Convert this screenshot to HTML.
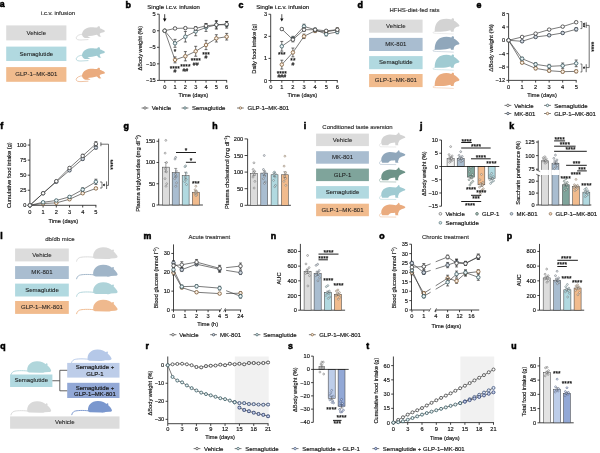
<!DOCTYPE html>
<html><head><meta charset="utf-8"><title>Figure</title>
<style>html,body{margin:0;padding:0;background:#fff;}body{width:600px;height:453px;overflow:hidden;font-family:"Liberation Sans",sans-serif;}svg{display:block;will-change:transform;opacity:0.999;}</style></head>
<body>
<svg width="600" height="453" viewBox="0 0 600 453" font-family="'Liberation Sans', sans-serif" shape-rendering="geometricPrecision">
<defs><filter id="soft" x="0" y="0" width="100%" height="100%" filterUnits="userSpaceOnUse"><feGaussianBlur stdDeviation="0.3"/></filter></defs>
<rect width="600" height="453" fill="#ffffff"/>
<g filter="url(#soft)">
<rect width="600" height="453" fill="#ffffff"/>
<g>
<text transform="translate(-0.2 7.1)" font-size="8.8" text-anchor="start" font-weight="bold" fill="#000" stroke="#000" stroke-width="0.55">a</text>
<text transform="translate(58 14.6) scale(1 1)" font-size="6" text-anchor="middle" fill="#333" stroke="#333" stroke-width="0.17">i.c.v. infusion</text>
<rect x="6.2" y="25.4" width="60.2" height="15" fill="#dcdcdc"/>
<text transform="translate(36.3 34.6) scale(1 1)" font-size="6.05" text-anchor="middle" fill="#1c1c1c" stroke="#1c1c1c" stroke-width="0.07">Vehicle</text>
<rect x="6.2" y="46.6" width="60.2" height="14.4" fill="#b1d9e0"/>
<text transform="translate(36.3 55.5) scale(1 1)" font-size="6.05" text-anchor="middle" fill="#1c1c1c" stroke="#1c1c1c" stroke-width="0.07">Semaglutide</text>
<rect x="6.2" y="67.1" width="60.2" height="14.7" fill="#f1bb8d"/>
<text transform="translate(36.3 76.15) scale(1 1)" font-size="6.05" text-anchor="middle" fill="#1c1c1c" stroke="#1c1c1c" stroke-width="0.07">GLP-1&#8211;MK-801</text>
<g transform="translate(75 25.2) scale(1)">
<path d="M7 9.2 C7.3 5.5 10.5 2.2 15.5 2 C18.5 1.9 20.5 2.3 22.2 2.3 C22.6 1.2 23.8 0.6 24.6 1.3 C25.2 1.9 25 2.6 24.8 3 C26.8 3.6 28.8 4.6 29.8 5.6 C30.1 6.2 29.6 6.8 28.6 7 C27 7.4 25.8 7.6 24.8 8.2 C24.6 9.6 25.2 10.6 26.4 11.4 L24.2 11.6 C23 10.8 22.4 9.8 21.6 9.6 C19 10.4 15.5 10.8 12.5 11.2 C13.5 11.8 14.8 12.2 15.6 12.9 L10.4 12.9 C8.6 12.4 7.2 11 7 9.2 Z" fill="#d3d3d3"/>
<path d="M7.4 9 C4.6 9 1.4 10.6 1.2 12.6 C1.1 14.3 3.2 14.9 6 14.8 L13 14.4" fill="none" stroke="#d3d3d3" stroke-width="0.7" stroke-linecap="round"/>
</g>
<g transform="translate(75 46.2) scale(1)">
<path d="M7 9.2 C7.3 5.5 10.5 2.2 15.5 2 C18.5 1.9 20.5 2.3 22.2 2.3 C22.6 1.2 23.8 0.6 24.6 1.3 C25.2 1.9 25 2.6 24.8 3 C26.8 3.6 28.8 4.6 29.8 5.6 C30.1 6.2 29.6 6.8 28.6 7 C27 7.4 25.8 7.6 24.8 8.2 C24.6 9.6 25.2 10.6 26.4 11.4 L24.2 11.6 C23 10.8 22.4 9.8 21.6 9.6 C19 10.4 15.5 10.8 12.5 11.2 C13.5 11.8 14.8 12.2 15.6 12.9 L10.4 12.9 C8.6 12.4 7.2 11 7 9.2 Z" fill="#a0cbd2"/>
<path d="M7.4 9 C4.6 9 1.4 10.6 1.2 12.6 C1.1 14.3 3.2 14.9 6 14.8 L13 14.4" fill="none" stroke="#a0cbd2" stroke-width="0.7" stroke-linecap="round"/>
</g>
<g transform="translate(75 66.8) scale(1)">
<path d="M7 9.2 C7.3 5.5 10.5 2.2 15.5 2 C18.5 1.9 20.5 2.3 22.2 2.3 C22.6 1.2 23.8 0.6 24.6 1.3 C25.2 1.9 25 2.6 24.8 3 C26.8 3.6 28.8 4.6 29.8 5.6 C30.1 6.2 29.6 6.8 28.6 7 C27 7.4 25.8 7.6 24.8 8.2 C24.6 9.6 25.2 10.6 26.4 11.4 L24.2 11.6 C23 10.8 22.4 9.8 21.6 9.6 C19 10.4 15.5 10.8 12.5 11.2 C13.5 11.8 14.8 12.2 15.6 12.9 L10.4 12.9 C8.6 12.4 7.2 11 7 9.2 Z" fill="#eaab7e"/>
<path d="M7.4 9 C4.6 9 1.4 10.6 1.2 12.6 C1.1 14.3 3.2 14.9 6 14.8 L13 14.4" fill="none" stroke="#eaab7e" stroke-width="0.7" stroke-linecap="round"/>
</g>
</g>
<g>
<text transform="translate(125.5 7.5)" font-size="8.8" text-anchor="start" font-weight="bold" fill="#000" stroke="#000" stroke-width="0.55">b</text>
<text transform="translate(147.3 9.3) scale(1 1)" font-size="6" text-anchor="start" fill="#161616" stroke="#161616" stroke-width="0.17">Single i.c.v. infusion</text>
<line x1="159.2" y1="14.2" x2="159.2" y2="80.4" stroke="#222222" stroke-width="0.85"/>
<line x1="157" y1="14.2" x2="159.2" y2="14.2" stroke="#222222" stroke-width="0.85"/>
<text transform="translate(155.7 16.2) scale(1 1)" font-size="5.65" text-anchor="end" fill="#161616" stroke="#161616" stroke-width="0.17">5</text>
<line x1="157" y1="30.75" x2="159.2" y2="30.75" stroke="#222222" stroke-width="0.85"/>
<text transform="translate(155.7 32.75) scale(1 1)" font-size="5.65" text-anchor="end" fill="#161616" stroke="#161616" stroke-width="0.17">0</text>
<line x1="157" y1="47.3" x2="159.2" y2="47.3" stroke="#222222" stroke-width="0.85"/>
<text transform="translate(155.7 49.3) scale(1 1)" font-size="5.65" text-anchor="end" fill="#161616" stroke="#161616" stroke-width="0.17">&#8722;5</text>
<line x1="157" y1="63.85" x2="159.2" y2="63.85" stroke="#222222" stroke-width="0.85"/>
<text transform="translate(155.7 65.85) scale(1 1)" font-size="5.65" text-anchor="end" fill="#161616" stroke="#161616" stroke-width="0.17">&#8722;10</text>
<line x1="157" y1="80.4" x2="159.2" y2="80.4" stroke="#222222" stroke-width="0.85"/>
<text transform="translate(155.7 82.4) scale(1 1)" font-size="5.65" text-anchor="end" fill="#161616" stroke="#161616" stroke-width="0.17">&#8722;15</text>
<line x1="159.2" y1="80.4" x2="227.08" y2="80.4" stroke="#222222" stroke-width="0.85"/>
<line x1="164.7" y1="80.4" x2="164.7" y2="82.6" stroke="#222222" stroke-width="0.85"/>
<text transform="translate(164.7 88.7) scale(1 1)" font-size="5.65" text-anchor="middle" fill="#161616" stroke="#161616" stroke-width="0.17">0</text>
<line x1="175.03" y1="80.4" x2="175.03" y2="82.6" stroke="#222222" stroke-width="0.85"/>
<text transform="translate(175.03 88.7) scale(1 1)" font-size="5.65" text-anchor="middle" fill="#161616" stroke="#161616" stroke-width="0.17">1</text>
<line x1="185.36" y1="80.4" x2="185.36" y2="82.6" stroke="#222222" stroke-width="0.85"/>
<text transform="translate(185.36 88.7) scale(1 1)" font-size="5.65" text-anchor="middle" fill="#161616" stroke="#161616" stroke-width="0.17">2</text>
<line x1="195.69" y1="80.4" x2="195.69" y2="82.6" stroke="#222222" stroke-width="0.85"/>
<text transform="translate(195.69 88.7) scale(1 1)" font-size="5.65" text-anchor="middle" fill="#161616" stroke="#161616" stroke-width="0.17">3</text>
<line x1="206.02" y1="80.4" x2="206.02" y2="82.6" stroke="#222222" stroke-width="0.85"/>
<text transform="translate(206.02 88.7) scale(1 1)" font-size="5.65" text-anchor="middle" fill="#161616" stroke="#161616" stroke-width="0.17">4</text>
<line x1="216.35" y1="80.4" x2="216.35" y2="82.6" stroke="#222222" stroke-width="0.85"/>
<text transform="translate(216.35 88.7) scale(1 1)" font-size="5.65" text-anchor="middle" fill="#161616" stroke="#161616" stroke-width="0.17">5</text>
<line x1="226.68" y1="80.4" x2="226.68" y2="82.6" stroke="#222222" stroke-width="0.85"/>
<text transform="translate(226.68 88.7) scale(1 1)" font-size="5.65" text-anchor="middle" fill="#161616" stroke="#161616" stroke-width="0.17">6</text>
<text transform="translate(193.3 97.2) scale(1 1)" font-size="5.65" text-anchor="middle" fill="#161616" stroke="#161616" stroke-width="0.17">Time (days)</text>
<text transform="translate(141.8 48.2) rotate(-90) scale(1 1)" font-size="5.65" text-anchor="middle" fill="#161616" stroke="#161616" stroke-width="0.17">&#916;Body weight (%)</text>
<line x1="164.7" y1="14.2" x2="164.7" y2="19.5" stroke="#111" stroke-width="0.8"/>
<path d="M162.9 18.4 L166.5 18.4 L164.7 21.8 Z" fill="#111"/>
<path d="M164.7 30.75 L175.03 59.88 L185.36 56.24 L195.69 51.27 L206.02 44.98 L216.35 38.36 L226.68 36.71" fill="none" stroke="#333" stroke-width="0.65"/>
<line x1="175.03" y1="56.9" x2="175.03" y2="62.86" stroke="#222222" stroke-width="0.65"/>
<line x1="173.53" y1="56.9" x2="176.53" y2="56.9" stroke="#222222" stroke-width="0.65"/>
<line x1="173.53" y1="62.86" x2="176.53" y2="62.86" stroke="#222222" stroke-width="0.65"/>
<line x1="185.36" y1="51.6" x2="185.36" y2="60.87" stroke="#222222" stroke-width="0.65"/>
<line x1="183.86" y1="51.6" x2="186.86" y2="51.6" stroke="#222222" stroke-width="0.65"/>
<line x1="183.86" y1="60.87" x2="186.86" y2="60.87" stroke="#222222" stroke-width="0.65"/>
<line x1="195.69" y1="46.31" x2="195.69" y2="56.24" stroke="#222222" stroke-width="0.65"/>
<line x1="194.19" y1="46.31" x2="197.19" y2="46.31" stroke="#222222" stroke-width="0.65"/>
<line x1="194.19" y1="56.24" x2="197.19" y2="56.24" stroke="#222222" stroke-width="0.65"/>
<line x1="206.02" y1="40.35" x2="206.02" y2="49.62" stroke="#222222" stroke-width="0.65"/>
<line x1="204.52" y1="40.35" x2="207.52" y2="40.35" stroke="#222222" stroke-width="0.65"/>
<line x1="204.52" y1="49.62" x2="207.52" y2="49.62" stroke="#222222" stroke-width="0.65"/>
<line x1="216.35" y1="34.72" x2="216.35" y2="42" stroke="#222222" stroke-width="0.65"/>
<line x1="214.85" y1="34.72" x2="217.85" y2="34.72" stroke="#222222" stroke-width="0.65"/>
<line x1="214.85" y1="42" x2="217.85" y2="42" stroke="#222222" stroke-width="0.65"/>
<line x1="226.68" y1="33.4" x2="226.68" y2="40.02" stroke="#222222" stroke-width="0.65"/>
<line x1="225.18" y1="33.4" x2="228.18" y2="33.4" stroke="#222222" stroke-width="0.65"/>
<line x1="225.18" y1="40.02" x2="228.18" y2="40.02" stroke="#222222" stroke-width="0.65"/>
<circle cx="164.7" cy="30.75" r="1.75" fill="#fbf1e6" stroke="#896742" stroke-width="0.88"/>
<circle cx="175.03" cy="59.88" r="1.75" fill="#fbf1e6" stroke="#896742" stroke-width="0.88"/>
<circle cx="185.36" cy="56.24" r="1.75" fill="#fbf1e6" stroke="#896742" stroke-width="0.88"/>
<circle cx="195.69" cy="51.27" r="1.75" fill="#fbf1e6" stroke="#896742" stroke-width="0.88"/>
<circle cx="206.02" cy="44.98" r="1.75" fill="#fbf1e6" stroke="#896742" stroke-width="0.88"/>
<circle cx="216.35" cy="38.36" r="1.75" fill="#fbf1e6" stroke="#896742" stroke-width="0.88"/>
<circle cx="226.68" cy="36.71" r="1.75" fill="#fbf1e6" stroke="#896742" stroke-width="0.88"/>
<path d="M164.7 30.75 L175.03 43.33 L185.36 36.71 L195.69 31.41 L206.02 27.44 L216.35 24.79 L226.68 24.79" fill="none" stroke="#333" stroke-width="0.65"/>
<line x1="175.03" y1="39.36" x2="175.03" y2="47.3" stroke="#222222" stroke-width="0.65"/>
<line x1="173.53" y1="39.36" x2="176.53" y2="39.36" stroke="#222222" stroke-width="0.65"/>
<line x1="173.53" y1="47.3" x2="176.53" y2="47.3" stroke="#222222" stroke-width="0.65"/>
<line x1="185.36" y1="31.41" x2="185.36" y2="42" stroke="#222222" stroke-width="0.65"/>
<line x1="183.86" y1="31.41" x2="186.86" y2="31.41" stroke="#222222" stroke-width="0.65"/>
<line x1="183.86" y1="42" x2="186.86" y2="42" stroke="#222222" stroke-width="0.65"/>
<line x1="195.69" y1="27.11" x2="195.69" y2="35.71" stroke="#222222" stroke-width="0.65"/>
<line x1="194.19" y1="27.11" x2="197.19" y2="27.11" stroke="#222222" stroke-width="0.65"/>
<line x1="194.19" y1="35.71" x2="197.19" y2="35.71" stroke="#222222" stroke-width="0.65"/>
<line x1="206.02" y1="23.47" x2="206.02" y2="31.41" stroke="#222222" stroke-width="0.65"/>
<line x1="204.52" y1="23.47" x2="207.52" y2="23.47" stroke="#222222" stroke-width="0.65"/>
<line x1="204.52" y1="31.41" x2="207.52" y2="31.41" stroke="#222222" stroke-width="0.65"/>
<line x1="216.35" y1="20.49" x2="216.35" y2="29.1" stroke="#222222" stroke-width="0.65"/>
<line x1="214.85" y1="20.49" x2="217.85" y2="20.49" stroke="#222222" stroke-width="0.65"/>
<line x1="214.85" y1="29.1" x2="217.85" y2="29.1" stroke="#222222" stroke-width="0.65"/>
<line x1="226.68" y1="21.48" x2="226.68" y2="28.1" stroke="#222222" stroke-width="0.65"/>
<line x1="225.18" y1="21.48" x2="228.18" y2="21.48" stroke="#222222" stroke-width="0.65"/>
<line x1="225.18" y1="28.1" x2="228.18" y2="28.1" stroke="#222222" stroke-width="0.65"/>
<circle cx="164.7" cy="30.75" r="1.75" fill="#edf5f6" stroke="#46646b" stroke-width="0.88"/>
<circle cx="175.03" cy="43.33" r="1.75" fill="#edf5f6" stroke="#46646b" stroke-width="0.88"/>
<circle cx="185.36" cy="36.71" r="1.75" fill="#edf5f6" stroke="#46646b" stroke-width="0.88"/>
<circle cx="195.69" cy="31.41" r="1.75" fill="#edf5f6" stroke="#46646b" stroke-width="0.88"/>
<circle cx="206.02" cy="27.44" r="1.75" fill="#edf5f6" stroke="#46646b" stroke-width="0.88"/>
<circle cx="216.35" cy="24.79" r="1.75" fill="#edf5f6" stroke="#46646b" stroke-width="0.88"/>
<circle cx="226.68" cy="24.79" r="1.75" fill="#edf5f6" stroke="#46646b" stroke-width="0.88"/>
<path d="M164.7 30.75 L175.03 28.43 L185.36 28.1 L195.69 28.43 L206.02 25.79 L216.35 24.79 L226.68 24.13" fill="none" stroke="#333" stroke-width="0.65"/>
<line x1="175.03" y1="27.44" x2="175.03" y2="29.43" stroke="#222222" stroke-width="0.65"/>
<line x1="173.53" y1="27.44" x2="176.53" y2="27.44" stroke="#222222" stroke-width="0.65"/>
<line x1="173.53" y1="29.43" x2="176.53" y2="29.43" stroke="#222222" stroke-width="0.65"/>
<line x1="185.36" y1="27.11" x2="185.36" y2="29.09" stroke="#222222" stroke-width="0.65"/>
<line x1="183.86" y1="27.11" x2="186.86" y2="27.11" stroke="#222222" stroke-width="0.65"/>
<line x1="183.86" y1="29.09" x2="186.86" y2="29.09" stroke="#222222" stroke-width="0.65"/>
<line x1="195.69" y1="26.78" x2="195.69" y2="30.09" stroke="#222222" stroke-width="0.65"/>
<line x1="194.19" y1="26.78" x2="197.19" y2="26.78" stroke="#222222" stroke-width="0.65"/>
<line x1="194.19" y1="30.09" x2="197.19" y2="30.09" stroke="#222222" stroke-width="0.65"/>
<line x1="206.02" y1="23.8" x2="206.02" y2="27.77" stroke="#222222" stroke-width="0.65"/>
<line x1="204.52" y1="23.8" x2="207.52" y2="23.8" stroke="#222222" stroke-width="0.65"/>
<line x1="204.52" y1="27.77" x2="207.52" y2="27.77" stroke="#222222" stroke-width="0.65"/>
<line x1="216.35" y1="21.48" x2="216.35" y2="28.1" stroke="#222222" stroke-width="0.65"/>
<line x1="214.85" y1="21.48" x2="217.85" y2="21.48" stroke="#222222" stroke-width="0.65"/>
<line x1="214.85" y1="28.1" x2="217.85" y2="28.1" stroke="#222222" stroke-width="0.65"/>
<line x1="226.68" y1="21.48" x2="226.68" y2="26.78" stroke="#222222" stroke-width="0.65"/>
<line x1="225.18" y1="21.48" x2="228.18" y2="21.48" stroke="#222222" stroke-width="0.65"/>
<line x1="225.18" y1="26.78" x2="228.18" y2="26.78" stroke="#222222" stroke-width="0.65"/>
<circle cx="164.7" cy="30.75" r="1.75" fill="#fff" stroke="#505050" stroke-width="0.88"/>
<circle cx="175.03" cy="28.43" r="1.75" fill="#fff" stroke="#505050" stroke-width="0.88"/>
<circle cx="185.36" cy="28.1" r="1.75" fill="#fff" stroke="#505050" stroke-width="0.88"/>
<circle cx="195.69" cy="28.43" r="1.75" fill="#fff" stroke="#505050" stroke-width="0.88"/>
<circle cx="206.02" cy="25.79" r="1.75" fill="#fff" stroke="#505050" stroke-width="0.88"/>
<circle cx="216.35" cy="24.79" r="1.75" fill="#fff" stroke="#505050" stroke-width="0.88"/>
<circle cx="226.68" cy="24.13" r="1.75" fill="#fff" stroke="#505050" stroke-width="0.88"/>
<text transform="translate(175.03 54.13)" font-size="6.5" text-anchor="middle" fill="#111" stroke="#111" stroke-width="0.22">*</text>
<text transform="translate(174.73 70.83)" font-size="6.5" text-anchor="middle" fill="#111" stroke="#111" stroke-width="0.22">****</text>
<text transform="translate(175.03 73.27)" font-size="5.2" text-anchor="middle" fill="#1c1c1c" stroke="#1c1c1c" stroke-width="0.12">#</text>
<text transform="translate(185.36 68.83)" font-size="6.5" text-anchor="middle" fill="#111" stroke="#111" stroke-width="0.22">****</text>
<text transform="translate(185.36 71.87)" font-size="5.2" text-anchor="middle" fill="#1c1c1c" stroke="#1c1c1c" stroke-width="0.12">##</text>
<text transform="translate(195.69 63.33)" font-size="6.5" text-anchor="middle" fill="#111" stroke="#111" stroke-width="0.22">****</text>
<text transform="translate(195.69 65.77)" font-size="5.2" text-anchor="middle" fill="#1c1c1c" stroke="#1c1c1c" stroke-width="0.12">##</text>
<text transform="translate(206.02 56.53)" font-size="6.5" text-anchor="middle" fill="#111" stroke="#111" stroke-width="0.22">***</text>
<text transform="translate(206.02 58.97)" font-size="5.2" text-anchor="middle" fill="#1c1c1c" stroke="#1c1c1c" stroke-width="0.12">#</text>
<line x1="141.6" y1="108" x2="148.4" y2="108" stroke="#333" stroke-width="0.65"/>
<circle cx="145" cy="108" r="1.2" fill="#fff" stroke="#505050" stroke-width="0.8"/>
<text transform="translate(151.7 110.1) scale(1 1)" font-size="6" text-anchor="start" fill="#161616" stroke="#161616" stroke-width="0.17">Vehicle</text>
<line x1="181.6" y1="108" x2="188.4" y2="108" stroke="#333" stroke-width="0.65"/>
<circle cx="185" cy="108" r="1.2" fill="#edf5f6" stroke="#46646b" stroke-width="0.8"/>
<text transform="translate(192 110.1) scale(1 1)" font-size="6" text-anchor="start" fill="#161616" stroke="#161616" stroke-width="0.17">Semaglutide</text>
<line x1="237" y1="108" x2="243.8" y2="108" stroke="#333" stroke-width="0.65"/>
<circle cx="240.4" cy="108" r="1.2" fill="#fbf1e6" stroke="#896742" stroke-width="0.8"/>
<text transform="translate(247.5 110.1) scale(1 1)" font-size="6" text-anchor="start" fill="#161616" stroke="#161616" stroke-width="0.17">GLP-1&#8211;MK-801</text>
</g>
<g>
<text transform="translate(238.5 7.5)" font-size="8.8" text-anchor="start" font-weight="bold" fill="#000" stroke="#000" stroke-width="0.55">c</text>
<text transform="translate(256.2 9.3) scale(1 1)" font-size="6.05" text-anchor="start" fill="#161616" stroke="#161616" stroke-width="0.17">Single i.c.v. infusion</text>
<line x1="270.7" y1="14.26" x2="270.7" y2="80.5" stroke="#222222" stroke-width="0.85"/>
<line x1="268.5" y1="80.5" x2="270.7" y2="80.5" stroke="#222222" stroke-width="0.85"/>
<text transform="translate(267.2 82.5) scale(1 1)" font-size="5.65" text-anchor="end" fill="#161616" stroke="#161616" stroke-width="0.17">0</text>
<line x1="268.5" y1="58.42" x2="270.7" y2="58.42" stroke="#222222" stroke-width="0.85"/>
<text transform="translate(267.2 60.42) scale(1 1)" font-size="5.65" text-anchor="end" fill="#161616" stroke="#161616" stroke-width="0.17">1</text>
<line x1="268.5" y1="36.34" x2="270.7" y2="36.34" stroke="#222222" stroke-width="0.85"/>
<text transform="translate(267.2 38.34) scale(1 1)" font-size="5.65" text-anchor="end" fill="#161616" stroke="#161616" stroke-width="0.17">2</text>
<line x1="268.5" y1="14.26" x2="270.7" y2="14.26" stroke="#222222" stroke-width="0.85"/>
<text transform="translate(267.2 16.26) scale(1 1)" font-size="5.65" text-anchor="end" fill="#161616" stroke="#161616" stroke-width="0.17">3</text>
<line x1="270.7" y1="80.5" x2="337.7" y2="80.5" stroke="#222222" stroke-width="0.85"/>
<line x1="270.7" y1="80.5" x2="270.7" y2="82.7" stroke="#222222" stroke-width="0.85"/>
<text transform="translate(270.7 88.8) scale(1 1)" font-size="5.65" text-anchor="middle" fill="#161616" stroke="#161616" stroke-width="0.17">0</text>
<line x1="281.8" y1="80.5" x2="281.8" y2="82.7" stroke="#222222" stroke-width="0.85"/>
<text transform="translate(281.8 88.8) scale(1 1)" font-size="5.65" text-anchor="middle" fill="#161616" stroke="#161616" stroke-width="0.17">1</text>
<line x1="292.9" y1="80.5" x2="292.9" y2="82.7" stroke="#222222" stroke-width="0.85"/>
<text transform="translate(292.9 88.8) scale(1 1)" font-size="5.65" text-anchor="middle" fill="#161616" stroke="#161616" stroke-width="0.17">2</text>
<line x1="304" y1="80.5" x2="304" y2="82.7" stroke="#222222" stroke-width="0.85"/>
<text transform="translate(304 88.8) scale(1 1)" font-size="5.65" text-anchor="middle" fill="#161616" stroke="#161616" stroke-width="0.17">3</text>
<line x1="315.1" y1="80.5" x2="315.1" y2="82.7" stroke="#222222" stroke-width="0.85"/>
<text transform="translate(315.1 88.8) scale(1 1)" font-size="5.65" text-anchor="middle" fill="#161616" stroke="#161616" stroke-width="0.17">4</text>
<line x1="326.2" y1="80.5" x2="326.2" y2="82.7" stroke="#222222" stroke-width="0.85"/>
<text transform="translate(326.2 88.8) scale(1 1)" font-size="5.65" text-anchor="middle" fill="#161616" stroke="#161616" stroke-width="0.17">5</text>
<line x1="337.3" y1="80.5" x2="337.3" y2="82.7" stroke="#222222" stroke-width="0.85"/>
<text transform="translate(337.3 88.8) scale(1 1)" font-size="5.65" text-anchor="middle" fill="#161616" stroke="#161616" stroke-width="0.17">6</text>
<text transform="translate(302.4 97.2) scale(1 1)" font-size="5.65" text-anchor="middle" fill="#161616" stroke="#161616" stroke-width="0.17">Time (days)</text>
<text transform="translate(256.2 48.6) rotate(-90) scale(1 1)" font-size="5.65" text-anchor="middle" fill="#161616" stroke="#161616" stroke-width="0.17">Daily food intake (g)</text>
<line x1="281.8" y1="14.2" x2="281.8" y2="19.5" stroke="#111" stroke-width="0.7"/>
<path d="M280.1 18.6 L283.5 18.6 L281.8 21.6 Z" fill="#111"/>
<path d="M281.8 64.6 L292.9 52.46 L304 36.34 L315.1 30.82 L326.2 31.92 L337.3 29.72" fill="none" stroke="#333" stroke-width="0.65"/>
<line x1="281.8" y1="60.19" x2="281.8" y2="69.02" stroke="#222222" stroke-width="0.65"/>
<line x1="280.3" y1="60.19" x2="283.3" y2="60.19" stroke="#222222" stroke-width="0.65"/>
<line x1="280.3" y1="69.02" x2="283.3" y2="69.02" stroke="#222222" stroke-width="0.65"/>
<line x1="292.9" y1="48.04" x2="292.9" y2="56.87" stroke="#222222" stroke-width="0.65"/>
<line x1="291.4" y1="48.04" x2="294.4" y2="48.04" stroke="#222222" stroke-width="0.65"/>
<line x1="291.4" y1="56.87" x2="294.4" y2="56.87" stroke="#222222" stroke-width="0.65"/>
<line x1="304" y1="34.13" x2="304" y2="38.55" stroke="#222222" stroke-width="0.65"/>
<line x1="302.5" y1="34.13" x2="305.5" y2="34.13" stroke="#222222" stroke-width="0.65"/>
<line x1="302.5" y1="38.55" x2="305.5" y2="38.55" stroke="#222222" stroke-width="0.65"/>
<line x1="315.1" y1="29.05" x2="315.1" y2="32.59" stroke="#222222" stroke-width="0.65"/>
<line x1="313.6" y1="29.05" x2="316.6" y2="29.05" stroke="#222222" stroke-width="0.65"/>
<line x1="313.6" y1="32.59" x2="316.6" y2="32.59" stroke="#222222" stroke-width="0.65"/>
<line x1="326.2" y1="30.38" x2="326.2" y2="33.47" stroke="#222222" stroke-width="0.65"/>
<line x1="324.7" y1="30.38" x2="327.7" y2="30.38" stroke="#222222" stroke-width="0.65"/>
<line x1="324.7" y1="33.47" x2="327.7" y2="33.47" stroke="#222222" stroke-width="0.65"/>
<line x1="337.3" y1="27.95" x2="337.3" y2="31.48" stroke="#222222" stroke-width="0.65"/>
<line x1="335.8" y1="27.95" x2="338.8" y2="27.95" stroke="#222222" stroke-width="0.65"/>
<line x1="335.8" y1="31.48" x2="338.8" y2="31.48" stroke="#222222" stroke-width="0.65"/>
<circle cx="281.8" cy="64.6" r="1.75" fill="#fbf1e6" stroke="#896742" stroke-width="0.88"/>
<circle cx="292.9" cy="52.46" r="1.75" fill="#fbf1e6" stroke="#896742" stroke-width="0.88"/>
<circle cx="304" cy="36.34" r="1.75" fill="#fbf1e6" stroke="#896742" stroke-width="0.88"/>
<circle cx="315.1" cy="30.82" r="1.75" fill="#fbf1e6" stroke="#896742" stroke-width="0.88"/>
<circle cx="326.2" cy="31.92" r="1.75" fill="#fbf1e6" stroke="#896742" stroke-width="0.88"/>
<circle cx="337.3" cy="29.72" r="1.75" fill="#fbf1e6" stroke="#896742" stroke-width="0.88"/>
<path d="M281.8 46.28 L292.9 38.55 L304 26.4 L315.1 29.72 L326.2 34.13 L337.3 31.92" fill="none" stroke="#333" stroke-width="0.65"/>
<line x1="281.8" y1="41.42" x2="281.8" y2="51.13" stroke="#222222" stroke-width="0.65"/>
<line x1="280.3" y1="41.42" x2="283.3" y2="41.42" stroke="#222222" stroke-width="0.65"/>
<line x1="280.3" y1="51.13" x2="283.3" y2="51.13" stroke="#222222" stroke-width="0.65"/>
<line x1="292.9" y1="36.34" x2="292.9" y2="40.76" stroke="#222222" stroke-width="0.65"/>
<line x1="291.4" y1="36.34" x2="294.4" y2="36.34" stroke="#222222" stroke-width="0.65"/>
<line x1="291.4" y1="40.76" x2="294.4" y2="40.76" stroke="#222222" stroke-width="0.65"/>
<line x1="304" y1="24.2" x2="304" y2="28.61" stroke="#222222" stroke-width="0.65"/>
<line x1="302.5" y1="24.2" x2="305.5" y2="24.2" stroke="#222222" stroke-width="0.65"/>
<line x1="302.5" y1="28.61" x2="305.5" y2="28.61" stroke="#222222" stroke-width="0.65"/>
<line x1="315.1" y1="28.17" x2="315.1" y2="31.26" stroke="#222222" stroke-width="0.65"/>
<line x1="313.6" y1="28.17" x2="316.6" y2="28.17" stroke="#222222" stroke-width="0.65"/>
<line x1="313.6" y1="31.26" x2="316.6" y2="31.26" stroke="#222222" stroke-width="0.65"/>
<line x1="326.2" y1="32.37" x2="326.2" y2="35.9" stroke="#222222" stroke-width="0.65"/>
<line x1="324.7" y1="32.37" x2="327.7" y2="32.37" stroke="#222222" stroke-width="0.65"/>
<line x1="324.7" y1="35.9" x2="327.7" y2="35.9" stroke="#222222" stroke-width="0.65"/>
<line x1="337.3" y1="30.16" x2="337.3" y2="33.69" stroke="#222222" stroke-width="0.65"/>
<line x1="335.8" y1="30.16" x2="338.8" y2="30.16" stroke="#222222" stroke-width="0.65"/>
<line x1="335.8" y1="33.69" x2="338.8" y2="33.69" stroke="#222222" stroke-width="0.65"/>
<circle cx="281.8" cy="46.28" r="1.75" fill="#edf5f6" stroke="#46646b" stroke-width="0.88"/>
<circle cx="292.9" cy="38.55" r="1.75" fill="#edf5f6" stroke="#46646b" stroke-width="0.88"/>
<circle cx="304" cy="26.4" r="1.75" fill="#edf5f6" stroke="#46646b" stroke-width="0.88"/>
<circle cx="315.1" cy="29.72" r="1.75" fill="#edf5f6" stroke="#46646b" stroke-width="0.88"/>
<circle cx="326.2" cy="34.13" r="1.75" fill="#edf5f6" stroke="#46646b" stroke-width="0.88"/>
<circle cx="337.3" cy="31.92" r="1.75" fill="#edf5f6" stroke="#46646b" stroke-width="0.88"/>
<path d="M281.8 29.05 L292.9 39.65 L304 29.72 L315.1 29.72 L326.2 30.82 L337.3 29.72" fill="none" stroke="#333" stroke-width="0.65"/>
<line x1="281.8" y1="27.95" x2="281.8" y2="30.16" stroke="#222222" stroke-width="0.65"/>
<line x1="280.3" y1="27.95" x2="283.3" y2="27.95" stroke="#222222" stroke-width="0.65"/>
<line x1="280.3" y1="30.16" x2="283.3" y2="30.16" stroke="#222222" stroke-width="0.65"/>
<line x1="292.9" y1="37.44" x2="292.9" y2="41.86" stroke="#222222" stroke-width="0.65"/>
<line x1="291.4" y1="37.44" x2="294.4" y2="37.44" stroke="#222222" stroke-width="0.65"/>
<line x1="291.4" y1="41.86" x2="294.4" y2="41.86" stroke="#222222" stroke-width="0.65"/>
<line x1="304" y1="27.95" x2="304" y2="31.48" stroke="#222222" stroke-width="0.65"/>
<line x1="302.5" y1="27.95" x2="305.5" y2="27.95" stroke="#222222" stroke-width="0.65"/>
<line x1="302.5" y1="31.48" x2="305.5" y2="31.48" stroke="#222222" stroke-width="0.65"/>
<line x1="315.1" y1="28.39" x2="315.1" y2="31.04" stroke="#222222" stroke-width="0.65"/>
<line x1="313.6" y1="28.39" x2="316.6" y2="28.39" stroke="#222222" stroke-width="0.65"/>
<line x1="313.6" y1="31.04" x2="316.6" y2="31.04" stroke="#222222" stroke-width="0.65"/>
<line x1="326.2" y1="29.5" x2="326.2" y2="32.14" stroke="#222222" stroke-width="0.65"/>
<line x1="324.7" y1="29.5" x2="327.7" y2="29.5" stroke="#222222" stroke-width="0.65"/>
<line x1="324.7" y1="32.14" x2="327.7" y2="32.14" stroke="#222222" stroke-width="0.65"/>
<line x1="337.3" y1="28.17" x2="337.3" y2="31.26" stroke="#222222" stroke-width="0.65"/>
<line x1="335.8" y1="28.17" x2="338.8" y2="28.17" stroke="#222222" stroke-width="0.65"/>
<line x1="335.8" y1="31.26" x2="338.8" y2="31.26" stroke="#222222" stroke-width="0.65"/>
<circle cx="281.8" cy="29.05" r="1.75" fill="#fff" stroke="#505050" stroke-width="0.88"/>
<circle cx="292.9" cy="39.65" r="1.75" fill="#fff" stroke="#505050" stroke-width="0.88"/>
<circle cx="304" cy="29.72" r="1.75" fill="#fff" stroke="#505050" stroke-width="0.88"/>
<circle cx="315.1" cy="29.72" r="1.75" fill="#fff" stroke="#505050" stroke-width="0.88"/>
<circle cx="326.2" cy="30.82" r="1.75" fill="#fff" stroke="#505050" stroke-width="0.88"/>
<circle cx="337.3" cy="29.72" r="1.75" fill="#fff" stroke="#505050" stroke-width="0.88"/>
<text transform="translate(281.8 57.13)" font-size="6.5" text-anchor="middle" fill="#111" stroke="#111" stroke-width="0.22">***</text>
<text transform="translate(281.8 75.83)" font-size="6.5" text-anchor="middle" fill="#111" stroke="#111" stroke-width="0.22">****</text>
<text transform="translate(281.8 78.27)" font-size="5.2" text-anchor="middle" fill="#1c1c1c" stroke="#1c1c1c" stroke-width="0.12">###</text>
<text transform="translate(292.9 63.33)" font-size="6.5" text-anchor="middle" fill="#111" stroke="#111" stroke-width="0.22">**</text>
<text transform="translate(292.9 65.77)" font-size="5.2" text-anchor="middle" fill="#1c1c1c" stroke="#1c1c1c" stroke-width="0.12">#</text>
</g>
<g>
<text transform="translate(357.5 7.5)" font-size="8.8" text-anchor="start" font-weight="bold" fill="#000" stroke="#000" stroke-width="0.55">d</text>
<text transform="translate(414.5 12) scale(1 1)" font-size="6" text-anchor="middle" fill="#333" stroke="#333" stroke-width="0.17">HFHS-diet-fed rats</text>
<rect x="369.1" y="19.6" width="53.5" height="13.1" fill="#dcdcdc"/>
<text transform="translate(395.85 27.85) scale(1 1)" font-size="6.05" text-anchor="middle" fill="#1c1c1c" stroke="#1c1c1c" stroke-width="0.07">Vehicle</text>
<rect x="369.1" y="37.9" width="53.5" height="13.1" fill="#a9bdd0"/>
<text transform="translate(395.85 46.15) scale(1 1)" font-size="6.05" text-anchor="middle" fill="#1c1c1c" stroke="#1c1c1c" stroke-width="0.07">MK-801</text>
<rect x="369.1" y="56.1" width="53.5" height="13.1" fill="#b1d9e0"/>
<text transform="translate(395.85 64.35) scale(1 1)" font-size="6.05" text-anchor="middle" fill="#1c1c1c" stroke="#1c1c1c" stroke-width="0.07">Semaglutide</text>
<rect x="369.1" y="74" width="53.5" height="13.1" fill="#f1bb8d"/>
<text transform="translate(395.85 82.25) scale(1 1)" font-size="6.05" text-anchor="middle" fill="#1c1c1c" stroke="#1c1c1c" stroke-width="0.07">GLP-1&#8211;MK-801</text>
<g transform="translate(432.6 17.8) scale(0.99)">
<path d="M2.6 13.8 C1 14 0.2 14.6 0.5 15.2 C1 16 8 15.6 21 16.4" fill="none" stroke="#d3d3d3" stroke-width="0.9" stroke-linecap="round" opacity="0.45"/>
<path d="M2.2 14 C1.9 9 3.8 3.6 8.5 1.8 C12 0.5 16 0.6 19 1.7 C19.3 0.6 20.4 0.1 21.2 0.7 C21.8 1.2 21.7 2.0 21.4 2.7 C23.8 4 26 6 27 7.4 C27.3 8 26.9 8.6 26 8.8 C24.6 9 23.4 9.5 22.6 10.2 C21.6 11.2 21.2 12.6 21.3 14 L18.6 14 C18.5 13.3 18.3 12.8 17.8 12.6 C15.5 13.4 12 14 8 14 Z" fill="#d3d3d3"/>
</g>
<g transform="translate(432.6 35.9) scale(0.99)">
<path d="M2.6 13.8 C1 14 0.2 14.6 0.5 15.2 C1 16 8 15.6 21 16.4" fill="none" stroke="#90a7bb" stroke-width="0.9" stroke-linecap="round" opacity="0.45"/>
<path d="M2.2 14 C1.9 9 3.8 3.6 8.5 1.8 C12 0.5 16 0.6 19 1.7 C19.3 0.6 20.4 0.1 21.2 0.7 C21.8 1.2 21.7 2.0 21.4 2.7 C23.8 4 26 6 27 7.4 C27.3 8 26.9 8.6 26 8.8 C24.6 9 23.4 9.5 22.6 10.2 C21.6 11.2 21.2 12.6 21.3 14 L18.6 14 C18.5 13.3 18.3 12.8 17.8 12.6 C15.5 13.4 12 14 8 14 Z" fill="#90a7bb"/>
</g>
<g transform="translate(432.6 54) scale(0.99)">
<path d="M2.6 13.8 C1 14 0.2 14.6 0.5 15.2 C1 16 8 15.6 21 16.4" fill="none" stroke="#a0cbd2" stroke-width="0.9" stroke-linecap="round" opacity="0.45"/>
<path d="M2.2 14 C1.9 9 3.8 3.6 8.5 1.8 C12 0.5 16 0.6 19 1.7 C19.3 0.6 20.4 0.1 21.2 0.7 C21.8 1.2 21.7 2.0 21.4 2.7 C23.8 4 26 6 27 7.4 C27.3 8 26.9 8.6 26 8.8 C24.6 9 23.4 9.5 22.6 10.2 C21.6 11.2 21.2 12.6 21.3 14 L18.6 14 C18.5 13.3 18.3 12.8 17.8 12.6 C15.5 13.4 12 14 8 14 Z" fill="#a0cbd2"/>
</g>
<g transform="translate(432.6 72.2) scale(0.99)">
<path d="M2.6 13.8 C1 14 0.2 14.6 0.5 15.2 C1 16 8 15.6 21 16.4" fill="none" stroke="#eaab7e" stroke-width="0.9" stroke-linecap="round" opacity="0.45"/>
<path d="M2.2 14 C1.9 9 3.8 3.6 8.5 1.8 C12 0.5 16 0.6 19 1.7 C19.3 0.6 20.4 0.1 21.2 0.7 C21.8 1.2 21.7 2.0 21.4 2.7 C23.8 4 26 6 27 7.4 C27.3 8 26.9 8.6 26 8.8 C24.6 9 23.4 9.5 22.6 10.2 C21.6 11.2 21.2 12.6 21.3 14 L18.6 14 C18.5 13.3 18.3 12.8 17.8 12.6 C15.5 13.4 12 14 8 14 Z" fill="#eaab7e"/>
</g>
</g>
<g>
<text transform="translate(476.5 7.5)" font-size="8.8" text-anchor="start" font-weight="bold" fill="#000" stroke="#000" stroke-width="0.55">e</text>
<line x1="508.6" y1="13.58" x2="508.6" y2="80.38" stroke="#222222" stroke-width="0.85"/>
<line x1="506.4" y1="13.58" x2="508.6" y2="13.58" stroke="#222222" stroke-width="0.85"/>
<text transform="translate(505.1 15.58) scale(1 1)" font-size="5.65" text-anchor="end" fill="#161616" stroke="#161616" stroke-width="0.17">8</text>
<line x1="506.4" y1="26.94" x2="508.6" y2="26.94" stroke="#222222" stroke-width="0.85"/>
<text transform="translate(505.1 28.94) scale(1 1)" font-size="5.65" text-anchor="end" fill="#161616" stroke="#161616" stroke-width="0.17">4</text>
<line x1="506.4" y1="40.3" x2="508.6" y2="40.3" stroke="#222222" stroke-width="0.85"/>
<text transform="translate(505.1 42.3) scale(1 1)" font-size="5.65" text-anchor="end" fill="#161616" stroke="#161616" stroke-width="0.17">0</text>
<line x1="506.4" y1="53.66" x2="508.6" y2="53.66" stroke="#222222" stroke-width="0.85"/>
<text transform="translate(505.1 55.66) scale(1 1)" font-size="5.65" text-anchor="end" fill="#161616" stroke="#161616" stroke-width="0.17">&#8722;4</text>
<line x1="506.4" y1="67.02" x2="508.6" y2="67.02" stroke="#222222" stroke-width="0.85"/>
<text transform="translate(505.1 69.02) scale(1 1)" font-size="5.65" text-anchor="end" fill="#161616" stroke="#161616" stroke-width="0.17">&#8722;8</text>
<line x1="506.4" y1="80.38" x2="508.6" y2="80.38" stroke="#222222" stroke-width="0.85"/>
<text transform="translate(505.1 82.38) scale(1 1)" font-size="5.65" text-anchor="end" fill="#161616" stroke="#161616" stroke-width="0.17">&#8722;12</text>
<line x1="508.6" y1="80.38" x2="576.6" y2="80.38" stroke="#222222" stroke-width="0.85"/>
<line x1="508.6" y1="80.38" x2="508.6" y2="82.58" stroke="#222222" stroke-width="0.85"/>
<text transform="translate(508.6 88.68) scale(1 1)" font-size="5.65" text-anchor="middle" fill="#161616" stroke="#161616" stroke-width="0.17">0</text>
<line x1="522.12" y1="80.38" x2="522.12" y2="82.58" stroke="#222222" stroke-width="0.85"/>
<text transform="translate(522.12 88.68) scale(1 1)" font-size="5.65" text-anchor="middle" fill="#161616" stroke="#161616" stroke-width="0.17">1</text>
<line x1="535.64" y1="80.38" x2="535.64" y2="82.58" stroke="#222222" stroke-width="0.85"/>
<text transform="translate(535.64 88.68) scale(1 1)" font-size="5.65" text-anchor="middle" fill="#161616" stroke="#161616" stroke-width="0.17">2</text>
<line x1="549.16" y1="80.38" x2="549.16" y2="82.58" stroke="#222222" stroke-width="0.85"/>
<text transform="translate(549.16 88.68) scale(1 1)" font-size="5.65" text-anchor="middle" fill="#161616" stroke="#161616" stroke-width="0.17">3</text>
<line x1="562.68" y1="80.38" x2="562.68" y2="82.58" stroke="#222222" stroke-width="0.85"/>
<text transform="translate(562.68 88.68) scale(1 1)" font-size="5.65" text-anchor="middle" fill="#161616" stroke="#161616" stroke-width="0.17">4</text>
<line x1="576.2" y1="80.38" x2="576.2" y2="82.58" stroke="#222222" stroke-width="0.85"/>
<text transform="translate(576.2 88.68) scale(1 1)" font-size="5.65" text-anchor="middle" fill="#161616" stroke="#161616" stroke-width="0.17">5</text>
<text transform="translate(542 97.3) scale(1 1)" font-size="5.65" text-anchor="middle" fill="#161616" stroke="#161616" stroke-width="0.17">Time (days)</text>
<text transform="translate(493.2 48) rotate(-90) scale(1 1)" font-size="6" text-anchor="middle" fill="#161616" stroke="#161616" stroke-width="0.17">&#916;Body weight (%)</text>
<path d="M508.6 40.3 L522.12 62.68 L535.64 68.36 L549.16 70.69 L562.68 71.7 L576.2 71.36" fill="none" stroke="#333" stroke-width="0.65"/>
<line x1="522.12" y1="61.68" x2="522.12" y2="63.68" stroke="#222222" stroke-width="0.65"/>
<line x1="520.62" y1="61.68" x2="523.62" y2="61.68" stroke="#222222" stroke-width="0.65"/>
<line x1="520.62" y1="63.68" x2="523.62" y2="63.68" stroke="#222222" stroke-width="0.65"/>
<line x1="535.64" y1="67.02" x2="535.64" y2="69.69" stroke="#222222" stroke-width="0.65"/>
<line x1="534.14" y1="67.02" x2="537.14" y2="67.02" stroke="#222222" stroke-width="0.65"/>
<line x1="534.14" y1="69.69" x2="537.14" y2="69.69" stroke="#222222" stroke-width="0.65"/>
<line x1="549.16" y1="69.36" x2="549.16" y2="72.03" stroke="#222222" stroke-width="0.65"/>
<line x1="547.66" y1="69.36" x2="550.66" y2="69.36" stroke="#222222" stroke-width="0.65"/>
<line x1="547.66" y1="72.03" x2="550.66" y2="72.03" stroke="#222222" stroke-width="0.65"/>
<line x1="562.68" y1="70.36" x2="562.68" y2="73.03" stroke="#222222" stroke-width="0.65"/>
<line x1="561.18" y1="70.36" x2="564.18" y2="70.36" stroke="#222222" stroke-width="0.65"/>
<line x1="561.18" y1="73.03" x2="564.18" y2="73.03" stroke="#222222" stroke-width="0.65"/>
<line x1="576.2" y1="70.03" x2="576.2" y2="72.7" stroke="#222222" stroke-width="0.65"/>
<line x1="574.7" y1="70.03" x2="577.7" y2="70.03" stroke="#222222" stroke-width="0.65"/>
<line x1="574.7" y1="72.7" x2="577.7" y2="72.7" stroke="#222222" stroke-width="0.65"/>
<circle cx="508.6" cy="40.3" r="1.75" fill="#fbf1e6" stroke="#896742" stroke-width="0.88"/>
<circle cx="522.12" cy="62.68" r="1.75" fill="#fbf1e6" stroke="#896742" stroke-width="0.88"/>
<circle cx="535.64" cy="68.36" r="1.75" fill="#fbf1e6" stroke="#896742" stroke-width="0.88"/>
<circle cx="549.16" cy="70.69" r="1.75" fill="#fbf1e6" stroke="#896742" stroke-width="0.88"/>
<circle cx="562.68" cy="71.7" r="1.75" fill="#fbf1e6" stroke="#896742" stroke-width="0.88"/>
<circle cx="576.2" cy="71.36" r="1.75" fill="#fbf1e6" stroke="#896742" stroke-width="0.88"/>
<path d="M508.6 40.3 L522.12 58.67 L535.64 64.35 L549.16 66.35 L562.68 65.68 L576.2 63.35" fill="none" stroke="#333" stroke-width="0.65"/>
<line x1="522.12" y1="57.33" x2="522.12" y2="60.01" stroke="#222222" stroke-width="0.65"/>
<line x1="520.62" y1="57.33" x2="523.62" y2="57.33" stroke="#222222" stroke-width="0.65"/>
<line x1="520.62" y1="60.01" x2="523.62" y2="60.01" stroke="#222222" stroke-width="0.65"/>
<line x1="535.64" y1="62.68" x2="535.64" y2="66.02" stroke="#222222" stroke-width="0.65"/>
<line x1="534.14" y1="62.68" x2="537.14" y2="62.68" stroke="#222222" stroke-width="0.65"/>
<line x1="534.14" y1="66.02" x2="537.14" y2="66.02" stroke="#222222" stroke-width="0.65"/>
<line x1="549.16" y1="64.35" x2="549.16" y2="68.36" stroke="#222222" stroke-width="0.65"/>
<line x1="547.66" y1="64.35" x2="550.66" y2="64.35" stroke="#222222" stroke-width="0.65"/>
<line x1="547.66" y1="68.36" x2="550.66" y2="68.36" stroke="#222222" stroke-width="0.65"/>
<line x1="562.68" y1="63.01" x2="562.68" y2="68.36" stroke="#222222" stroke-width="0.65"/>
<line x1="561.18" y1="63.01" x2="564.18" y2="63.01" stroke="#222222" stroke-width="0.65"/>
<line x1="561.18" y1="68.36" x2="564.18" y2="68.36" stroke="#222222" stroke-width="0.65"/>
<line x1="576.2" y1="60.01" x2="576.2" y2="66.69" stroke="#222222" stroke-width="0.65"/>
<line x1="574.7" y1="60.01" x2="577.7" y2="60.01" stroke="#222222" stroke-width="0.65"/>
<line x1="574.7" y1="66.69" x2="577.7" y2="66.69" stroke="#222222" stroke-width="0.65"/>
<circle cx="508.6" cy="40.3" r="1.75" fill="#edf5f6" stroke="#46646b" stroke-width="0.88"/>
<circle cx="522.12" cy="58.67" r="1.75" fill="#edf5f6" stroke="#46646b" stroke-width="0.88"/>
<circle cx="535.64" cy="64.35" r="1.75" fill="#edf5f6" stroke="#46646b" stroke-width="0.88"/>
<circle cx="549.16" cy="66.35" r="1.75" fill="#edf5f6" stroke="#46646b" stroke-width="0.88"/>
<circle cx="562.68" cy="65.68" r="1.75" fill="#edf5f6" stroke="#46646b" stroke-width="0.88"/>
<circle cx="576.2" cy="63.35" r="1.75" fill="#edf5f6" stroke="#46646b" stroke-width="0.88"/>
<path d="M508.6 40.3 L522.12 41.3 L535.64 36.96 L549.16 35.29 L562.68 32.95 L576.2 29.28" fill="none" stroke="#333" stroke-width="0.65"/>
<line x1="522.12" y1="40.3" x2="522.12" y2="42.3" stroke="#222222" stroke-width="0.65"/>
<line x1="520.62" y1="40.3" x2="523.62" y2="40.3" stroke="#222222" stroke-width="0.65"/>
<line x1="520.62" y1="42.3" x2="523.62" y2="42.3" stroke="#222222" stroke-width="0.65"/>
<line x1="535.64" y1="35.96" x2="535.64" y2="37.96" stroke="#222222" stroke-width="0.65"/>
<line x1="534.14" y1="35.96" x2="537.14" y2="35.96" stroke="#222222" stroke-width="0.65"/>
<line x1="534.14" y1="37.96" x2="537.14" y2="37.96" stroke="#222222" stroke-width="0.65"/>
<line x1="549.16" y1="34.29" x2="549.16" y2="36.29" stroke="#222222" stroke-width="0.65"/>
<line x1="547.66" y1="34.29" x2="550.66" y2="34.29" stroke="#222222" stroke-width="0.65"/>
<line x1="547.66" y1="36.29" x2="550.66" y2="36.29" stroke="#222222" stroke-width="0.65"/>
<line x1="562.68" y1="31.62" x2="562.68" y2="34.29" stroke="#222222" stroke-width="0.65"/>
<line x1="561.18" y1="31.62" x2="564.18" y2="31.62" stroke="#222222" stroke-width="0.65"/>
<line x1="561.18" y1="34.29" x2="564.18" y2="34.29" stroke="#222222" stroke-width="0.65"/>
<line x1="576.2" y1="27.61" x2="576.2" y2="30.95" stroke="#222222" stroke-width="0.65"/>
<line x1="574.7" y1="27.61" x2="577.7" y2="27.61" stroke="#222222" stroke-width="0.65"/>
<line x1="574.7" y1="30.95" x2="577.7" y2="30.95" stroke="#222222" stroke-width="0.65"/>
<circle cx="508.6" cy="40.3" r="1.75" fill="#d3dae2" stroke="#434d59" stroke-width="0.88"/>
<circle cx="522.12" cy="41.3" r="1.75" fill="#d3dae2" stroke="#434d59" stroke-width="0.88"/>
<circle cx="535.64" cy="36.96" r="1.75" fill="#d3dae2" stroke="#434d59" stroke-width="0.88"/>
<circle cx="549.16" cy="35.29" r="1.75" fill="#d3dae2" stroke="#434d59" stroke-width="0.88"/>
<circle cx="562.68" cy="32.95" r="1.75" fill="#d3dae2" stroke="#434d59" stroke-width="0.88"/>
<circle cx="576.2" cy="29.28" r="1.75" fill="#d3dae2" stroke="#434d59" stroke-width="0.88"/>
<path d="M508.6 40.3 L522.12 36.96 L535.64 33.62 L549.16 29.61 L562.68 26.61 L576.2 22.26" fill="none" stroke="#333" stroke-width="0.65"/>
<line x1="522.12" y1="36.29" x2="522.12" y2="37.63" stroke="#222222" stroke-width="0.65"/>
<line x1="520.62" y1="36.29" x2="523.62" y2="36.29" stroke="#222222" stroke-width="0.65"/>
<line x1="520.62" y1="37.63" x2="523.62" y2="37.63" stroke="#222222" stroke-width="0.65"/>
<line x1="535.64" y1="32.95" x2="535.64" y2="34.29" stroke="#222222" stroke-width="0.65"/>
<line x1="534.14" y1="32.95" x2="537.14" y2="32.95" stroke="#222222" stroke-width="0.65"/>
<line x1="534.14" y1="34.29" x2="537.14" y2="34.29" stroke="#222222" stroke-width="0.65"/>
<line x1="549.16" y1="28.61" x2="549.16" y2="30.61" stroke="#222222" stroke-width="0.65"/>
<line x1="547.66" y1="28.61" x2="550.66" y2="28.61" stroke="#222222" stroke-width="0.65"/>
<line x1="547.66" y1="30.61" x2="550.66" y2="30.61" stroke="#222222" stroke-width="0.65"/>
<line x1="562.68" y1="25.6" x2="562.68" y2="27.61" stroke="#222222" stroke-width="0.65"/>
<line x1="561.18" y1="25.6" x2="564.18" y2="25.6" stroke="#222222" stroke-width="0.65"/>
<line x1="561.18" y1="27.61" x2="564.18" y2="27.61" stroke="#222222" stroke-width="0.65"/>
<line x1="576.2" y1="21.26" x2="576.2" y2="23.27" stroke="#222222" stroke-width="0.65"/>
<line x1="574.7" y1="21.26" x2="577.7" y2="21.26" stroke="#222222" stroke-width="0.65"/>
<line x1="574.7" y1="23.27" x2="577.7" y2="23.27" stroke="#222222" stroke-width="0.65"/>
<circle cx="508.6" cy="40.3" r="1.75" fill="#fff" stroke="#505050" stroke-width="0.88"/>
<circle cx="522.12" cy="36.96" r="1.75" fill="#fff" stroke="#505050" stroke-width="0.88"/>
<circle cx="535.64" cy="33.62" r="1.75" fill="#fff" stroke="#505050" stroke-width="0.88"/>
<circle cx="549.16" cy="29.61" r="1.75" fill="#fff" stroke="#505050" stroke-width="0.88"/>
<circle cx="562.68" cy="26.61" r="1.75" fill="#fff" stroke="#505050" stroke-width="0.88"/>
<circle cx="576.2" cy="22.26" r="1.75" fill="#fff" stroke="#505050" stroke-width="0.88"/>
<path d="M580.4 21.6 L581.9 21.6 L581.9 28.6 L580.4 28.6" fill="none" stroke="#222" stroke-width="0.6"/>
<text transform="translate(580.92 25) rotate(90)" font-size="6" text-anchor="middle" fill="#111" stroke="#111" stroke-width="0.22">**</text>
<line x1="586.2" y1="22.3" x2="586.2" y2="27.9" stroke="#222" stroke-width="0.7"/>
<path d="M586.2 25.4 L589.2 25.4 L589.2 67.6 L586.2 67.6" fill="none" stroke="#222" stroke-width="0.65"/>
<text transform="translate(588.67 46.8) rotate(90)" font-size="6.5" text-anchor="middle" fill="#111" stroke="#111" stroke-width="0.22">****</text>
<path d="M580.4 64 L581.9 64 L581.9 72 L580.4 72" fill="none" stroke="#222" stroke-width="0.6"/>
<text transform="translate(580.92 67.6) rotate(90)" font-size="6" text-anchor="middle" fill="#111" stroke="#111" stroke-width="0.22">*</text>
<line x1="586.2" y1="64.2" x2="586.2" y2="72.2" stroke="#222" stroke-width="0.7"/>
<line x1="504.5" y1="105.4" x2="511.3" y2="105.4" stroke="#333" stroke-width="0.65"/>
<circle cx="507.9" cy="105.4" r="1.2" fill="#fff" stroke="#505050" stroke-width="0.8"/>
<text transform="translate(514.3 107.5) scale(1 1)" font-size="6" text-anchor="start" fill="#161616" stroke="#161616" stroke-width="0.17">Vehicle</text>
<line x1="544.1" y1="105.4" x2="550.9" y2="105.4" stroke="#333" stroke-width="0.65"/>
<circle cx="547.5" cy="105.4" r="1.2" fill="#edf5f6" stroke="#46646b" stroke-width="0.8"/>
<text transform="translate(554.2 107.5) scale(1 1)" font-size="6" text-anchor="start" fill="#161616" stroke="#161616" stroke-width="0.17">Semaglutide</text>
<line x1="504.5" y1="113.5" x2="511.3" y2="113.5" stroke="#333" stroke-width="0.65"/>
<circle cx="507.9" cy="113.5" r="1.2" fill="#d3dae2" stroke="#434d59" stroke-width="0.8"/>
<text transform="translate(514.3 115.6) scale(1 1)" font-size="6" text-anchor="start" fill="#161616" stroke="#161616" stroke-width="0.17">MK-801</text>
<line x1="544.1" y1="113.5" x2="550.9" y2="113.5" stroke="#333" stroke-width="0.65"/>
<circle cx="547.5" cy="113.5" r="1.2" fill="#fbf1e6" stroke="#896742" stroke-width="0.8"/>
<text transform="translate(554.2 115.6) scale(1 1)" font-size="6" text-anchor="start" fill="#161616" stroke="#161616" stroke-width="0.17">GLP-1&#8211;MK-801</text>
</g>
<g>
<text transform="translate(0.2 128.5)" font-size="8.8" text-anchor="start" font-weight="bold" fill="#000" stroke="#000" stroke-width="0.55">f</text>
<line x1="29.9" y1="138.9" x2="29.9" y2="205.3" stroke="#222222" stroke-width="0.85"/>
<line x1="27.7" y1="205.3" x2="29.9" y2="205.3" stroke="#222222" stroke-width="0.85"/>
<text transform="translate(26.4 207.3) scale(1 1)" font-size="5.65" text-anchor="end" fill="#161616" stroke="#161616" stroke-width="0.17">0</text>
<line x1="27.7" y1="190.24" x2="29.9" y2="190.24" stroke="#222222" stroke-width="0.85"/>
<text transform="translate(26.4 192.24) scale(1 1)" font-size="5.65" text-anchor="end" fill="#161616" stroke="#161616" stroke-width="0.17">25</text>
<line x1="27.7" y1="175.18" x2="29.9" y2="175.18" stroke="#222222" stroke-width="0.85"/>
<text transform="translate(26.4 177.18) scale(1 1)" font-size="5.65" text-anchor="end" fill="#161616" stroke="#161616" stroke-width="0.17">50</text>
<line x1="27.7" y1="160.12" x2="29.9" y2="160.12" stroke="#222222" stroke-width="0.85"/>
<text transform="translate(26.4 162.12) scale(1 1)" font-size="5.65" text-anchor="end" fill="#161616" stroke="#161616" stroke-width="0.17">75</text>
<line x1="27.7" y1="145.06" x2="29.9" y2="145.06" stroke="#222222" stroke-width="0.85"/>
<text transform="translate(26.4 147.06) scale(1 1)" font-size="5.65" text-anchor="end" fill="#161616" stroke="#161616" stroke-width="0.17">100</text>
<line x1="29.9" y1="205.3" x2="96.3" y2="205.3" stroke="#222222" stroke-width="0.85"/>
<line x1="29.9" y1="205.3" x2="29.9" y2="207.5" stroke="#222222" stroke-width="0.85"/>
<text transform="translate(29.9 213.6) scale(1 1)" font-size="5.65" text-anchor="middle" fill="#161616" stroke="#161616" stroke-width="0.17">0</text>
<line x1="43.1" y1="205.3" x2="43.1" y2="207.5" stroke="#222222" stroke-width="0.85"/>
<text transform="translate(43.1 213.6) scale(1 1)" font-size="5.65" text-anchor="middle" fill="#161616" stroke="#161616" stroke-width="0.17">1</text>
<line x1="56.3" y1="205.3" x2="56.3" y2="207.5" stroke="#222222" stroke-width="0.85"/>
<text transform="translate(56.3 213.6) scale(1 1)" font-size="5.65" text-anchor="middle" fill="#161616" stroke="#161616" stroke-width="0.17">2</text>
<line x1="69.5" y1="205.3" x2="69.5" y2="207.5" stroke="#222222" stroke-width="0.85"/>
<text transform="translate(69.5 213.6) scale(1 1)" font-size="5.65" text-anchor="middle" fill="#161616" stroke="#161616" stroke-width="0.17">3</text>
<line x1="82.7" y1="205.3" x2="82.7" y2="207.5" stroke="#222222" stroke-width="0.85"/>
<text transform="translate(82.7 213.6) scale(1 1)" font-size="5.65" text-anchor="middle" fill="#161616" stroke="#161616" stroke-width="0.17">4</text>
<line x1="95.9" y1="205.3" x2="95.9" y2="207.5" stroke="#222222" stroke-width="0.85"/>
<text transform="translate(95.9 213.6) scale(1 1)" font-size="5.65" text-anchor="middle" fill="#161616" stroke="#161616" stroke-width="0.17">5</text>
<text transform="translate(63.4 222.6) scale(1 1)" font-size="5.65" text-anchor="middle" fill="#161616" stroke="#161616" stroke-width="0.17">Time (days)</text>
<text transform="translate(11.3 175.2) rotate(-90) scale(1 1)" font-size="5.65" text-anchor="middle" fill="#161616" stroke="#161616" stroke-width="0.17">Cumulative food intake (g)</text>
<path d="M29.9 205.3 L43.1 203.49 L56.3 202.89 L69.5 199.28 L82.7 193.25 L95.9 188.43" fill="none" stroke="#333" stroke-width="0.65"/>
<line x1="43.1" y1="203.19" x2="43.1" y2="203.79" stroke="#222222" stroke-width="0.65"/>
<line x1="41.6" y1="203.19" x2="44.6" y2="203.19" stroke="#222222" stroke-width="0.65"/>
<line x1="41.6" y1="203.79" x2="44.6" y2="203.79" stroke="#222222" stroke-width="0.65"/>
<line x1="56.3" y1="202.49" x2="56.3" y2="203.29" stroke="#222222" stroke-width="0.65"/>
<line x1="54.8" y1="202.49" x2="57.8" y2="202.49" stroke="#222222" stroke-width="0.65"/>
<line x1="54.8" y1="203.29" x2="57.8" y2="203.29" stroke="#222222" stroke-width="0.65"/>
<line x1="69.5" y1="198.68" x2="69.5" y2="199.88" stroke="#222222" stroke-width="0.65"/>
<line x1="68" y1="198.68" x2="71" y2="198.68" stroke="#222222" stroke-width="0.65"/>
<line x1="68" y1="199.88" x2="71" y2="199.88" stroke="#222222" stroke-width="0.65"/>
<line x1="82.7" y1="192.45" x2="82.7" y2="194.05" stroke="#222222" stroke-width="0.65"/>
<line x1="81.2" y1="192.45" x2="84.2" y2="192.45" stroke="#222222" stroke-width="0.65"/>
<line x1="81.2" y1="194.05" x2="84.2" y2="194.05" stroke="#222222" stroke-width="0.65"/>
<line x1="95.9" y1="187.43" x2="95.9" y2="189.43" stroke="#222222" stroke-width="0.65"/>
<line x1="94.4" y1="187.43" x2="97.4" y2="187.43" stroke="#222222" stroke-width="0.65"/>
<line x1="94.4" y1="189.43" x2="97.4" y2="189.43" stroke="#222222" stroke-width="0.65"/>
<circle cx="29.9" cy="205.3" r="1.75" fill="#fbf1e6" stroke="#896742" stroke-width="0.88"/>
<circle cx="43.1" cy="203.49" r="1.75" fill="#fbf1e6" stroke="#896742" stroke-width="0.88"/>
<circle cx="56.3" cy="202.89" r="1.75" fill="#fbf1e6" stroke="#896742" stroke-width="0.88"/>
<circle cx="69.5" cy="199.28" r="1.75" fill="#fbf1e6" stroke="#896742" stroke-width="0.88"/>
<circle cx="82.7" cy="193.25" r="1.75" fill="#fbf1e6" stroke="#896742" stroke-width="0.88"/>
<circle cx="95.9" cy="188.43" r="1.75" fill="#fbf1e6" stroke="#896742" stroke-width="0.88"/>
<path d="M29.9 205.3 L43.1 202.29 L56.3 200.48 L69.5 196.87 L82.7 189.64 L95.9 181.81" fill="none" stroke="#333" stroke-width="0.65"/>
<line x1="43.1" y1="201.79" x2="43.1" y2="202.79" stroke="#222222" stroke-width="0.65"/>
<line x1="41.6" y1="201.79" x2="44.6" y2="201.79" stroke="#222222" stroke-width="0.65"/>
<line x1="41.6" y1="202.79" x2="44.6" y2="202.79" stroke="#222222" stroke-width="0.65"/>
<line x1="56.3" y1="199.68" x2="56.3" y2="201.28" stroke="#222222" stroke-width="0.65"/>
<line x1="54.8" y1="199.68" x2="57.8" y2="199.68" stroke="#222222" stroke-width="0.65"/>
<line x1="54.8" y1="201.28" x2="57.8" y2="201.28" stroke="#222222" stroke-width="0.65"/>
<line x1="69.5" y1="195.67" x2="69.5" y2="198.07" stroke="#222222" stroke-width="0.65"/>
<line x1="68" y1="195.67" x2="71" y2="195.67" stroke="#222222" stroke-width="0.65"/>
<line x1="68" y1="198.07" x2="71" y2="198.07" stroke="#222222" stroke-width="0.65"/>
<line x1="82.7" y1="187.84" x2="82.7" y2="191.44" stroke="#222222" stroke-width="0.65"/>
<line x1="81.2" y1="187.84" x2="84.2" y2="187.84" stroke="#222222" stroke-width="0.65"/>
<line x1="81.2" y1="191.44" x2="84.2" y2="191.44" stroke="#222222" stroke-width="0.65"/>
<line x1="95.9" y1="179.21" x2="95.9" y2="184.41" stroke="#222222" stroke-width="0.65"/>
<line x1="94.4" y1="179.21" x2="97.4" y2="179.21" stroke="#222222" stroke-width="0.65"/>
<line x1="94.4" y1="184.41" x2="97.4" y2="184.41" stroke="#222222" stroke-width="0.65"/>
<circle cx="29.9" cy="205.3" r="1.75" fill="#edf5f6" stroke="#46646b" stroke-width="0.88"/>
<circle cx="43.1" cy="202.29" r="1.75" fill="#edf5f6" stroke="#46646b" stroke-width="0.88"/>
<circle cx="56.3" cy="200.48" r="1.75" fill="#edf5f6" stroke="#46646b" stroke-width="0.88"/>
<circle cx="69.5" cy="196.87" r="1.75" fill="#edf5f6" stroke="#46646b" stroke-width="0.88"/>
<circle cx="82.7" cy="189.64" r="1.75" fill="#edf5f6" stroke="#46646b" stroke-width="0.88"/>
<circle cx="95.9" cy="181.81" r="1.75" fill="#edf5f6" stroke="#46646b" stroke-width="0.88"/>
<path d="M29.9 205.3 L43.1 193.25 L56.3 181.81 L69.5 170.36 L82.7 158.92 L95.9 147.47" fill="none" stroke="#333" stroke-width="0.65"/>
<line x1="43.1" y1="192.75" x2="43.1" y2="193.75" stroke="#222222" stroke-width="0.65"/>
<line x1="41.6" y1="192.75" x2="44.6" y2="192.75" stroke="#222222" stroke-width="0.65"/>
<line x1="41.6" y1="193.75" x2="44.6" y2="193.75" stroke="#222222" stroke-width="0.65"/>
<line x1="56.3" y1="181.01" x2="56.3" y2="182.61" stroke="#222222" stroke-width="0.65"/>
<line x1="54.8" y1="181.01" x2="57.8" y2="181.01" stroke="#222222" stroke-width="0.65"/>
<line x1="54.8" y1="182.61" x2="57.8" y2="182.61" stroke="#222222" stroke-width="0.65"/>
<line x1="69.5" y1="169.36" x2="69.5" y2="171.36" stroke="#222222" stroke-width="0.65"/>
<line x1="68" y1="169.36" x2="71" y2="169.36" stroke="#222222" stroke-width="0.65"/>
<line x1="68" y1="171.36" x2="71" y2="171.36" stroke="#222222" stroke-width="0.65"/>
<line x1="82.7" y1="157.52" x2="82.7" y2="160.32" stroke="#222222" stroke-width="0.65"/>
<line x1="81.2" y1="157.52" x2="84.2" y2="157.52" stroke="#222222" stroke-width="0.65"/>
<line x1="81.2" y1="160.32" x2="84.2" y2="160.32" stroke="#222222" stroke-width="0.65"/>
<line x1="95.9" y1="145.87" x2="95.9" y2="149.07" stroke="#222222" stroke-width="0.65"/>
<line x1="94.4" y1="145.87" x2="97.4" y2="145.87" stroke="#222222" stroke-width="0.65"/>
<line x1="94.4" y1="149.07" x2="97.4" y2="149.07" stroke="#222222" stroke-width="0.65"/>
<circle cx="29.9" cy="205.3" r="1.75" fill="#d3dae2" stroke="#434d59" stroke-width="0.88"/>
<circle cx="43.1" cy="193.25" r="1.75" fill="#d3dae2" stroke="#434d59" stroke-width="0.88"/>
<circle cx="56.3" cy="181.81" r="1.75" fill="#d3dae2" stroke="#434d59" stroke-width="0.88"/>
<circle cx="69.5" cy="170.36" r="1.75" fill="#d3dae2" stroke="#434d59" stroke-width="0.88"/>
<circle cx="82.7" cy="158.92" r="1.75" fill="#d3dae2" stroke="#434d59" stroke-width="0.88"/>
<circle cx="95.9" cy="147.47" r="1.75" fill="#d3dae2" stroke="#434d59" stroke-width="0.88"/>
<path d="M29.9 205.3 L43.1 193.25 L56.3 181.2 L69.5 167.95 L82.7 155.9 L95.9 143.86" fill="none" stroke="#333" stroke-width="0.65"/>
<line x1="43.1" y1="192.75" x2="43.1" y2="193.75" stroke="#222222" stroke-width="0.65"/>
<line x1="41.6" y1="192.75" x2="44.6" y2="192.75" stroke="#222222" stroke-width="0.65"/>
<line x1="41.6" y1="193.75" x2="44.6" y2="193.75" stroke="#222222" stroke-width="0.65"/>
<line x1="56.3" y1="180.4" x2="56.3" y2="182" stroke="#222222" stroke-width="0.65"/>
<line x1="54.8" y1="180.4" x2="57.8" y2="180.4" stroke="#222222" stroke-width="0.65"/>
<line x1="54.8" y1="182" x2="57.8" y2="182" stroke="#222222" stroke-width="0.65"/>
<line x1="69.5" y1="166.75" x2="69.5" y2="169.15" stroke="#222222" stroke-width="0.65"/>
<line x1="68" y1="166.75" x2="71" y2="166.75" stroke="#222222" stroke-width="0.65"/>
<line x1="68" y1="169.15" x2="71" y2="169.15" stroke="#222222" stroke-width="0.65"/>
<line x1="82.7" y1="154.3" x2="82.7" y2="157.5" stroke="#222222" stroke-width="0.65"/>
<line x1="81.2" y1="154.3" x2="84.2" y2="154.3" stroke="#222222" stroke-width="0.65"/>
<line x1="81.2" y1="157.5" x2="84.2" y2="157.5" stroke="#222222" stroke-width="0.65"/>
<line x1="95.9" y1="141.66" x2="95.9" y2="146.06" stroke="#222222" stroke-width="0.65"/>
<line x1="94.4" y1="141.66" x2="97.4" y2="141.66" stroke="#222222" stroke-width="0.65"/>
<line x1="94.4" y1="146.06" x2="97.4" y2="146.06" stroke="#222222" stroke-width="0.65"/>
<circle cx="29.9" cy="205.3" r="1.75" fill="#fff" stroke="#505050" stroke-width="0.88"/>
<circle cx="43.1" cy="193.25" r="1.75" fill="#fff" stroke="#505050" stroke-width="0.88"/>
<circle cx="56.3" cy="181.2" r="1.75" fill="#fff" stroke="#505050" stroke-width="0.88"/>
<circle cx="69.5" cy="167.95" r="1.75" fill="#fff" stroke="#505050" stroke-width="0.88"/>
<circle cx="82.7" cy="155.9" r="1.75" fill="#fff" stroke="#505050" stroke-width="0.88"/>
<circle cx="95.9" cy="143.86" r="1.75" fill="#fff" stroke="#505050" stroke-width="0.88"/>
<line x1="100.9" y1="142.3" x2="100.9" y2="146.2" stroke="#222" stroke-width="0.7"/>
<path d="M100.9 144.2 L108.5 144.2 L108.5 185.4 L106.6 185.4" fill="none" stroke="#222" stroke-width="0.65"/>
<text transform="translate(108.17 164.6) rotate(90)" font-size="6.5" text-anchor="middle" fill="#111" stroke="#111" stroke-width="0.22">****</text>
<path d="M100 182 L102 182 L102 188 L100 188" fill="none" stroke="#222" stroke-width="0.6"/>
<text transform="translate(101.12 185) rotate(90)" font-size="6" text-anchor="middle" fill="#111" stroke="#111" stroke-width="0.22">*</text>
<line x1="106.6" y1="181.4" x2="106.6" y2="189" stroke="#222" stroke-width="0.7"/>
</g>
<g>
<text transform="translate(123.5 128.5)" font-size="8.8" text-anchor="start" font-weight="bold" fill="#000" stroke="#000" stroke-width="0.55">g</text>
<line x1="158.7" y1="138.67" x2="158.7" y2="205" stroke="#222222" stroke-width="0.85"/>
<line x1="156.5" y1="205" x2="158.7" y2="205" stroke="#222222" stroke-width="0.85"/>
<text transform="translate(155.2 207) scale(1 1)" font-size="5.65" text-anchor="end" fill="#161616" stroke="#161616" stroke-width="0.17">0</text>
<line x1="156.5" y1="183.74" x2="158.7" y2="183.74" stroke="#222222" stroke-width="0.85"/>
<text transform="translate(155.2 185.74) scale(1 1)" font-size="5.65" text-anchor="end" fill="#161616" stroke="#161616" stroke-width="0.17">50</text>
<line x1="156.5" y1="162.48" x2="158.7" y2="162.48" stroke="#222222" stroke-width="0.85"/>
<text transform="translate(155.2 164.48) scale(1 1)" font-size="5.65" text-anchor="end" fill="#161616" stroke="#161616" stroke-width="0.17">100</text>
<line x1="156.5" y1="141.22" x2="158.7" y2="141.22" stroke="#222222" stroke-width="0.85"/>
<text transform="translate(155.2 143.22) scale(1 1)" font-size="5.65" text-anchor="end" fill="#161616" stroke="#161616" stroke-width="0.17">150</text>
<line x1="158.7" y1="205" x2="202.9" y2="205" stroke="#222222" stroke-width="0.85"/>
<text transform="translate(140.2 173.4) rotate(-90) scale(1 1)" font-size="5.9" text-anchor="middle" fill="#161616" stroke="#161616" stroke-width="0.17">Plasma triglycerides (mg dl<tspan dy="-2" font-size="3.6">&#8722;1</tspan><tspan dy="2">)</tspan></text>
<rect x="162.3" y="167.16" width="7.1" height="37.84" fill="#dcdcdc" stroke="#474747" stroke-width="0.55"/>
<line x1="165.85" y1="162.48" x2="165.85" y2="171.83" stroke="#333" stroke-width="0.45"/>
<line x1="164.35" y1="162.48" x2="167.35" y2="162.48" stroke="#333" stroke-width="0.45"/>
<line x1="164.35" y1="171.83" x2="167.35" y2="171.83" stroke="#333" stroke-width="0.45"/>
<circle cx="165.85" cy="140.37" r="0.92" fill="#fff" fill-opacity="0.7" stroke="#6a6a6a" stroke-width="0.55"/>
<circle cx="165.13" cy="153.13" r="0.92" fill="#fff" fill-opacity="0.7" stroke="#6a6a6a" stroke-width="0.55"/>
<circle cx="166.53" cy="162.48" r="0.92" fill="#fff" fill-opacity="0.7" stroke="#6a6a6a" stroke-width="0.55"/>
<circle cx="165.49" cy="168.86" r="0.92" fill="#fff" fill-opacity="0.7" stroke="#6a6a6a" stroke-width="0.55"/>
<circle cx="166.3" cy="171.83" r="0.92" fill="#fff" fill-opacity="0.7" stroke="#6a6a6a" stroke-width="0.55"/>
<circle cx="165" cy="178.64" r="0.92" fill="#fff" fill-opacity="0.7" stroke="#6a6a6a" stroke-width="0.55"/>
<circle cx="166.71" cy="183.74" r="0.92" fill="#fff" fill-opacity="0.7" stroke="#6a6a6a" stroke-width="0.55"/>
<circle cx="165.99" cy="186.29" r="0.92" fill="#fff" fill-opacity="0.7" stroke="#6a6a6a" stroke-width="0.55"/>
<rect x="172.2" y="172.68" width="7" height="32.32" fill="#a9bdd0" stroke="#474747" stroke-width="0.55"/>
<line x1="175.7" y1="168.43" x2="175.7" y2="176.94" stroke="#333" stroke-width="0.45"/>
<line x1="174.2" y1="168.43" x2="177.2" y2="168.43" stroke="#333" stroke-width="0.45"/>
<line x1="174.2" y1="176.94" x2="177.2" y2="176.94" stroke="#333" stroke-width="0.45"/>
<circle cx="175.7" cy="157.38" r="0.92" fill="#fff" fill-opacity="0.7" stroke="#5b6570" stroke-width="0.55"/>
<circle cx="174.98" cy="159.08" r="0.92" fill="#fff" fill-opacity="0.7" stroke="#5b6570" stroke-width="0.55"/>
<circle cx="176.38" cy="170.98" r="0.92" fill="#fff" fill-opacity="0.7" stroke="#5b6570" stroke-width="0.55"/>
<circle cx="175.34" cy="174.39" r="0.92" fill="#fff" fill-opacity="0.7" stroke="#5b6570" stroke-width="0.55"/>
<circle cx="176.15" cy="176.09" r="0.92" fill="#fff" fill-opacity="0.7" stroke="#5b6570" stroke-width="0.55"/>
<circle cx="174.84" cy="178.64" r="0.92" fill="#fff" fill-opacity="0.7" stroke="#5b6570" stroke-width="0.55"/>
<circle cx="176.55" cy="182.89" r="0.92" fill="#fff" fill-opacity="0.7" stroke="#5b6570" stroke-width="0.55"/>
<circle cx="175.83" cy="186.29" r="0.92" fill="#fff" fill-opacity="0.7" stroke="#5b6570" stroke-width="0.55"/>
<rect x="182.2" y="175.66" width="6.9" height="29.34" fill="#b1d9e0" stroke="#474747" stroke-width="0.55"/>
<line x1="185.65" y1="172.26" x2="185.65" y2="179.06" stroke="#333" stroke-width="0.45"/>
<line x1="184.15" y1="172.26" x2="187.15" y2="172.26" stroke="#333" stroke-width="0.45"/>
<line x1="184.15" y1="179.06" x2="187.15" y2="179.06" stroke="#333" stroke-width="0.45"/>
<circle cx="185.65" cy="165.88" r="0.92" fill="#fff" fill-opacity="0.7" stroke="#5b757b" stroke-width="0.55"/>
<circle cx="184.93" cy="166.73" r="0.92" fill="#fff" fill-opacity="0.7" stroke="#5b757b" stroke-width="0.55"/>
<circle cx="186.32" cy="173.11" r="0.92" fill="#fff" fill-opacity="0.7" stroke="#5b757b" stroke-width="0.55"/>
<circle cx="185.29" cy="176.94" r="0.92" fill="#fff" fill-opacity="0.7" stroke="#5b757b" stroke-width="0.55"/>
<circle cx="186.1" cy="179.49" r="0.92" fill="#fff" fill-opacity="0.7" stroke="#5b757b" stroke-width="0.55"/>
<circle cx="184.79" cy="181.61" r="0.92" fill="#fff" fill-opacity="0.7" stroke="#5b757b" stroke-width="0.55"/>
<circle cx="186.5" cy="184.59" r="0.92" fill="#fff" fill-opacity="0.7" stroke="#5b757b" stroke-width="0.55"/>
<rect x="192.3" y="192.24" width="7.1" height="12.76" fill="#f1bb8d" stroke="#474747" stroke-width="0.55"/>
<line x1="195.85" y1="190.97" x2="195.85" y2="193.52" stroke="#333" stroke-width="0.45"/>
<line x1="194.35" y1="190.97" x2="197.35" y2="190.97" stroke="#333" stroke-width="0.45"/>
<line x1="194.35" y1="193.52" x2="197.35" y2="193.52" stroke="#333" stroke-width="0.45"/>
<circle cx="195.85" cy="186.29" r="0.92" fill="#fff" fill-opacity="0.7" stroke="#866f58" stroke-width="0.55"/>
<circle cx="195.13" cy="189.69" r="0.92" fill="#fff" fill-opacity="0.7" stroke="#866f58" stroke-width="0.55"/>
<circle cx="196.53" cy="191.39" r="0.92" fill="#fff" fill-opacity="0.7" stroke="#866f58" stroke-width="0.55"/>
<circle cx="195.49" cy="192.24" r="0.92" fill="#fff" fill-opacity="0.7" stroke="#866f58" stroke-width="0.55"/>
<circle cx="196.3" cy="193.09" r="0.92" fill="#fff" fill-opacity="0.7" stroke="#866f58" stroke-width="0.55"/>
<circle cx="195" cy="193.94" r="0.92" fill="#fff" fill-opacity="0.7" stroke="#866f58" stroke-width="0.55"/>
<circle cx="196.71" cy="194.8" r="0.92" fill="#fff" fill-opacity="0.7" stroke="#866f58" stroke-width="0.55"/>
<circle cx="195.99" cy="195.65" r="0.92" fill="#fff" fill-opacity="0.7" stroke="#866f58" stroke-width="0.55"/>
<line x1="176" y1="152.5" x2="196" y2="152.5" stroke="#111" stroke-width="0.95"/>
<text transform="translate(185.9 153.03)" font-size="6.5" text-anchor="middle" fill="#111" stroke="#111" stroke-width="0.22">*</text>
<line x1="185.9" y1="162.3" x2="196" y2="162.3" stroke="#111" stroke-width="0.95"/>
<text transform="translate(190.95 162.93)" font-size="6.5" text-anchor="middle" fill="#111" stroke="#111" stroke-width="0.22">*</text>
<text transform="translate(195.8 186.23)" font-size="6.5" text-anchor="middle" fill="#111" stroke="#111" stroke-width="0.22">***</text>
</g>
<g>
<text transform="translate(212.3 128.5)" font-size="8.8" text-anchor="start" font-weight="bold" fill="#000" stroke="#000" stroke-width="0.55">h</text>
<line x1="247.6" y1="138.9" x2="247.6" y2="205.3" stroke="#222222" stroke-width="0.85"/>
<line x1="244.6" y1="205.3" x2="247.6" y2="205.3" stroke="#222222" stroke-width="0.85"/>
<text transform="translate(243.2 207.3) scale(1 1)" font-size="5.65" text-anchor="end" fill="#161616" stroke="#161616" stroke-width="0.17">0</text>
<line x1="244.6" y1="188.7" x2="247.6" y2="188.7" stroke="#222222" stroke-width="0.85"/>
<text transform="translate(243.2 190.7) scale(1 1)" font-size="5.65" text-anchor="end" fill="#161616" stroke="#161616" stroke-width="0.17">50</text>
<line x1="244.6" y1="172.1" x2="247.6" y2="172.1" stroke="#222222" stroke-width="0.85"/>
<text transform="translate(243.2 174.1) scale(1 1)" font-size="5.65" text-anchor="end" fill="#161616" stroke="#161616" stroke-width="0.17">100</text>
<line x1="244.6" y1="155.5" x2="247.6" y2="155.5" stroke="#222222" stroke-width="0.85"/>
<text transform="translate(243.2 157.5) scale(1 1)" font-size="5.65" text-anchor="end" fill="#161616" stroke="#161616" stroke-width="0.17">150</text>
<line x1="244.6" y1="138.9" x2="247.6" y2="138.9" stroke="#222222" stroke-width="0.85"/>
<text transform="translate(243.2 140.9) scale(1 1)" font-size="5.65" text-anchor="end" fill="#161616" stroke="#161616" stroke-width="0.17">200</text>
<line x1="247.6" y1="205.3" x2="290.9" y2="205.3" stroke="#222222" stroke-width="0.85"/>
<text transform="translate(228.5 172.3) rotate(-90) scale(1 1)" font-size="5.85" text-anchor="middle" fill="#161616" stroke="#161616" stroke-width="0.17">Plasma cholesterol (mg dl<tspan dy="-2" font-size="3.6">&#8722;1</tspan><tspan dy="2">)</tspan></text>
<rect x="250.5" y="173.43" width="6.9" height="31.87" fill="#dcdcdc" stroke="#474747" stroke-width="0.55"/>
<line x1="253.95" y1="171.44" x2="253.95" y2="175.42" stroke="#333" stroke-width="0.45"/>
<line x1="252.45" y1="171.44" x2="255.45" y2="171.44" stroke="#333" stroke-width="0.45"/>
<line x1="252.45" y1="175.42" x2="255.45" y2="175.42" stroke="#333" stroke-width="0.45"/>
<circle cx="253.95" cy="162.8" r="0.92" fill="#fff" fill-opacity="0.7" stroke="#6a6a6a" stroke-width="0.55"/>
<circle cx="253.15" cy="169.44" r="0.92" fill="#fff" fill-opacity="0.7" stroke="#6a6a6a" stroke-width="0.55"/>
<circle cx="254.7" cy="171.44" r="0.92" fill="#fff" fill-opacity="0.7" stroke="#6a6a6a" stroke-width="0.55"/>
<circle cx="253.55" cy="172.76" r="0.92" fill="#fff" fill-opacity="0.7" stroke="#6a6a6a" stroke-width="0.55"/>
<circle cx="254.45" cy="174.76" r="0.92" fill="#fff" fill-opacity="0.7" stroke="#6a6a6a" stroke-width="0.55"/>
<circle cx="253" cy="177.08" r="0.92" fill="#fff" fill-opacity="0.7" stroke="#6a6a6a" stroke-width="0.55"/>
<circle cx="254.9" cy="181.4" r="0.92" fill="#fff" fill-opacity="0.7" stroke="#6a6a6a" stroke-width="0.55"/>
<circle cx="254.1" cy="188.04" r="0.92" fill="#fff" fill-opacity="0.7" stroke="#6a6a6a" stroke-width="0.55"/>
<rect x="260.8" y="173.1" width="6.9" height="32.2" fill="#a9bdd0" stroke="#474747" stroke-width="0.55"/>
<line x1="264.25" y1="170.77" x2="264.25" y2="175.42" stroke="#333" stroke-width="0.45"/>
<line x1="262.75" y1="170.77" x2="265.75" y2="170.77" stroke="#333" stroke-width="0.45"/>
<line x1="262.75" y1="175.42" x2="265.75" y2="175.42" stroke="#333" stroke-width="0.45"/>
<circle cx="264.25" cy="155.5" r="0.92" fill="#fff" fill-opacity="0.7" stroke="#5b6570" stroke-width="0.55"/>
<circle cx="263.45" cy="169.44" r="0.92" fill="#fff" fill-opacity="0.7" stroke="#5b6570" stroke-width="0.55"/>
<circle cx="265" cy="172.1" r="0.92" fill="#fff" fill-opacity="0.7" stroke="#5b6570" stroke-width="0.55"/>
<circle cx="263.85" cy="173.76" r="0.92" fill="#fff" fill-opacity="0.7" stroke="#5b6570" stroke-width="0.55"/>
<circle cx="264.75" cy="176.08" r="0.92" fill="#fff" fill-opacity="0.7" stroke="#5b6570" stroke-width="0.55"/>
<circle cx="263.3" cy="178.74" r="0.92" fill="#fff" fill-opacity="0.7" stroke="#5b6570" stroke-width="0.55"/>
<circle cx="265.2" cy="182.06" r="0.92" fill="#fff" fill-opacity="0.7" stroke="#5b6570" stroke-width="0.55"/>
<circle cx="264.4" cy="183.39" r="0.92" fill="#fff" fill-opacity="0.7" stroke="#5b6570" stroke-width="0.55"/>
<rect x="271.1" y="174.76" width="6.9" height="30.54" fill="#b1d9e0" stroke="#474747" stroke-width="0.55"/>
<line x1="274.55" y1="173.1" x2="274.55" y2="176.42" stroke="#333" stroke-width="0.45"/>
<line x1="273.05" y1="173.1" x2="276.05" y2="173.1" stroke="#333" stroke-width="0.45"/>
<line x1="273.05" y1="176.42" x2="276.05" y2="176.42" stroke="#333" stroke-width="0.45"/>
<circle cx="274.55" cy="172.1" r="0.92" fill="#fff" fill-opacity="0.7" stroke="#5b757b" stroke-width="0.55"/>
<circle cx="273.75" cy="172.76" r="0.92" fill="#fff" fill-opacity="0.7" stroke="#5b757b" stroke-width="0.55"/>
<circle cx="275.3" cy="173.76" r="0.92" fill="#fff" fill-opacity="0.7" stroke="#5b757b" stroke-width="0.55"/>
<circle cx="274.15" cy="174.76" r="0.92" fill="#fff" fill-opacity="0.7" stroke="#5b757b" stroke-width="0.55"/>
<circle cx="275.05" cy="177.08" r="0.92" fill="#fff" fill-opacity="0.7" stroke="#5b757b" stroke-width="0.55"/>
<circle cx="273.6" cy="180.4" r="0.92" fill="#fff" fill-opacity="0.7" stroke="#5b757b" stroke-width="0.55"/>
<circle cx="275.5" cy="185.38" r="0.92" fill="#fff" fill-opacity="0.7" stroke="#5b757b" stroke-width="0.55"/>
<circle cx="274.7" cy="186.71" r="0.92" fill="#fff" fill-opacity="0.7" stroke="#5b757b" stroke-width="0.55"/>
<rect x="281.4" y="174.76" width="7" height="30.54" fill="#f1bb8d" stroke="#474747" stroke-width="0.55"/>
<line x1="284.9" y1="171.77" x2="284.9" y2="177.74" stroke="#333" stroke-width="0.45"/>
<line x1="283.4" y1="171.77" x2="286.4" y2="171.77" stroke="#333" stroke-width="0.45"/>
<line x1="283.4" y1="177.74" x2="286.4" y2="177.74" stroke="#333" stroke-width="0.45"/>
<circle cx="284.9" cy="156.16" r="0.92" fill="#fff" fill-opacity="0.7" stroke="#866f58" stroke-width="0.55"/>
<circle cx="284.1" cy="166.12" r="0.92" fill="#fff" fill-opacity="0.7" stroke="#866f58" stroke-width="0.55"/>
<circle cx="285.65" cy="172.76" r="0.92" fill="#fff" fill-opacity="0.7" stroke="#866f58" stroke-width="0.55"/>
<circle cx="284.5" cy="176.08" r="0.92" fill="#fff" fill-opacity="0.7" stroke="#866f58" stroke-width="0.55"/>
<circle cx="285.4" cy="178.74" r="0.92" fill="#fff" fill-opacity="0.7" stroke="#866f58" stroke-width="0.55"/>
<circle cx="283.95" cy="181.4" r="0.92" fill="#fff" fill-opacity="0.7" stroke="#866f58" stroke-width="0.55"/>
<circle cx="285.85" cy="185.38" r="0.92" fill="#fff" fill-opacity="0.7" stroke="#866f58" stroke-width="0.55"/>
</g>
<g>
<text transform="translate(303.8 128.5)" font-size="8.8" text-anchor="start" font-weight="bold" fill="#000" stroke="#000" stroke-width="0.55">i</text>
<text transform="translate(357.5 128.8) scale(1 1)" font-size="5.95" text-anchor="middle" fill="#333" stroke="#333" stroke-width="0.17">Conditioned taste aversion</text>
<rect x="316.1" y="133.6" width="52.8" height="12.5" fill="#dcdcdc"/>
<text transform="translate(342.5 141.55) scale(1 1)" font-size="6.05" text-anchor="middle" fill="#1c1c1c" stroke="#1c1c1c" stroke-width="0.07">Vehicle</text>
<g transform="translate(379 132.5) scale(1)">
<path d="M2.5 10.4 C1.2 11 0.3 12 0.5 13.1 C0.7 14 1.2 14.3 1.8 14.3 L16.8 14.5" fill="none" stroke="#d3d3d3" stroke-width="0.85" stroke-linecap="round" opacity="0.55"/>
<path d="M3.2 12.7 C2.4 11.5 2.1 10 2.3 8.7 C2.6 6.8 3.4 5.4 4.5 4.3 C6 2.8 8.5 1.9 10.7 1.9 C13 1.9 15 2.3 16.8 2.6 C17.6 2.4 18.6 1.2 19.4 0.3 C19.8 -0.1 20.3 0.1 20.4 0.6 C20.5 1.2 20.6 1.7 20.8 2.1 C21.8 2.3 22.8 2.6 23.5 3 C24.6 3.4 25.8 3.9 26.3 4.5 C26.4 5 26 5.4 25.4 5.6 C24.5 5.9 23.6 6.2 23 6.5 C22.2 7 21.2 7.5 20.4 7.9 C19.8 9 19.2 10.2 19 11.4 C19.1 11.9 19.3 12.3 19.5 12.7 L16.4 12.7 C16.3 11.8 16.2 11 16.1 10.1 C14.8 10.3 13.6 10.4 12.4 10.5 C11.4 10.9 10.5 11.3 9.8 11.8 C9.6 12.1 9.4 12.4 9.3 12.7 Z" fill="#d3d3d3"/>
</g>
<rect x="316.1" y="151.2" width="52.8" height="12.5" fill="#a9bdd0"/>
<text transform="translate(342.5 159.15) scale(1 1)" font-size="6.05" text-anchor="middle" fill="#1c1c1c" stroke="#1c1c1c" stroke-width="0.07">MK-801</text>
<g transform="translate(379 150.1) scale(1)">
<path d="M2.5 10.4 C1.2 11 0.3 12 0.5 13.1 C0.7 14 1.2 14.3 1.8 14.3 L16.8 14.5" fill="none" stroke="#90a7bb" stroke-width="0.85" stroke-linecap="round" opacity="0.55"/>
<path d="M3.2 12.7 C2.4 11.5 2.1 10 2.3 8.7 C2.6 6.8 3.4 5.4 4.5 4.3 C6 2.8 8.5 1.9 10.7 1.9 C13 1.9 15 2.3 16.8 2.6 C17.6 2.4 18.6 1.2 19.4 0.3 C19.8 -0.1 20.3 0.1 20.4 0.6 C20.5 1.2 20.6 1.7 20.8 2.1 C21.8 2.3 22.8 2.6 23.5 3 C24.6 3.4 25.8 3.9 26.3 4.5 C26.4 5 26 5.4 25.4 5.6 C24.5 5.9 23.6 6.2 23 6.5 C22.2 7 21.2 7.5 20.4 7.9 C19.8 9 19.2 10.2 19 11.4 C19.1 11.9 19.3 12.3 19.5 12.7 L16.4 12.7 C16.3 11.8 16.2 11 16.1 10.1 C14.8 10.3 13.6 10.4 12.4 10.5 C11.4 10.9 10.5 11.3 9.8 11.8 C9.6 12.1 9.4 12.4 9.3 12.7 Z" fill="#90a7bb"/>
</g>
<rect x="316.1" y="168.6" width="52.8" height="12.5" fill="#7fa49b"/>
<text transform="translate(342.5 176.55) scale(1 1)" font-size="6.05" text-anchor="middle" fill="#1c1c1c" stroke="#1c1c1c" stroke-width="0.07">GLP-1</text>
<g transform="translate(379 167.5) scale(1)">
<path d="M2.5 10.4 C1.2 11 0.3 12 0.5 13.1 C0.7 14 1.2 14.3 1.8 14.3 L16.8 14.5" fill="none" stroke="#6d9388" stroke-width="0.85" stroke-linecap="round" opacity="0.55"/>
<path d="M3.2 12.7 C2.4 11.5 2.1 10 2.3 8.7 C2.6 6.8 3.4 5.4 4.5 4.3 C6 2.8 8.5 1.9 10.7 1.9 C13 1.9 15 2.3 16.8 2.6 C17.6 2.4 18.6 1.2 19.4 0.3 C19.8 -0.1 20.3 0.1 20.4 0.6 C20.5 1.2 20.6 1.7 20.8 2.1 C21.8 2.3 22.8 2.6 23.5 3 C24.6 3.4 25.8 3.9 26.3 4.5 C26.4 5 26 5.4 25.4 5.6 C24.5 5.9 23.6 6.2 23 6.5 C22.2 7 21.2 7.5 20.4 7.9 C19.8 9 19.2 10.2 19 11.4 C19.1 11.9 19.3 12.3 19.5 12.7 L16.4 12.7 C16.3 11.8 16.2 11 16.1 10.1 C14.8 10.3 13.6 10.4 12.4 10.5 C11.4 10.9 10.5 11.3 9.8 11.8 C9.6 12.1 9.4 12.4 9.3 12.7 Z" fill="#6d9388"/>
</g>
<rect x="316.1" y="186.1" width="52.8" height="12.5" fill="#b1d9e0"/>
<text transform="translate(342.5 194.05) scale(1 1)" font-size="6.05" text-anchor="middle" fill="#1c1c1c" stroke="#1c1c1c" stroke-width="0.07">Semaglutide</text>
<g transform="translate(379 185) scale(1)">
<path d="M2.5 10.4 C1.2 11 0.3 12 0.5 13.1 C0.7 14 1.2 14.3 1.8 14.3 L16.8 14.5" fill="none" stroke="#a0cbd2" stroke-width="0.85" stroke-linecap="round" opacity="0.55"/>
<path d="M3.2 12.7 C2.4 11.5 2.1 10 2.3 8.7 C2.6 6.8 3.4 5.4 4.5 4.3 C6 2.8 8.5 1.9 10.7 1.9 C13 1.9 15 2.3 16.8 2.6 C17.6 2.4 18.6 1.2 19.4 0.3 C19.8 -0.1 20.3 0.1 20.4 0.6 C20.5 1.2 20.6 1.7 20.8 2.1 C21.8 2.3 22.8 2.6 23.5 3 C24.6 3.4 25.8 3.9 26.3 4.5 C26.4 5 26 5.4 25.4 5.6 C24.5 5.9 23.6 6.2 23 6.5 C22.2 7 21.2 7.5 20.4 7.9 C19.8 9 19.2 10.2 19 11.4 C19.1 11.9 19.3 12.3 19.5 12.7 L16.4 12.7 C16.3 11.8 16.2 11 16.1 10.1 C14.8 10.3 13.6 10.4 12.4 10.5 C11.4 10.9 10.5 11.3 9.8 11.8 C9.6 12.1 9.4 12.4 9.3 12.7 Z" fill="#a0cbd2"/>
</g>
<rect x="316.1" y="203.7" width="52.8" height="12.5" fill="#f1bb8d"/>
<text transform="translate(342.5 211.65) scale(1 1)" font-size="6.05" text-anchor="middle" fill="#1c1c1c" stroke="#1c1c1c" stroke-width="0.07">GLP-1&#8211;MK-801</text>
<g transform="translate(379 202.6) scale(1)">
<path d="M2.5 10.4 C1.2 11 0.3 12 0.5 13.1 C0.7 14 1.2 14.3 1.8 14.3 L16.8 14.5" fill="none" stroke="#eaab7e" stroke-width="0.85" stroke-linecap="round" opacity="0.55"/>
<path d="M3.2 12.7 C2.4 11.5 2.1 10 2.3 8.7 C2.6 6.8 3.4 5.4 4.5 4.3 C6 2.8 8.5 1.9 10.7 1.9 C13 1.9 15 2.3 16.8 2.6 C17.6 2.4 18.6 1.2 19.4 0.3 C19.8 -0.1 20.3 0.1 20.4 0.6 C20.5 1.2 20.6 1.7 20.8 2.1 C21.8 2.3 22.8 2.6 23.5 3 C24.6 3.4 25.8 3.9 26.3 4.5 C26.4 5 26 5.4 25.4 5.6 C24.5 5.9 23.6 6.2 23 6.5 C22.2 7 21.2 7.5 20.4 7.9 C19.8 9 19.2 10.2 19 11.4 C19.1 11.9 19.3 12.3 19.5 12.7 L16.4 12.7 C16.3 11.8 16.2 11 16.1 10.1 C14.8 10.3 13.6 10.4 12.4 10.5 C11.4 10.9 10.5 11.3 9.8 11.8 C9.6 12.1 9.4 12.4 9.3 12.7 Z" fill="#eaab7e"/>
</g>
</g>
<g>
<text transform="translate(420 128.5)" font-size="8.8" text-anchor="start" font-weight="bold" fill="#000" stroke="#000" stroke-width="0.55">j</text>
<line x1="441.5" y1="140.02" x2="441.5" y2="206.22" stroke="#222222" stroke-width="0.85"/>
<line x1="439.3" y1="140.02" x2="441.5" y2="140.02" stroke="#222222" stroke-width="0.85"/>
<text transform="translate(438 142.02) scale(1 1)" font-size="5.65" text-anchor="end" fill="#161616" stroke="#161616" stroke-width="0.17">10</text>
<line x1="439.3" y1="153.26" x2="441.5" y2="153.26" stroke="#222222" stroke-width="0.85"/>
<text transform="translate(438 155.26) scale(1 1)" font-size="5.65" text-anchor="end" fill="#161616" stroke="#161616" stroke-width="0.17">5</text>
<line x1="439.3" y1="166.5" x2="441.5" y2="166.5" stroke="#222222" stroke-width="0.85"/>
<text transform="translate(438 168.5) scale(1 1)" font-size="5.65" text-anchor="end" fill="#161616" stroke="#161616" stroke-width="0.17">0</text>
<line x1="439.3" y1="179.74" x2="441.5" y2="179.74" stroke="#222222" stroke-width="0.85"/>
<text transform="translate(438 181.74) scale(1 1)" font-size="5.65" text-anchor="end" fill="#161616" stroke="#161616" stroke-width="0.17">&#8722;5</text>
<line x1="439.3" y1="192.98" x2="441.5" y2="192.98" stroke="#222222" stroke-width="0.85"/>
<text transform="translate(438 194.98) scale(1 1)" font-size="5.65" text-anchor="end" fill="#161616" stroke="#161616" stroke-width="0.17">&#8722;10</text>
<line x1="439.3" y1="206.22" x2="441.5" y2="206.22" stroke="#222222" stroke-width="0.85"/>
<text transform="translate(438 208.22) scale(1 1)" font-size="5.65" text-anchor="end" fill="#161616" stroke="#161616" stroke-width="0.17">&#8722;15</text>
<text transform="translate(426 173.7) rotate(-90) scale(1 1)" font-size="5.65" text-anchor="middle" fill="#161616" stroke="#161616" stroke-width="0.17">&#916;Body weight (%)</text>
<rect x="447.1" y="158.56" width="7.1" height="7.94" fill="#f2f2f2" stroke="#474747" stroke-width="0.55"/>
<line x1="450.65" y1="157.23" x2="450.65" y2="159.88" stroke="#333" stroke-width="0.45"/>
<line x1="449.15" y1="157.23" x2="452.15" y2="157.23" stroke="#333" stroke-width="0.45"/>
<line x1="449.15" y1="159.88" x2="452.15" y2="159.88" stroke="#333" stroke-width="0.45"/>
<circle cx="450.65" cy="146.64" r="0.92" fill="#fff" fill-opacity="0.7" stroke="#6a6a6a" stroke-width="0.55"/>
<circle cx="449.05" cy="154.58" r="0.92" fill="#fff" fill-opacity="0.7" stroke="#6a6a6a" stroke-width="0.55"/>
<circle cx="452.15" cy="155.91" r="0.92" fill="#fff" fill-opacity="0.7" stroke="#6a6a6a" stroke-width="0.55"/>
<circle cx="449.85" cy="156.97" r="0.92" fill="#fff" fill-opacity="0.7" stroke="#6a6a6a" stroke-width="0.55"/>
<circle cx="451.65" cy="158.03" r="0.92" fill="#fff" fill-opacity="0.7" stroke="#6a6a6a" stroke-width="0.55"/>
<circle cx="448.75" cy="159.09" r="0.92" fill="#fff" fill-opacity="0.7" stroke="#6a6a6a" stroke-width="0.55"/>
<circle cx="452.55" cy="160.14" r="0.92" fill="#fff" fill-opacity="0.7" stroke="#6a6a6a" stroke-width="0.55"/>
<circle cx="450.95" cy="161.2" r="0.92" fill="#fff" fill-opacity="0.7" stroke="#6a6a6a" stroke-width="0.55"/>
<circle cx="449.55" cy="162.26" r="0.92" fill="#fff" fill-opacity="0.7" stroke="#6a6a6a" stroke-width="0.55"/>
<circle cx="451.55" cy="158.56" r="0.92" fill="#fff" fill-opacity="0.7" stroke="#6a6a6a" stroke-width="0.55"/>
<rect x="457.2" y="158.29" width="7" height="8.21" fill="#a9bdd0" stroke="#474747" stroke-width="0.55"/>
<line x1="460.7" y1="157.23" x2="460.7" y2="159.35" stroke="#333" stroke-width="0.45"/>
<line x1="459.2" y1="157.23" x2="462.2" y2="157.23" stroke="#333" stroke-width="0.45"/>
<line x1="459.2" y1="159.35" x2="462.2" y2="159.35" stroke="#333" stroke-width="0.45"/>
<circle cx="460.7" cy="151.67" r="0.92" fill="#fff" fill-opacity="0.7" stroke="#5b6570" stroke-width="0.55"/>
<circle cx="459.1" cy="155.38" r="0.92" fill="#fff" fill-opacity="0.7" stroke="#5b6570" stroke-width="0.55"/>
<circle cx="462.2" cy="156.44" r="0.92" fill="#fff" fill-opacity="0.7" stroke="#5b6570" stroke-width="0.55"/>
<circle cx="459.9" cy="157.5" r="0.92" fill="#fff" fill-opacity="0.7" stroke="#5b6570" stroke-width="0.55"/>
<circle cx="461.7" cy="158.56" r="0.92" fill="#fff" fill-opacity="0.7" stroke="#5b6570" stroke-width="0.55"/>
<circle cx="458.8" cy="159.62" r="0.92" fill="#fff" fill-opacity="0.7" stroke="#5b6570" stroke-width="0.55"/>
<circle cx="462.6" cy="160.67" r="0.92" fill="#fff" fill-opacity="0.7" stroke="#5b6570" stroke-width="0.55"/>
<circle cx="461" cy="161.73" r="0.92" fill="#fff" fill-opacity="0.7" stroke="#5b6570" stroke-width="0.55"/>
<circle cx="459.6" cy="158.03" r="0.92" fill="#fff" fill-opacity="0.7" stroke="#5b6570" stroke-width="0.55"/>
<rect x="467.4" y="166.5" width="7.1" height="10.59" fill="#7fa49b" stroke="#474747" stroke-width="0.55"/>
<line x1="470.95" y1="175.77" x2="470.95" y2="178.42" stroke="#333" stroke-width="0.45"/>
<line x1="469.45" y1="175.77" x2="472.45" y2="175.77" stroke="#333" stroke-width="0.45"/>
<line x1="469.45" y1="178.42" x2="472.45" y2="178.42" stroke="#333" stroke-width="0.45"/>
<circle cx="470.95" cy="167.56" r="0.92" fill="#fff" fill-opacity="0.7" stroke="#50655e" stroke-width="0.55"/>
<circle cx="469.35" cy="171.8" r="0.92" fill="#fff" fill-opacity="0.7" stroke="#50655e" stroke-width="0.55"/>
<circle cx="472.45" cy="174.44" r="0.92" fill="#fff" fill-opacity="0.7" stroke="#50655e" stroke-width="0.55"/>
<circle cx="470.15" cy="176.56" r="0.92" fill="#fff" fill-opacity="0.7" stroke="#50655e" stroke-width="0.55"/>
<circle cx="471.95" cy="178.15" r="0.92" fill="#fff" fill-opacity="0.7" stroke="#50655e" stroke-width="0.55"/>
<circle cx="469.05" cy="179.74" r="0.92" fill="#fff" fill-opacity="0.7" stroke="#50655e" stroke-width="0.55"/>
<circle cx="472.85" cy="181.33" r="0.92" fill="#fff" fill-opacity="0.7" stroke="#50655e" stroke-width="0.55"/>
<circle cx="471.25" cy="182.92" r="0.92" fill="#fff" fill-opacity="0.7" stroke="#50655e" stroke-width="0.55"/>
<circle cx="469.85" cy="185.04" r="0.92" fill="#fff" fill-opacity="0.7" stroke="#50655e" stroke-width="0.55"/>
<circle cx="471.85" cy="177.09" r="0.92" fill="#fff" fill-opacity="0.7" stroke="#50655e" stroke-width="0.55"/>
<rect x="478" y="166.5" width="6.8" height="18.27" fill="#f1bb8d" stroke="#474747" stroke-width="0.55"/>
<line x1="481.4" y1="183.18" x2="481.4" y2="186.36" stroke="#333" stroke-width="0.45"/>
<line x1="479.9" y1="183.18" x2="482.9" y2="183.18" stroke="#333" stroke-width="0.45"/>
<line x1="479.9" y1="186.36" x2="482.9" y2="186.36" stroke="#333" stroke-width="0.45"/>
<circle cx="481.4" cy="174.44" r="0.92" fill="#fff" fill-opacity="0.7" stroke="#866f58" stroke-width="0.55"/>
<circle cx="479.8" cy="179.74" r="0.92" fill="#fff" fill-opacity="0.7" stroke="#866f58" stroke-width="0.55"/>
<circle cx="482.9" cy="182.39" r="0.92" fill="#fff" fill-opacity="0.7" stroke="#866f58" stroke-width="0.55"/>
<circle cx="480.6" cy="183.98" r="0.92" fill="#fff" fill-opacity="0.7" stroke="#866f58" stroke-width="0.55"/>
<circle cx="482.4" cy="185.57" r="0.92" fill="#fff" fill-opacity="0.7" stroke="#866f58" stroke-width="0.55"/>
<circle cx="479.5" cy="187.15" r="0.92" fill="#fff" fill-opacity="0.7" stroke="#866f58" stroke-width="0.55"/>
<circle cx="483.3" cy="188.74" r="0.92" fill="#fff" fill-opacity="0.7" stroke="#866f58" stroke-width="0.55"/>
<circle cx="481.7" cy="190.33" r="0.92" fill="#fff" fill-opacity="0.7" stroke="#866f58" stroke-width="0.55"/>
<circle cx="480.3" cy="193.51" r="0.92" fill="#fff" fill-opacity="0.7" stroke="#866f58" stroke-width="0.55"/>
<circle cx="482.3" cy="185.04" r="0.92" fill="#fff" fill-opacity="0.7" stroke="#866f58" stroke-width="0.55"/>
<rect x="488.2" y="166.5" width="6.9" height="11.92" fill="#b1d9e0" stroke="#474747" stroke-width="0.55"/>
<line x1="491.65" y1="177.36" x2="491.65" y2="179.48" stroke="#333" stroke-width="0.45"/>
<line x1="490.15" y1="177.36" x2="493.15" y2="177.36" stroke="#333" stroke-width="0.45"/>
<line x1="490.15" y1="179.48" x2="493.15" y2="179.48" stroke="#333" stroke-width="0.45"/>
<circle cx="491.65" cy="173.38" r="0.92" fill="#fff" fill-opacity="0.7" stroke="#5b757b" stroke-width="0.55"/>
<circle cx="490.05" cy="175.5" r="0.92" fill="#fff" fill-opacity="0.7" stroke="#5b757b" stroke-width="0.55"/>
<circle cx="493.15" cy="176.56" r="0.92" fill="#fff" fill-opacity="0.7" stroke="#5b757b" stroke-width="0.55"/>
<circle cx="490.85" cy="177.62" r="0.92" fill="#fff" fill-opacity="0.7" stroke="#5b757b" stroke-width="0.55"/>
<circle cx="492.65" cy="178.68" r="0.92" fill="#fff" fill-opacity="0.7" stroke="#5b757b" stroke-width="0.55"/>
<circle cx="489.75" cy="179.74" r="0.92" fill="#fff" fill-opacity="0.7" stroke="#5b757b" stroke-width="0.55"/>
<circle cx="493.55" cy="180.8" r="0.92" fill="#fff" fill-opacity="0.7" stroke="#5b757b" stroke-width="0.55"/>
<circle cx="491.95" cy="181.86" r="0.92" fill="#fff" fill-opacity="0.7" stroke="#5b757b" stroke-width="0.55"/>
<circle cx="490.55" cy="183.45" r="0.92" fill="#fff" fill-opacity="0.7" stroke="#5b757b" stroke-width="0.55"/>
<line x1="441.5" y1="166.5" x2="499.3" y2="166.5" stroke="#111" stroke-width="0.8"/>
<line x1="461.2" y1="142.5" x2="471.8" y2="142.5" stroke="#111" stroke-width="0.95"/>
<text transform="translate(466.5 143.63)" font-size="6.5" text-anchor="middle" fill="#111" stroke="#111" stroke-width="0.22">****</text>
<line x1="461.2" y1="148" x2="490.7" y2="148" stroke="#111" stroke-width="0.95"/>
<text transform="translate(475.95 149.13)" font-size="6.5" text-anchor="middle" fill="#111" stroke="#111" stroke-width="0.22">****</text>
<line x1="471" y1="158.8" x2="490.7" y2="158.8" stroke="#111" stroke-width="0.95"/>
<text transform="translate(480.85 159.93)" font-size="6.5" text-anchor="middle" fill="#111" stroke="#111" stroke-width="0.22">****</text>
<text transform="translate(491.4 166.33)" font-size="6.5" text-anchor="middle" fill="#111" stroke="#111" stroke-width="0.22">****</text>
<text transform="translate(471 192.13)" font-size="6.5" text-anchor="middle" fill="#111" stroke="#111" stroke-width="0.22">****</text>
<text transform="translate(481.2 195.43)" font-size="6.5" text-anchor="middle" fill="#111" stroke="#111" stroke-width="0.22">****</text>
<line x1="471" y1="195.3" x2="481.2" y2="195.3" stroke="#111" stroke-width="0.95"/>
<text transform="translate(476.1 201.43)" font-size="6.5" text-anchor="middle" fill="#111" stroke="#111" stroke-width="0.22">***</text>
<line x1="461.2" y1="201.5" x2="481.2" y2="201.5" stroke="#111" stroke-width="0.95"/>
<text transform="translate(470 207.53)" font-size="6.5" text-anchor="middle" fill="#111" stroke="#111" stroke-width="0.22">****</text>
<circle cx="440.4" cy="213.8" r="1.35" fill="#f4f4f4" stroke="#6a6a6a" stroke-width="0.7"/>
<text transform="translate(445.4 215.9) scale(1 1)" font-size="6" text-anchor="start" fill="#161616" stroke="#161616" stroke-width="0.17">Vehicle</text>
<circle cx="477" cy="213.8" r="1.35" fill="#a9c2bb" stroke="#50655e" stroke-width="0.7"/>
<text transform="translate(482 215.9) scale(1 1)" font-size="6" text-anchor="start" fill="#161616" stroke="#161616" stroke-width="0.17">GLP-1</text>
<circle cx="511.5" cy="213.8" r="1.35" fill="#c4d2e0" stroke="#5b6570" stroke-width="0.7"/>
<text transform="translate(516.5 215.9) scale(1 1)" font-size="6" text-anchor="start" fill="#161616" stroke="#161616" stroke-width="0.17">MK-801</text>
<circle cx="550.5" cy="213.8" r="1.35" fill="#f6d5b6" stroke="#866f58" stroke-width="0.7"/>
<text transform="translate(555.5 215.9) scale(1 1)" font-size="6" text-anchor="start" fill="#161616" stroke="#161616" stroke-width="0.17">GLP-1&#8211;MK-801</text>
<circle cx="440.4" cy="222.8" r="1.35" fill="#cfe6e9" stroke="#5b757b" stroke-width="0.7"/>
<text transform="translate(445.4 224.9) scale(1 1)" font-size="6" text-anchor="start" fill="#161616" stroke="#161616" stroke-width="0.17">Semaglutide</text>
</g>
<g>
<text transform="translate(509.3 128.5)" font-size="8.8" text-anchor="start" font-weight="bold" fill="#000" stroke="#000" stroke-width="0.55">k</text>
<line x1="538.2" y1="140.42" x2="538.2" y2="170.6" stroke="#222222" stroke-width="0.85"/>
<line x1="538.2" y1="175" x2="538.2" y2="205" stroke="#222222" stroke-width="0.85"/>
<line x1="536.2" y1="169.8" x2="540.2" y2="171.6" stroke="#222222" stroke-width="0.6"/>
<line x1="536.2" y1="174.2" x2="540.2" y2="176" stroke="#222222" stroke-width="0.6"/>
<line x1="536" y1="169.2" x2="538.2" y2="169.2" stroke="#222222" stroke-width="0.85"/>
<text transform="translate(534.7 171.2) scale(1 1)" font-size="5.65" text-anchor="end" fill="#161616" stroke="#161616" stroke-width="0.17">75</text>
<line x1="536" y1="155.62" x2="538.2" y2="155.62" stroke="#222222" stroke-width="0.85"/>
<text transform="translate(534.7 157.62) scale(1 1)" font-size="5.65" text-anchor="end" fill="#161616" stroke="#161616" stroke-width="0.17">100</text>
<line x1="536" y1="142.05" x2="538.2" y2="142.05" stroke="#222222" stroke-width="0.85"/>
<text transform="translate(534.7 144.05) scale(1 1)" font-size="5.65" text-anchor="end" fill="#161616" stroke="#161616" stroke-width="0.17">125</text>
<line x1="536" y1="205" x2="538.2" y2="205" stroke="#222222" stroke-width="0.85"/>
<text transform="translate(534.7 207) scale(1 1)" font-size="5.65" text-anchor="end" fill="#161616" stroke="#161616" stroke-width="0.17">0</text>
<line x1="536" y1="193.1" x2="538.2" y2="193.1" stroke="#222222" stroke-width="0.85"/>
<text transform="translate(534.7 195.1) scale(1 1)" font-size="5.65" text-anchor="end" fill="#161616" stroke="#161616" stroke-width="0.17">10</text>
<line x1="536" y1="181.2" x2="538.2" y2="181.2" stroke="#222222" stroke-width="0.85"/>
<text transform="translate(534.7 183.2) scale(1 1)" font-size="5.65" text-anchor="end" fill="#161616" stroke="#161616" stroke-width="0.17">20</text>
<line x1="538.2" y1="205" x2="591.3" y2="205" stroke="#222222" stroke-width="0.85"/>
<text transform="translate(520.2 172.8) rotate(-90) scale(1 1)" font-size="5.65" text-anchor="middle" fill="#161616" stroke="#161616" stroke-width="0.17">Saccharin preference (%)</text>
<rect x="541.4" y="160.78" width="6.9" height="44.22" fill="#dcdcdc" stroke="#474747" stroke-width="0.55"/>
<rect x="540.8" y="169.9" width="8.1" height="5.1" fill="#fff"/>
<line x1="544.85" y1="159.97" x2="544.85" y2="161.6" stroke="#333" stroke-width="0.45"/>
<line x1="543.35" y1="159.97" x2="546.35" y2="159.97" stroke="#333" stroke-width="0.45"/>
<line x1="543.35" y1="161.6" x2="546.35" y2="161.6" stroke="#333" stroke-width="0.45"/>
<circle cx="544.85" cy="156.71" r="0.92" fill="#fff" fill-opacity="0.7" stroke="#6a6a6a" stroke-width="0.55"/>
<circle cx="543.25" cy="157.8" r="0.92" fill="#fff" fill-opacity="0.7" stroke="#6a6a6a" stroke-width="0.55"/>
<circle cx="546.35" cy="158.88" r="0.92" fill="#fff" fill-opacity="0.7" stroke="#6a6a6a" stroke-width="0.55"/>
<circle cx="544.05" cy="159.43" r="0.92" fill="#fff" fill-opacity="0.7" stroke="#6a6a6a" stroke-width="0.55"/>
<circle cx="545.85" cy="160.51" r="0.92" fill="#fff" fill-opacity="0.7" stroke="#6a6a6a" stroke-width="0.55"/>
<circle cx="542.95" cy="161.05" r="0.92" fill="#fff" fill-opacity="0.7" stroke="#6a6a6a" stroke-width="0.55"/>
<circle cx="546.75" cy="162.14" r="0.92" fill="#fff" fill-opacity="0.7" stroke="#6a6a6a" stroke-width="0.55"/>
<circle cx="545.15" cy="163.23" r="0.92" fill="#fff" fill-opacity="0.7" stroke="#6a6a6a" stroke-width="0.55"/>
<rect x="552" y="163.23" width="6.9" height="41.77" fill="#a9bdd0" stroke="#474747" stroke-width="0.55"/>
<rect x="551.4" y="169.9" width="8.1" height="5.1" fill="#fff"/>
<line x1="555.45" y1="162.14" x2="555.45" y2="164.31" stroke="#333" stroke-width="0.45"/>
<line x1="553.95" y1="162.14" x2="556.95" y2="162.14" stroke="#333" stroke-width="0.45"/>
<line x1="553.95" y1="164.31" x2="556.95" y2="164.31" stroke="#333" stroke-width="0.45"/>
<circle cx="555.45" cy="155.08" r="0.92" fill="#fff" fill-opacity="0.7" stroke="#5b6570" stroke-width="0.55"/>
<circle cx="553.85" cy="158.34" r="0.92" fill="#fff" fill-opacity="0.7" stroke="#5b6570" stroke-width="0.55"/>
<circle cx="556.95" cy="159.97" r="0.92" fill="#fff" fill-opacity="0.7" stroke="#5b6570" stroke-width="0.55"/>
<circle cx="554.65" cy="161.05" r="0.92" fill="#fff" fill-opacity="0.7" stroke="#5b6570" stroke-width="0.55"/>
<circle cx="556.45" cy="162.14" r="0.92" fill="#fff" fill-opacity="0.7" stroke="#5b6570" stroke-width="0.55"/>
<circle cx="553.55" cy="163.77" r="0.92" fill="#fff" fill-opacity="0.7" stroke="#5b6570" stroke-width="0.55"/>
<circle cx="557.35" cy="165.4" r="0.92" fill="#fff" fill-opacity="0.7" stroke="#5b6570" stroke-width="0.55"/>
<circle cx="555.75" cy="167.03" r="0.92" fill="#fff" fill-opacity="0.7" stroke="#5b6570" stroke-width="0.55"/>
<circle cx="554.35" cy="168.66" r="0.92" fill="#fff" fill-opacity="0.7" stroke="#5b6570" stroke-width="0.55"/>
<rect x="562.4" y="184.77" width="6.8" height="20.23" fill="#7fa49b" stroke="#474747" stroke-width="0.55"/>
<line x1="565.8" y1="183.58" x2="565.8" y2="185.96" stroke="#333" stroke-width="0.45"/>
<line x1="564.3" y1="183.58" x2="567.3" y2="183.58" stroke="#333" stroke-width="0.45"/>
<line x1="564.3" y1="185.96" x2="567.3" y2="185.96" stroke="#333" stroke-width="0.45"/>
<circle cx="565.8" cy="178.82" r="0.92" fill="#fff" fill-opacity="0.7" stroke="#50655e" stroke-width="0.55"/>
<circle cx="564.2" cy="181.2" r="0.92" fill="#fff" fill-opacity="0.7" stroke="#50655e" stroke-width="0.55"/>
<circle cx="567.3" cy="182.39" r="0.92" fill="#fff" fill-opacity="0.7" stroke="#50655e" stroke-width="0.55"/>
<circle cx="565" cy="183.58" r="0.92" fill="#fff" fill-opacity="0.7" stroke="#50655e" stroke-width="0.55"/>
<circle cx="566.8" cy="184.77" r="0.92" fill="#fff" fill-opacity="0.7" stroke="#50655e" stroke-width="0.55"/>
<circle cx="563.9" cy="185.96" r="0.92" fill="#fff" fill-opacity="0.7" stroke="#50655e" stroke-width="0.55"/>
<circle cx="567.7" cy="187.15" r="0.92" fill="#fff" fill-opacity="0.7" stroke="#50655e" stroke-width="0.55"/>
<circle cx="566.1" cy="189.53" r="0.92" fill="#fff" fill-opacity="0.7" stroke="#50655e" stroke-width="0.55"/>
<circle cx="564.7" cy="190.72" r="0.92" fill="#fff" fill-opacity="0.7" stroke="#50655e" stroke-width="0.55"/>
<rect x="572.6" y="186.56" width="6.8" height="18.44" fill="#f1bb8d" stroke="#474747" stroke-width="0.55"/>
<line x1="576" y1="185.6" x2="576" y2="187.51" stroke="#333" stroke-width="0.45"/>
<line x1="574.5" y1="185.6" x2="577.5" y2="185.6" stroke="#333" stroke-width="0.45"/>
<line x1="574.5" y1="187.51" x2="577.5" y2="187.51" stroke="#333" stroke-width="0.45"/>
<circle cx="576" cy="179.41" r="0.92" fill="#fff" fill-opacity="0.7" stroke="#866f58" stroke-width="0.55"/>
<circle cx="574.4" cy="184.77" r="0.92" fill="#fff" fill-opacity="0.7" stroke="#866f58" stroke-width="0.55"/>
<circle cx="577.5" cy="185.37" r="0.92" fill="#fff" fill-opacity="0.7" stroke="#866f58" stroke-width="0.55"/>
<circle cx="575.2" cy="185.96" r="0.92" fill="#fff" fill-opacity="0.7" stroke="#866f58" stroke-width="0.55"/>
<circle cx="577" cy="187.15" r="0.92" fill="#fff" fill-opacity="0.7" stroke="#866f58" stroke-width="0.55"/>
<circle cx="574.1" cy="187.75" r="0.92" fill="#fff" fill-opacity="0.7" stroke="#866f58" stroke-width="0.55"/>
<circle cx="577.9" cy="188.34" r="0.92" fill="#fff" fill-opacity="0.7" stroke="#866f58" stroke-width="0.55"/>
<circle cx="576.3" cy="189.53" r="0.92" fill="#fff" fill-opacity="0.7" stroke="#866f58" stroke-width="0.55"/>
<circle cx="574.9" cy="190.72" r="0.92" fill="#fff" fill-opacity="0.7" stroke="#866f58" stroke-width="0.55"/>
<rect x="582.9" y="192.15" width="6.9" height="12.85" fill="#b1d9e0" stroke="#474747" stroke-width="0.55"/>
<line x1="586.35" y1="190.96" x2="586.35" y2="193.34" stroke="#333" stroke-width="0.45"/>
<line x1="584.85" y1="190.96" x2="587.85" y2="190.96" stroke="#333" stroke-width="0.45"/>
<line x1="584.85" y1="193.34" x2="587.85" y2="193.34" stroke="#333" stroke-width="0.45"/>
<circle cx="586.35" cy="188.34" r="0.92" fill="#fff" fill-opacity="0.7" stroke="#5b757b" stroke-width="0.55"/>
<circle cx="584.75" cy="189.53" r="0.92" fill="#fff" fill-opacity="0.7" stroke="#5b757b" stroke-width="0.55"/>
<circle cx="587.85" cy="190.72" r="0.92" fill="#fff" fill-opacity="0.7" stroke="#5b757b" stroke-width="0.55"/>
<circle cx="585.55" cy="191.91" r="0.92" fill="#fff" fill-opacity="0.7" stroke="#5b757b" stroke-width="0.55"/>
<circle cx="587.35" cy="192.5" r="0.92" fill="#fff" fill-opacity="0.7" stroke="#5b757b" stroke-width="0.55"/>
<circle cx="584.45" cy="193.1" r="0.92" fill="#fff" fill-opacity="0.7" stroke="#5b757b" stroke-width="0.55"/>
<circle cx="588.25" cy="194.29" r="0.92" fill="#fff" fill-opacity="0.7" stroke="#5b757b" stroke-width="0.55"/>
<circle cx="586.65" cy="195.48" r="0.92" fill="#fff" fill-opacity="0.7" stroke="#5b757b" stroke-width="0.55"/>
<circle cx="585.25" cy="196.67" r="0.92" fill="#fff" fill-opacity="0.7" stroke="#5b757b" stroke-width="0.55"/>
<line x1="554.1" y1="140.9" x2="565.1" y2="140.9" stroke="#111" stroke-width="0.95"/>
<text transform="translate(559.6 141.93)" font-size="6.5" text-anchor="middle" fill="#111" stroke="#111" stroke-width="0.22">****</text>
<line x1="554.1" y1="146.2" x2="575.6" y2="146.2" stroke="#111" stroke-width="0.95"/>
<text transform="translate(564.85 147.23)" font-size="6.5" text-anchor="middle" fill="#111" stroke="#111" stroke-width="0.22">****</text>
<line x1="554.1" y1="151.3" x2="586.8" y2="151.3" stroke="#111" stroke-width="0.95"/>
<text transform="translate(570.45 152.33)" font-size="6.5" text-anchor="middle" fill="#111" stroke="#111" stroke-width="0.22">****</text>
<line x1="566.1" y1="165.3" x2="586.8" y2="165.3" stroke="#111" stroke-width="0.95"/>
<text transform="translate(576.45 166.33)" font-size="6.5" text-anchor="middle" fill="#111" stroke="#111" stroke-width="0.22">***</text>
<line x1="577.1" y1="170.9" x2="586.8" y2="170.9" stroke="#111" stroke-width="0.95"/>
<text transform="translate(581.95 172.03)" font-size="6.5" text-anchor="middle" fill="#111" stroke="#111" stroke-width="0.22">***</text>
<text transform="translate(565.6 180.63)" font-size="6.5" text-anchor="middle" fill="#111" stroke="#111" stroke-width="0.22">****</text>
<text transform="translate(575.8 177.43)" font-size="6.5" text-anchor="middle" fill="#111" stroke="#111" stroke-width="0.22">****</text>
<text transform="translate(586.4 188.03)" font-size="6.5" text-anchor="middle" fill="#111" stroke="#111" stroke-width="0.22">****</text>
</g>
<g>
<text transform="translate(0.3 239.1)" font-size="8.8" text-anchor="start" font-weight="bold" fill="#000" stroke="#000" stroke-width="0.55">l</text>
<text transform="translate(59.8 240.6) scale(1 1)" font-size="6" text-anchor="middle" fill="#333" stroke="#333" stroke-width="0.17">db/db mice</text>
<rect x="15.1" y="248.5" width="53.7" height="12.9" fill="#dcdcdc"/>
<text transform="translate(41.95 256.65) scale(1 1)" font-size="6.05" text-anchor="middle" fill="#1c1c1c" stroke="#1c1c1c" stroke-width="0.07">Vehicle</text>
<g transform="translate(76 246.6) scale(1)">
<path d="M17.2 10.6 C16.6 5 20.5 0.8 27 0.6 C31.5 0.5 34.6 2.2 36 3.6 C36.2 2.8 37.2 2.5 37.7 3.1 C38.1 3.7 37.9 4.4 37.6 4.8 C39.4 6.4 41.2 8.6 41.6 10 C41.6 11 40.6 11.6 39 11.6 L35 11.8 C34 12.4 32 12.6 30 12.4 L20 12.2 C18.4 12 17.4 11.6 17.2 10.6 Z" fill="#d9d9d9"/>
<path d="M17.6 10.6 C12 10 6 10.2 3.6 11 C1.6 11.8 0.8 13.4 0.6 14.6" fill="none" stroke="#d9d9d9" stroke-width="0.95" stroke-linecap="round"/>
</g>
<rect x="15.1" y="266.1" width="53.7" height="12.9" fill="#a9bdd0"/>
<text transform="translate(41.95 274.25) scale(1 1)" font-size="6.05" text-anchor="middle" fill="#1c1c1c" stroke="#1c1c1c" stroke-width="0.07">MK-801</text>
<g transform="translate(76 264.2) scale(1)">
<path d="M17.2 10.6 C16.6 5 20.5 0.8 27 0.6 C31.5 0.5 34.6 2.2 36 3.6 C36.2 2.8 37.2 2.5 37.7 3.1 C38.1 3.7 37.9 4.4 37.6 4.8 C39.4 6.4 41.2 8.6 41.6 10 C41.6 11 40.6 11.6 39 11.6 L35 11.8 C34 12.4 32 12.6 30 12.4 L20 12.2 C18.4 12 17.4 11.6 17.2 10.6 Z" fill="#a0b5c8"/>
<path d="M17.6 10.6 C12 10 6 10.2 3.6 11 C1.6 11.8 0.8 13.4 0.6 14.6" fill="none" stroke="#a0b5c8" stroke-width="0.95" stroke-linecap="round"/>
</g>
<rect x="15.1" y="283.6" width="53.7" height="12.9" fill="#b1d9e0"/>
<text transform="translate(41.95 291.75) scale(1 1)" font-size="6.05" text-anchor="middle" fill="#1c1c1c" stroke="#1c1c1c" stroke-width="0.07">Semaglutide</text>
<g transform="translate(76 281.7) scale(1)">
<path d="M17.2 10.6 C16.6 5 20.5 0.8 27 0.6 C31.5 0.5 34.6 2.2 36 3.6 C36.2 2.8 37.2 2.5 37.7 3.1 C38.1 3.7 37.9 4.4 37.6 4.8 C39.4 6.4 41.2 8.6 41.6 10 C41.6 11 40.6 11.6 39 11.6 L35 11.8 C34 12.4 32 12.6 30 12.4 L20 12.2 C18.4 12 17.4 11.6 17.2 10.6 Z" fill="#aed3d9"/>
<path d="M17.6 10.6 C12 10 6 10.2 3.6 11 C1.6 11.8 0.8 13.4 0.6 14.6" fill="none" stroke="#aed3d9" stroke-width="0.95" stroke-linecap="round"/>
</g>
<rect x="15.1" y="301" width="53.7" height="12.9" fill="#f1bb8d"/>
<text transform="translate(41.95 309.15) scale(1 1)" font-size="6.05" text-anchor="middle" fill="#1c1c1c" stroke="#1c1c1c" stroke-width="0.07">GLP-1&#8211;MK-801</text>
<g transform="translate(76 299.1) scale(1)">
<path d="M17.2 10.6 C16.6 5 20.5 0.8 27 0.6 C31.5 0.5 34.6 2.2 36 3.6 C36.2 2.8 37.2 2.5 37.7 3.1 C38.1 3.7 37.9 4.4 37.6 4.8 C39.4 6.4 41.2 8.6 41.6 10 C41.6 11 40.6 11.6 39 11.6 L35 11.8 C34 12.4 32 12.6 30 12.4 L20 12.2 C18.4 12 17.4 11.6 17.2 10.6 Z" fill="#efb98e"/>
<path d="M17.6 10.6 C12 10 6 10.2 3.6 11 C1.6 11.8 0.8 13.4 0.6 14.6" fill="none" stroke="#efb98e" stroke-width="0.95" stroke-linecap="round"/>
</g>
</g>
<g>
<text transform="translate(143.6 239.1)" font-size="8.8" text-anchor="start" font-weight="bold" fill="#000" stroke="#000" stroke-width="0.55">m</text>
<text transform="translate(209.4 239.4) scale(1 1)" font-size="5.9" text-anchor="middle" fill="#333" stroke="#333" stroke-width="0.17">Acute treatment</text>
<line x1="173.5" y1="244.4" x2="173.5" y2="310" stroke="#222222" stroke-width="0.85"/>
<line x1="171.3" y1="310" x2="173.5" y2="310" stroke="#222222" stroke-width="0.85"/>
<text transform="translate(170 312) scale(1 1)" font-size="5.65" text-anchor="end" fill="#161616" stroke="#161616" stroke-width="0.17">0</text>
<line x1="171.3" y1="291.15" x2="173.5" y2="291.15" stroke="#222222" stroke-width="0.85"/>
<text transform="translate(170 293.15) scale(1 1)" font-size="5.65" text-anchor="end" fill="#161616" stroke="#161616" stroke-width="0.17">10</text>
<line x1="171.3" y1="272.3" x2="173.5" y2="272.3" stroke="#222222" stroke-width="0.85"/>
<text transform="translate(170 274.3) scale(1 1)" font-size="5.65" text-anchor="end" fill="#161616" stroke="#161616" stroke-width="0.17">20</text>
<line x1="171.3" y1="253.45" x2="173.5" y2="253.45" stroke="#222222" stroke-width="0.85"/>
<text transform="translate(170 255.45) scale(1 1)" font-size="5.65" text-anchor="end" fill="#161616" stroke="#161616" stroke-width="0.17">30</text>
<line x1="173.5" y1="310" x2="220.6" y2="310" stroke="#222222" stroke-width="0.85"/>
<line x1="224.6" y1="310" x2="241.2" y2="310" stroke="#222222" stroke-width="0.85"/>
<line x1="173.5" y1="310" x2="173.5" y2="312.2" stroke="#222222" stroke-width="0.85"/>
<text transform="translate(173.5 318.3) scale(1 1)" font-size="5.65" text-anchor="middle" fill="#161616" stroke="#161616" stroke-width="0.17">0</text>
<line x1="185.03" y1="310" x2="185.03" y2="312.2" stroke="#222222" stroke-width="0.85"/>
<text transform="translate(185.03 318.3) scale(1 1)" font-size="5.65" text-anchor="middle" fill="#161616" stroke="#161616" stroke-width="0.17">1</text>
<line x1="196.56" y1="310" x2="196.56" y2="312.2" stroke="#222222" stroke-width="0.85"/>
<text transform="translate(196.56 318.3) scale(1 1)" font-size="5.65" text-anchor="middle" fill="#161616" stroke="#161616" stroke-width="0.17">2</text>
<line x1="208.09" y1="310" x2="208.09" y2="312.2" stroke="#222222" stroke-width="0.85"/>
<text transform="translate(208.09 318.3) scale(1 1)" font-size="5.65" text-anchor="middle" fill="#161616" stroke="#161616" stroke-width="0.17">3</text>
<line x1="219.62" y1="310" x2="219.62" y2="312.2" stroke="#222222" stroke-width="0.85"/>
<text transform="translate(219.62 318.3) scale(1 1)" font-size="5.65" text-anchor="middle" fill="#161616" stroke="#161616" stroke-width="0.17">4</text>
<line x1="225.5" y1="310" x2="225.5" y2="312.2" stroke="#222222" stroke-width="0.85"/>
<text transform="translate(226.5 318.3) scale(1 1)" font-size="5.65" text-anchor="middle" fill="#161616" stroke="#161616" stroke-width="0.17">5</text>
<line x1="240.5" y1="310" x2="240.5" y2="312.2" stroke="#222222" stroke-width="0.85"/>
<text transform="translate(240.5 318.3) scale(1 1)" font-size="5.65" text-anchor="middle" fill="#161616" stroke="#161616" stroke-width="0.17">24</text>
<line x1="219.6" y1="311.8" x2="221.6" y2="308.2" stroke="#222222" stroke-width="0.6"/>
<line x1="223.6" y1="311.8" x2="225.6" y2="308.2" stroke="#222222" stroke-width="0.6"/>
<text transform="translate(207.7 326) scale(1 1)" font-size="5.65" text-anchor="middle" fill="#161616" stroke="#161616" stroke-width="0.17">Time (h)</text>
<text transform="translate(158.2 277.8) rotate(-90) scale(1 1)" font-size="5.65" text-anchor="middle" fill="#161616" stroke="#161616" stroke-width="0.17">Blood glucose (mmol l<tspan dy="-2" font-size="3.6">&#8722;1</tspan><tspan dy="2">)</tspan></text>
<path d="M173.5 272.68 L181.8 287.57 L196.56 292.28 L219.62 293.6" fill="none" stroke="#333" stroke-width="0.65"/>
<line x1="173.5" y1="270.42" x2="173.5" y2="274.94" stroke="#222222" stroke-width="0.65"/>
<line x1="172" y1="270.42" x2="175" y2="270.42" stroke="#222222" stroke-width="0.65"/>
<line x1="172" y1="274.94" x2="175" y2="274.94" stroke="#222222" stroke-width="0.65"/>
<line x1="181.8" y1="286.44" x2="181.8" y2="288.7" stroke="#222222" stroke-width="0.65"/>
<line x1="180.3" y1="286.44" x2="183.3" y2="286.44" stroke="#222222" stroke-width="0.65"/>
<line x1="180.3" y1="288.7" x2="183.3" y2="288.7" stroke="#222222" stroke-width="0.65"/>
<line x1="196.56" y1="291.34" x2="196.56" y2="293.22" stroke="#222222" stroke-width="0.65"/>
<line x1="195.06" y1="291.34" x2="198.06" y2="291.34" stroke="#222222" stroke-width="0.65"/>
<line x1="195.06" y1="293.22" x2="198.06" y2="293.22" stroke="#222222" stroke-width="0.65"/>
<line x1="219.62" y1="292.66" x2="219.62" y2="294.54" stroke="#222222" stroke-width="0.65"/>
<line x1="218.12" y1="292.66" x2="221.12" y2="292.66" stroke="#222222" stroke-width="0.65"/>
<line x1="218.12" y1="294.54" x2="221.12" y2="294.54" stroke="#222222" stroke-width="0.65"/>
<circle cx="173.5" cy="272.68" r="1.75" fill="#fbf1e6" stroke="#896742" stroke-width="0.88"/>
<circle cx="181.8" cy="287.57" r="1.75" fill="#fbf1e6" stroke="#896742" stroke-width="0.88"/>
<circle cx="196.56" cy="292.28" r="1.75" fill="#fbf1e6" stroke="#896742" stroke-width="0.88"/>
<circle cx="219.62" cy="293.6" r="1.75" fill="#fbf1e6" stroke="#896742" stroke-width="0.88"/>
<line x1="226.12" y1="293.48" x2="240.5" y2="293.22" stroke="#333" stroke-width="0.65"/>
<line x1="240.5" y1="291.72" x2="240.5" y2="294.73" stroke="#222222" stroke-width="0.65"/>
<line x1="239" y1="291.72" x2="242" y2="291.72" stroke="#222222" stroke-width="0.65"/>
<line x1="239" y1="294.73" x2="242" y2="294.73" stroke="#222222" stroke-width="0.65"/>
<circle cx="240.5" cy="293.22" r="1.75" fill="#fbf1e6" stroke="#896742" stroke-width="0.88"/>
<path d="M173.5 269.66 L181.8 286.63 L196.56 286.25 L219.62 288.13" fill="none" stroke="#333" stroke-width="0.65"/>
<line x1="173.5" y1="267.4" x2="173.5" y2="271.92" stroke="#222222" stroke-width="0.65"/>
<line x1="172" y1="267.4" x2="175" y2="267.4" stroke="#222222" stroke-width="0.65"/>
<line x1="172" y1="271.92" x2="175" y2="271.92" stroke="#222222" stroke-width="0.65"/>
<line x1="181.8" y1="285.12" x2="181.8" y2="288.13" stroke="#222222" stroke-width="0.65"/>
<line x1="180.3" y1="285.12" x2="183.3" y2="285.12" stroke="#222222" stroke-width="0.65"/>
<line x1="180.3" y1="288.13" x2="183.3" y2="288.13" stroke="#222222" stroke-width="0.65"/>
<line x1="196.56" y1="284.74" x2="196.56" y2="287.76" stroke="#222222" stroke-width="0.65"/>
<line x1="195.06" y1="284.74" x2="198.06" y2="284.74" stroke="#222222" stroke-width="0.65"/>
<line x1="195.06" y1="287.76" x2="198.06" y2="287.76" stroke="#222222" stroke-width="0.65"/>
<line x1="219.62" y1="286.25" x2="219.62" y2="290.02" stroke="#222222" stroke-width="0.65"/>
<line x1="218.12" y1="286.25" x2="221.12" y2="286.25" stroke="#222222" stroke-width="0.65"/>
<line x1="218.12" y1="290.02" x2="221.12" y2="290.02" stroke="#222222" stroke-width="0.65"/>
<circle cx="173.5" cy="269.66" r="1.75" fill="#edf5f6" stroke="#46646b" stroke-width="0.88"/>
<circle cx="181.8" cy="286.63" r="1.75" fill="#edf5f6" stroke="#46646b" stroke-width="0.88"/>
<circle cx="196.56" cy="286.25" r="1.75" fill="#edf5f6" stroke="#46646b" stroke-width="0.88"/>
<circle cx="219.62" cy="288.13" r="1.75" fill="#edf5f6" stroke="#46646b" stroke-width="0.88"/>
<line x1="226.12" y1="290.66" x2="240.5" y2="296.24" stroke="#333" stroke-width="0.65"/>
<line x1="240.5" y1="294.35" x2="240.5" y2="298.12" stroke="#222222" stroke-width="0.65"/>
<line x1="239" y1="294.35" x2="242" y2="294.35" stroke="#222222" stroke-width="0.65"/>
<line x1="239" y1="298.12" x2="242" y2="298.12" stroke="#222222" stroke-width="0.65"/>
<circle cx="240.5" cy="296.24" r="1.75" fill="#edf5f6" stroke="#46646b" stroke-width="0.88"/>
<path d="M173.5 262.88 L181.8 269.66 L196.56 264.19 L219.62 269.28" fill="none" stroke="#333" stroke-width="0.65"/>
<line x1="173.5" y1="260.61" x2="173.5" y2="265.14" stroke="#222222" stroke-width="0.65"/>
<line x1="172" y1="260.61" x2="175" y2="260.61" stroke="#222222" stroke-width="0.65"/>
<line x1="172" y1="265.14" x2="175" y2="265.14" stroke="#222222" stroke-width="0.65"/>
<line x1="181.8" y1="267.78" x2="181.8" y2="271.55" stroke="#222222" stroke-width="0.65"/>
<line x1="180.3" y1="267.78" x2="183.3" y2="267.78" stroke="#222222" stroke-width="0.65"/>
<line x1="180.3" y1="271.55" x2="183.3" y2="271.55" stroke="#222222" stroke-width="0.65"/>
<line x1="196.56" y1="262.69" x2="196.56" y2="265.7" stroke="#222222" stroke-width="0.65"/>
<line x1="195.06" y1="262.69" x2="198.06" y2="262.69" stroke="#222222" stroke-width="0.65"/>
<line x1="195.06" y1="265.7" x2="198.06" y2="265.7" stroke="#222222" stroke-width="0.65"/>
<line x1="219.62" y1="266.27" x2="219.62" y2="272.3" stroke="#222222" stroke-width="0.65"/>
<line x1="218.12" y1="266.27" x2="221.12" y2="266.27" stroke="#222222" stroke-width="0.65"/>
<line x1="218.12" y1="272.3" x2="221.12" y2="272.3" stroke="#222222" stroke-width="0.65"/>
<circle cx="173.5" cy="262.88" r="1.75" fill="#d3dae2" stroke="#434d59" stroke-width="0.88"/>
<circle cx="181.8" cy="269.66" r="1.75" fill="#d3dae2" stroke="#434d59" stroke-width="0.88"/>
<circle cx="196.56" cy="264.19" r="1.75" fill="#d3dae2" stroke="#434d59" stroke-width="0.88"/>
<circle cx="219.62" cy="269.28" r="1.75" fill="#d3dae2" stroke="#434d59" stroke-width="0.88"/>
<line x1="226.12" y1="270.34" x2="240.5" y2="272.68" stroke="#333" stroke-width="0.65"/>
<line x1="240.5" y1="270.79" x2="240.5" y2="274.56" stroke="#222222" stroke-width="0.65"/>
<line x1="239" y1="270.79" x2="242" y2="270.79" stroke="#222222" stroke-width="0.65"/>
<line x1="239" y1="274.56" x2="242" y2="274.56" stroke="#222222" stroke-width="0.65"/>
<circle cx="240.5" cy="272.68" r="1.75" fill="#d3dae2" stroke="#434d59" stroke-width="0.88"/>
<path d="M173.5 265.7 L181.8 264.76 L196.56 262.12 L219.62 268.34" fill="none" stroke="#333" stroke-width="0.65"/>
<line x1="173.5" y1="263.82" x2="173.5" y2="267.59" stroke="#222222" stroke-width="0.65"/>
<line x1="172" y1="263.82" x2="175" y2="263.82" stroke="#222222" stroke-width="0.65"/>
<line x1="172" y1="267.59" x2="175" y2="267.59" stroke="#222222" stroke-width="0.65"/>
<line x1="181.8" y1="261.74" x2="181.8" y2="267.78" stroke="#222222" stroke-width="0.65"/>
<line x1="180.3" y1="261.74" x2="183.3" y2="261.74" stroke="#222222" stroke-width="0.65"/>
<line x1="180.3" y1="267.78" x2="183.3" y2="267.78" stroke="#222222" stroke-width="0.65"/>
<line x1="196.56" y1="259.48" x2="196.56" y2="264.76" stroke="#222222" stroke-width="0.65"/>
<line x1="195.06" y1="259.48" x2="198.06" y2="259.48" stroke="#222222" stroke-width="0.65"/>
<line x1="195.06" y1="264.76" x2="198.06" y2="264.76" stroke="#222222" stroke-width="0.65"/>
<line x1="219.62" y1="265.33" x2="219.62" y2="271.36" stroke="#222222" stroke-width="0.65"/>
<line x1="218.12" y1="265.33" x2="221.12" y2="265.33" stroke="#222222" stroke-width="0.65"/>
<line x1="218.12" y1="271.36" x2="221.12" y2="271.36" stroke="#222222" stroke-width="0.65"/>
<circle cx="173.5" cy="265.7" r="1.75" fill="#fff" stroke="#505050" stroke-width="0.88"/>
<circle cx="181.8" cy="264.76" r="1.75" fill="#fff" stroke="#505050" stroke-width="0.88"/>
<circle cx="196.56" cy="262.12" r="1.75" fill="#fff" stroke="#505050" stroke-width="0.88"/>
<circle cx="219.62" cy="268.34" r="1.75" fill="#fff" stroke="#505050" stroke-width="0.88"/>
<line x1="226.12" y1="267.64" x2="240.5" y2="266.08" stroke="#333" stroke-width="0.65"/>
<line x1="240.5" y1="263.06" x2="240.5" y2="269.1" stroke="#222222" stroke-width="0.65"/>
<line x1="239" y1="263.06" x2="242" y2="263.06" stroke="#222222" stroke-width="0.65"/>
<line x1="239" y1="269.1" x2="242" y2="269.1" stroke="#222222" stroke-width="0.65"/>
<circle cx="240.5" cy="266.08" r="1.75" fill="#fff" stroke="#505050" stroke-width="0.88"/>
<line x1="169.6" y1="334.7" x2="176.4" y2="334.7" stroke="#333" stroke-width="0.65"/>
<circle cx="173" cy="334.7" r="1.2" fill="#fff" stroke="#505050" stroke-width="0.8"/>
<text transform="translate(179.2 336.8) scale(1 1)" font-size="6" text-anchor="start" fill="#161616" stroke="#161616" stroke-width="0.17">Vehicle</text>
<line x1="210.2" y1="334.7" x2="217" y2="334.7" stroke="#333" stroke-width="0.65"/>
<circle cx="213.6" cy="334.7" r="1.2" fill="#d3dae2" stroke="#434d59" stroke-width="0.8"/>
<text transform="translate(220.1 336.8) scale(1 1)" font-size="6" text-anchor="start" fill="#161616" stroke="#161616" stroke-width="0.17">MK-801</text>
<line x1="253.6" y1="334.7" x2="260.4" y2="334.7" stroke="#333" stroke-width="0.65"/>
<circle cx="257" cy="334.7" r="1.2" fill="#edf5f6" stroke="#46646b" stroke-width="0.8"/>
<text transform="translate(263.2 336.8) scale(1 1)" font-size="6" text-anchor="start" fill="#161616" stroke="#161616" stroke-width="0.17">Semaglutide</text>
<line x1="308.9" y1="334.7" x2="315.7" y2="334.7" stroke="#333" stroke-width="0.65"/>
<circle cx="312.3" cy="334.7" r="1.2" fill="#fbf1e6" stroke="#896742" stroke-width="0.8"/>
<text transform="translate(319.2 336.8) scale(1 1)" font-size="6" text-anchor="start" fill="#161616" stroke="#161616" stroke-width="0.17">GLP-1&#8211;MK-801</text>
</g>
<g>
<text transform="translate(270.8 239.1)" font-size="8.8" text-anchor="start" font-weight="bold" fill="#000" stroke="#000" stroke-width="0.55">n</text>
<line x1="300.4" y1="243.9" x2="300.4" y2="310.2" stroke="#222222" stroke-width="0.85"/>
<line x1="298.2" y1="310.2" x2="300.4" y2="310.2" stroke="#222222" stroke-width="0.85"/>
<text transform="translate(296.9 312.2) scale(1 1)" font-size="5.65" text-anchor="end" fill="#161616" stroke="#161616" stroke-width="0.17">0</text>
<line x1="298.2" y1="295.51" x2="300.4" y2="295.51" stroke="#222222" stroke-width="0.85"/>
<text transform="translate(296.9 297.51) scale(1 1)" font-size="5.65" text-anchor="end" fill="#161616" stroke="#161616" stroke-width="0.17">200</text>
<line x1="298.2" y1="280.82" x2="300.4" y2="280.82" stroke="#222222" stroke-width="0.85"/>
<text transform="translate(296.9 282.82) scale(1 1)" font-size="5.65" text-anchor="end" fill="#161616" stroke="#161616" stroke-width="0.17">400</text>
<line x1="298.2" y1="266.13" x2="300.4" y2="266.13" stroke="#222222" stroke-width="0.85"/>
<text transform="translate(296.9 268.13) scale(1 1)" font-size="5.65" text-anchor="end" fill="#161616" stroke="#161616" stroke-width="0.17">600</text>
<line x1="298.2" y1="251.44" x2="300.4" y2="251.44" stroke="#222222" stroke-width="0.85"/>
<text transform="translate(296.9 253.44) scale(1 1)" font-size="5.65" text-anchor="end" fill="#161616" stroke="#161616" stroke-width="0.17">800</text>
<line x1="300.4" y1="310.2" x2="345.1" y2="310.2" stroke="#222222" stroke-width="0.85"/>
<text transform="translate(281 278.5) rotate(-90) scale(1 1)" font-size="5.65" text-anchor="middle" fill="#161616" stroke="#161616" stroke-width="0.17">AUC</text>
<rect x="304.1" y="271.27" width="7" height="38.93" fill="#dcdcdc" stroke="#474747" stroke-width="0.55"/>
<line x1="307.6" y1="269.07" x2="307.6" y2="273.48" stroke="#333" stroke-width="0.45"/>
<line x1="306.1" y1="269.07" x2="309.1" y2="269.07" stroke="#333" stroke-width="0.45"/>
<line x1="306.1" y1="273.48" x2="309.1" y2="273.48" stroke="#333" stroke-width="0.45"/>
<circle cx="307.6" cy="255.48" r="0.92" fill="#fff" fill-opacity="0.7" stroke="#6a6a6a" stroke-width="0.55"/>
<circle cx="306" cy="263.93" r="0.92" fill="#fff" fill-opacity="0.7" stroke="#6a6a6a" stroke-width="0.55"/>
<circle cx="309.1" cy="267.6" r="0.92" fill="#fff" fill-opacity="0.7" stroke="#6a6a6a" stroke-width="0.55"/>
<circle cx="306.8" cy="270.17" r="0.92" fill="#fff" fill-opacity="0.7" stroke="#6a6a6a" stroke-width="0.55"/>
<circle cx="308.6" cy="272.01" r="0.92" fill="#fff" fill-opacity="0.7" stroke="#6a6a6a" stroke-width="0.55"/>
<circle cx="305.7" cy="273.47" r="0.92" fill="#fff" fill-opacity="0.7" stroke="#6a6a6a" stroke-width="0.55"/>
<circle cx="309.5" cy="275.68" r="0.92" fill="#fff" fill-opacity="0.7" stroke="#6a6a6a" stroke-width="0.55"/>
<circle cx="307.9" cy="285.96" r="0.92" fill="#fff" fill-opacity="0.7" stroke="#6a6a6a" stroke-width="0.55"/>
<rect x="314.1" y="273.47" width="7.1" height="36.73" fill="#a9bdd0" stroke="#474747" stroke-width="0.55"/>
<line x1="317.65" y1="271.64" x2="317.65" y2="275.31" stroke="#333" stroke-width="0.45"/>
<line x1="316.15" y1="271.64" x2="319.15" y2="271.64" stroke="#333" stroke-width="0.45"/>
<line x1="316.15" y1="275.31" x2="319.15" y2="275.31" stroke="#333" stroke-width="0.45"/>
<circle cx="317.65" cy="264.29" r="0.92" fill="#fff" fill-opacity="0.7" stroke="#5b6570" stroke-width="0.55"/>
<circle cx="316.05" cy="265.4" r="0.92" fill="#fff" fill-opacity="0.7" stroke="#5b6570" stroke-width="0.55"/>
<circle cx="319.15" cy="270.54" r="0.92" fill="#fff" fill-opacity="0.7" stroke="#5b6570" stroke-width="0.55"/>
<circle cx="316.85" cy="272.01" r="0.92" fill="#fff" fill-opacity="0.7" stroke="#5b6570" stroke-width="0.55"/>
<circle cx="318.65" cy="273.47" r="0.92" fill="#fff" fill-opacity="0.7" stroke="#5b6570" stroke-width="0.55"/>
<circle cx="315.75" cy="275.68" r="0.92" fill="#fff" fill-opacity="0.7" stroke="#5b6570" stroke-width="0.55"/>
<circle cx="319.55" cy="277.88" r="0.92" fill="#fff" fill-opacity="0.7" stroke="#5b6570" stroke-width="0.55"/>
<circle cx="317.95" cy="280.82" r="0.92" fill="#fff" fill-opacity="0.7" stroke="#5b6570" stroke-width="0.55"/>
<rect x="324.4" y="292.43" width="7" height="17.77" fill="#b1d9e0" stroke="#474747" stroke-width="0.55"/>
<line x1="327.9" y1="291.1" x2="327.9" y2="293.75" stroke="#333" stroke-width="0.45"/>
<line x1="326.4" y1="291.1" x2="329.4" y2="291.1" stroke="#333" stroke-width="0.45"/>
<line x1="326.4" y1="293.75" x2="329.4" y2="293.75" stroke="#333" stroke-width="0.45"/>
<circle cx="327.9" cy="285.59" r="0.92" fill="#fff" fill-opacity="0.7" stroke="#5b757b" stroke-width="0.55"/>
<circle cx="326.3" cy="286.7" r="0.92" fill="#fff" fill-opacity="0.7" stroke="#5b757b" stroke-width="0.55"/>
<circle cx="329.4" cy="291.1" r="0.92" fill="#fff" fill-opacity="0.7" stroke="#5b757b" stroke-width="0.55"/>
<circle cx="327.1" cy="292.57" r="0.92" fill="#fff" fill-opacity="0.7" stroke="#5b757b" stroke-width="0.55"/>
<circle cx="328.9" cy="293.67" r="0.92" fill="#fff" fill-opacity="0.7" stroke="#5b757b" stroke-width="0.55"/>
<circle cx="326" cy="295.51" r="0.92" fill="#fff" fill-opacity="0.7" stroke="#5b757b" stroke-width="0.55"/>
<circle cx="329.8" cy="296.98" r="0.92" fill="#fff" fill-opacity="0.7" stroke="#5b757b" stroke-width="0.55"/>
<circle cx="328.2" cy="298.45" r="0.92" fill="#fff" fill-opacity="0.7" stroke="#5b757b" stroke-width="0.55"/>
<rect x="334.4" y="294.33" width="7.1" height="15.87" fill="#f1bb8d" stroke="#474747" stroke-width="0.55"/>
<line x1="337.95" y1="293.16" x2="337.95" y2="295.51" stroke="#333" stroke-width="0.45"/>
<line x1="336.45" y1="293.16" x2="339.45" y2="293.16" stroke="#333" stroke-width="0.45"/>
<line x1="336.45" y1="295.51" x2="339.45" y2="295.51" stroke="#333" stroke-width="0.45"/>
<circle cx="337.95" cy="290" r="0.92" fill="#fff" fill-opacity="0.7" stroke="#866f58" stroke-width="0.55"/>
<circle cx="336.35" cy="291.1" r="0.92" fill="#fff" fill-opacity="0.7" stroke="#866f58" stroke-width="0.55"/>
<circle cx="339.45" cy="292.57" r="0.92" fill="#fff" fill-opacity="0.7" stroke="#866f58" stroke-width="0.55"/>
<circle cx="337.15" cy="293.67" r="0.92" fill="#fff" fill-opacity="0.7" stroke="#866f58" stroke-width="0.55"/>
<circle cx="338.95" cy="294.78" r="0.92" fill="#fff" fill-opacity="0.7" stroke="#866f58" stroke-width="0.55"/>
<circle cx="336.05" cy="295.88" r="0.92" fill="#fff" fill-opacity="0.7" stroke="#866f58" stroke-width="0.55"/>
<circle cx="339.85" cy="297.35" r="0.92" fill="#fff" fill-opacity="0.7" stroke="#866f58" stroke-width="0.55"/>
<circle cx="338.25" cy="299.18" r="0.92" fill="#fff" fill-opacity="0.7" stroke="#866f58" stroke-width="0.55"/>
<line x1="318.5" y1="254.1" x2="338.5" y2="254.1" stroke="#111" stroke-width="0.95"/>
<text transform="translate(328.5 255.13)" font-size="6.5" text-anchor="middle" fill="#111" stroke="#111" stroke-width="0.22">****</text>
<line x1="318.5" y1="259.8" x2="327.9" y2="259.8" stroke="#111" stroke-width="0.95"/>
<text transform="translate(323.2 260.93)" font-size="6.5" text-anchor="middle" fill="#111" stroke="#111" stroke-width="0.22">****</text>
<text transform="translate(328.2 283.03)" font-size="6.5" text-anchor="middle" fill="#111" stroke="#111" stroke-width="0.22">****</text>
<text transform="translate(338.5 288.33)" font-size="6.5" text-anchor="middle" fill="#111" stroke="#111" stroke-width="0.22">****</text>
</g>
<g>
<text transform="translate(379.3 239.1)" font-size="8.8" text-anchor="start" font-weight="bold" fill="#000" stroke="#000" stroke-width="0.55">o</text>
<text transform="translate(445.4 239.2) scale(1 1)" font-size="5.9" text-anchor="middle" fill="#333" stroke="#333" stroke-width="0.17">Chronic treatment</text>
<line x1="411.5" y1="244.2" x2="411.5" y2="310" stroke="#222222" stroke-width="0.85"/>
<line x1="409.3" y1="310" x2="411.5" y2="310" stroke="#222222" stroke-width="0.85"/>
<text transform="translate(408 312) scale(1 1)" font-size="5.65" text-anchor="end" fill="#161616" stroke="#161616" stroke-width="0.17">0</text>
<line x1="409.3" y1="300.6" x2="411.5" y2="300.6" stroke="#222222" stroke-width="0.85"/>
<text transform="translate(408 302.6) scale(1 1)" font-size="5.65" text-anchor="end" fill="#161616" stroke="#161616" stroke-width="0.17">5</text>
<line x1="409.3" y1="291.2" x2="411.5" y2="291.2" stroke="#222222" stroke-width="0.85"/>
<text transform="translate(408 293.2) scale(1 1)" font-size="5.65" text-anchor="end" fill="#161616" stroke="#161616" stroke-width="0.17">10</text>
<line x1="409.3" y1="281.8" x2="411.5" y2="281.8" stroke="#222222" stroke-width="0.85"/>
<text transform="translate(408 283.8) scale(1 1)" font-size="5.65" text-anchor="end" fill="#161616" stroke="#161616" stroke-width="0.17">15</text>
<line x1="409.3" y1="272.4" x2="411.5" y2="272.4" stroke="#222222" stroke-width="0.85"/>
<text transform="translate(408 274.4) scale(1 1)" font-size="5.65" text-anchor="end" fill="#161616" stroke="#161616" stroke-width="0.17">20</text>
<line x1="409.3" y1="263" x2="411.5" y2="263" stroke="#222222" stroke-width="0.85"/>
<text transform="translate(408 265) scale(1 1)" font-size="5.65" text-anchor="end" fill="#161616" stroke="#161616" stroke-width="0.17">25</text>
<line x1="409.3" y1="253.6" x2="411.5" y2="253.6" stroke="#222222" stroke-width="0.85"/>
<text transform="translate(408 255.6) scale(1 1)" font-size="5.65" text-anchor="end" fill="#161616" stroke="#161616" stroke-width="0.17">30</text>
<line x1="409.3" y1="244.2" x2="411.5" y2="244.2" stroke="#222222" stroke-width="0.85"/>
<text transform="translate(408 246.2) scale(1 1)" font-size="5.65" text-anchor="end" fill="#161616" stroke="#161616" stroke-width="0.17">35</text>
<line x1="411.5" y1="310" x2="429.6" y2="310" stroke="#222222" stroke-width="0.85"/>
<line x1="435.7" y1="310" x2="479.2" y2="310" stroke="#222222" stroke-width="0.85"/>
<line x1="411.9" y1="310" x2="411.9" y2="312.2" stroke="#222222" stroke-width="0.85"/>
<text transform="translate(411.9 318.3) scale(1 1)" font-size="5.65" text-anchor="middle" fill="#161616" stroke="#161616" stroke-width="0.17">0</text>
<line x1="423.8" y1="310" x2="423.8" y2="312.2" stroke="#222222" stroke-width="0.85"/>
<text transform="translate(423.8 318.3) scale(1 1)" font-size="5.65" text-anchor="middle" fill="#161616" stroke="#161616" stroke-width="0.17">1</text>
<line x1="435.7" y1="310" x2="435.7" y2="312.2" stroke="#222222" stroke-width="0.85"/>
<text transform="translate(435.7 318.3) scale(1 1)" font-size="5.65" text-anchor="middle" fill="#161616" stroke="#161616" stroke-width="0.17">4</text>
<line x1="447.62" y1="310" x2="447.62" y2="312.2" stroke="#222222" stroke-width="0.85"/>
<text transform="translate(447.62 318.3) scale(1 1)" font-size="5.65" text-anchor="middle" fill="#161616" stroke="#161616" stroke-width="0.17">8</text>
<line x1="459.54" y1="310" x2="459.54" y2="312.2" stroke="#222222" stroke-width="0.85"/>
<text transform="translate(459.54 318.3) scale(1 1)" font-size="5.65" text-anchor="middle" fill="#161616" stroke="#161616" stroke-width="0.17">12</text>
<line x1="471.46" y1="310" x2="471.46" y2="312.2" stroke="#222222" stroke-width="0.85"/>
<text transform="translate(471.46 318.3) scale(1 1)" font-size="5.65" text-anchor="middle" fill="#161616" stroke="#161616" stroke-width="0.17">16</text>
<line x1="428.8" y1="311.8" x2="430.8" y2="308.2" stroke="#222222" stroke-width="0.6"/>
<line x1="434.6" y1="311.8" x2="436.6" y2="308.2" stroke="#222222" stroke-width="0.6"/>
<text transform="translate(446.3 328) scale(1 1)" font-size="5.65" text-anchor="middle" fill="#161616" stroke="#161616" stroke-width="0.17">Time (days)</text>
<text transform="translate(396 277.8) rotate(-90) scale(1 1)" font-size="5.65" text-anchor="middle" fill="#161616" stroke="#161616" stroke-width="0.17">Blood glucose (mmol l<tspan dy="-2" font-size="3.6">&#8722;1</tspan><tspan dy="2">)</tspan></text>
<path d="M411.9 272.59 L423.8 293.27" fill="none" stroke="#333" stroke-width="0.65"/>
<line x1="411.9" y1="270.33" x2="411.9" y2="274.84" stroke="#222222" stroke-width="0.65"/>
<line x1="410.4" y1="270.33" x2="413.4" y2="270.33" stroke="#222222" stroke-width="0.65"/>
<line x1="410.4" y1="274.84" x2="413.4" y2="274.84" stroke="#222222" stroke-width="0.65"/>
<line x1="423.8" y1="291.76" x2="423.8" y2="294.77" stroke="#222222" stroke-width="0.65"/>
<line x1="422.3" y1="291.76" x2="425.3" y2="291.76" stroke="#222222" stroke-width="0.65"/>
<line x1="422.3" y1="294.77" x2="425.3" y2="294.77" stroke="#222222" stroke-width="0.65"/>
<circle cx="411.9" cy="272.59" r="1.75" fill="#fbf1e6" stroke="#896742" stroke-width="0.88"/>
<circle cx="423.8" cy="293.27" r="1.75" fill="#fbf1e6" stroke="#896742" stroke-width="0.88"/>
<line x1="423.8" y1="293.27" x2="430.6" y2="288.97" stroke="#333" stroke-width="0.65"/>
<line x1="435.7" y1="285.75" x2="447.62" y2="278.23" stroke="#333" stroke-width="0.65"/>
<path d="M447.62 278.23 L456.56 281.05 L465.5 273.15 L478.31 271.65" fill="none" stroke="#333" stroke-width="0.65"/>
<line x1="447.62" y1="275.22" x2="447.62" y2="281.24" stroke="#222222" stroke-width="0.65"/>
<line x1="446.12" y1="275.22" x2="449.12" y2="275.22" stroke="#222222" stroke-width="0.65"/>
<line x1="446.12" y1="281.24" x2="449.12" y2="281.24" stroke="#222222" stroke-width="0.65"/>
<line x1="456.56" y1="278.79" x2="456.56" y2="283.3" stroke="#222222" stroke-width="0.65"/>
<line x1="455.06" y1="278.79" x2="458.06" y2="278.79" stroke="#222222" stroke-width="0.65"/>
<line x1="455.06" y1="283.3" x2="458.06" y2="283.3" stroke="#222222" stroke-width="0.65"/>
<line x1="465.5" y1="270.14" x2="465.5" y2="276.16" stroke="#222222" stroke-width="0.65"/>
<line x1="464" y1="270.14" x2="467" y2="270.14" stroke="#222222" stroke-width="0.65"/>
<line x1="464" y1="276.16" x2="467" y2="276.16" stroke="#222222" stroke-width="0.65"/>
<line x1="478.31" y1="269.77" x2="478.31" y2="273.53" stroke="#222222" stroke-width="0.65"/>
<line x1="476.81" y1="269.77" x2="479.81" y2="269.77" stroke="#222222" stroke-width="0.65"/>
<line x1="476.81" y1="273.53" x2="479.81" y2="273.53" stroke="#222222" stroke-width="0.65"/>
<circle cx="447.62" cy="278.23" r="1.75" fill="#fbf1e6" stroke="#896742" stroke-width="0.88"/>
<circle cx="456.56" cy="281.05" r="1.75" fill="#fbf1e6" stroke="#896742" stroke-width="0.88"/>
<circle cx="465.5" cy="273.15" r="1.75" fill="#fbf1e6" stroke="#896742" stroke-width="0.88"/>
<circle cx="478.31" cy="271.65" r="1.75" fill="#fbf1e6" stroke="#896742" stroke-width="0.88"/>
<circle cx="423.8" cy="293.27" r="1.75" fill="#fbf1e6" stroke="#896742" stroke-width="0.88"/>
<path d="M411.9 269.96 L423.8 296.28" fill="none" stroke="#333" stroke-width="0.65"/>
<line x1="411.9" y1="267.7" x2="411.9" y2="272.21" stroke="#222222" stroke-width="0.65"/>
<line x1="410.4" y1="267.7" x2="413.4" y2="267.7" stroke="#222222" stroke-width="0.65"/>
<line x1="410.4" y1="272.21" x2="413.4" y2="272.21" stroke="#222222" stroke-width="0.65"/>
<line x1="423.8" y1="294.77" x2="423.8" y2="297.78" stroke="#222222" stroke-width="0.65"/>
<line x1="422.3" y1="294.77" x2="425.3" y2="294.77" stroke="#222222" stroke-width="0.65"/>
<line x1="422.3" y1="297.78" x2="425.3" y2="297.78" stroke="#222222" stroke-width="0.65"/>
<circle cx="411.9" cy="269.96" r="1.75" fill="#edf5f6" stroke="#46646b" stroke-width="0.88"/>
<circle cx="423.8" cy="296.28" r="1.75" fill="#edf5f6" stroke="#46646b" stroke-width="0.88"/>
<line x1="423.8" y1="296.28" x2="430.6" y2="292.25" stroke="#333" stroke-width="0.65"/>
<line x1="435.7" y1="289.23" x2="447.62" y2="282.18" stroke="#333" stroke-width="0.65"/>
<path d="M447.62 282.18 L456.56 274.09 L465.5 272.59 L478.31 277.29" fill="none" stroke="#333" stroke-width="0.65"/>
<line x1="447.62" y1="278.42" x2="447.62" y2="285.94" stroke="#222222" stroke-width="0.65"/>
<line x1="446.12" y1="278.42" x2="449.12" y2="278.42" stroke="#222222" stroke-width="0.65"/>
<line x1="446.12" y1="285.94" x2="449.12" y2="285.94" stroke="#222222" stroke-width="0.65"/>
<line x1="456.56" y1="271.08" x2="456.56" y2="277.1" stroke="#222222" stroke-width="0.65"/>
<line x1="455.06" y1="271.08" x2="458.06" y2="271.08" stroke="#222222" stroke-width="0.65"/>
<line x1="455.06" y1="277.1" x2="458.06" y2="277.1" stroke="#222222" stroke-width="0.65"/>
<line x1="465.5" y1="269.96" x2="465.5" y2="275.22" stroke="#222222" stroke-width="0.65"/>
<line x1="464" y1="269.96" x2="467" y2="269.96" stroke="#222222" stroke-width="0.65"/>
<line x1="464" y1="275.22" x2="467" y2="275.22" stroke="#222222" stroke-width="0.65"/>
<line x1="478.31" y1="274.28" x2="478.31" y2="280.3" stroke="#222222" stroke-width="0.65"/>
<line x1="476.81" y1="274.28" x2="479.81" y2="274.28" stroke="#222222" stroke-width="0.65"/>
<line x1="476.81" y1="280.3" x2="479.81" y2="280.3" stroke="#222222" stroke-width="0.65"/>
<circle cx="447.62" cy="282.18" r="1.75" fill="#edf5f6" stroke="#46646b" stroke-width="0.88"/>
<circle cx="456.56" cy="274.09" r="1.75" fill="#edf5f6" stroke="#46646b" stroke-width="0.88"/>
<circle cx="465.5" cy="272.59" r="1.75" fill="#edf5f6" stroke="#46646b" stroke-width="0.88"/>
<circle cx="478.31" cy="277.29" r="1.75" fill="#edf5f6" stroke="#46646b" stroke-width="0.88"/>
<circle cx="423.8" cy="296.28" r="1.75" fill="#edf5f6" stroke="#46646b" stroke-width="0.88"/>
<path d="M411.9 263.19 L423.8 272.59" fill="none" stroke="#333" stroke-width="0.65"/>
<line x1="411.9" y1="261.31" x2="411.9" y2="265.07" stroke="#222222" stroke-width="0.65"/>
<line x1="410.4" y1="261.31" x2="413.4" y2="261.31" stroke="#222222" stroke-width="0.65"/>
<line x1="410.4" y1="265.07" x2="413.4" y2="265.07" stroke="#222222" stroke-width="0.65"/>
<line x1="423.8" y1="270.71" x2="423.8" y2="274.47" stroke="#222222" stroke-width="0.65"/>
<line x1="422.3" y1="270.71" x2="425.3" y2="270.71" stroke="#222222" stroke-width="0.65"/>
<line x1="422.3" y1="274.47" x2="425.3" y2="274.47" stroke="#222222" stroke-width="0.65"/>
<circle cx="411.9" cy="263.19" r="1.75" fill="#d3dae2" stroke="#434d59" stroke-width="0.88"/>
<circle cx="423.8" cy="272.59" r="1.75" fill="#d3dae2" stroke="#434d59" stroke-width="0.88"/>
<line x1="423.8" y1="272.59" x2="430.6" y2="270.44" stroke="#333" stroke-width="0.65"/>
<line x1="435.7" y1="268.83" x2="447.62" y2="265.07" stroke="#333" stroke-width="0.65"/>
<path d="M447.62 265.07 L456.56 262.06 L465.5 263.19 L478.31 257.17" fill="none" stroke="#333" stroke-width="0.65"/>
<line x1="447.62" y1="262.44" x2="447.62" y2="267.7" stroke="#222222" stroke-width="0.65"/>
<line x1="446.12" y1="262.44" x2="449.12" y2="262.44" stroke="#222222" stroke-width="0.65"/>
<line x1="446.12" y1="267.7" x2="449.12" y2="267.7" stroke="#222222" stroke-width="0.65"/>
<line x1="456.56" y1="259.05" x2="456.56" y2="265.07" stroke="#222222" stroke-width="0.65"/>
<line x1="455.06" y1="259.05" x2="458.06" y2="259.05" stroke="#222222" stroke-width="0.65"/>
<line x1="455.06" y1="265.07" x2="458.06" y2="265.07" stroke="#222222" stroke-width="0.65"/>
<line x1="465.5" y1="261.31" x2="465.5" y2="265.07" stroke="#222222" stroke-width="0.65"/>
<line x1="464" y1="261.31" x2="467" y2="261.31" stroke="#222222" stroke-width="0.65"/>
<line x1="464" y1="265.07" x2="467" y2="265.07" stroke="#222222" stroke-width="0.65"/>
<line x1="478.31" y1="254.92" x2="478.31" y2="259.43" stroke="#222222" stroke-width="0.65"/>
<line x1="476.81" y1="254.92" x2="479.81" y2="254.92" stroke="#222222" stroke-width="0.65"/>
<line x1="476.81" y1="259.43" x2="479.81" y2="259.43" stroke="#222222" stroke-width="0.65"/>
<circle cx="447.62" cy="265.07" r="1.75" fill="#d3dae2" stroke="#434d59" stroke-width="0.88"/>
<circle cx="456.56" cy="262.06" r="1.75" fill="#d3dae2" stroke="#434d59" stroke-width="0.88"/>
<circle cx="465.5" cy="263.19" r="1.75" fill="#d3dae2" stroke="#434d59" stroke-width="0.88"/>
<circle cx="478.31" cy="257.17" r="1.75" fill="#d3dae2" stroke="#434d59" stroke-width="0.88"/>
<circle cx="423.8" cy="272.59" r="1.75" fill="#d3dae2" stroke="#434d59" stroke-width="0.88"/>
<path d="M411.9 267.14 L423.8 266.57" fill="none" stroke="#333" stroke-width="0.65"/>
<line x1="411.9" y1="265.26" x2="411.9" y2="269.02" stroke="#222222" stroke-width="0.65"/>
<line x1="410.4" y1="265.26" x2="413.4" y2="265.26" stroke="#222222" stroke-width="0.65"/>
<line x1="410.4" y1="269.02" x2="413.4" y2="269.02" stroke="#222222" stroke-width="0.65"/>
<line x1="423.8" y1="263.56" x2="423.8" y2="269.58" stroke="#222222" stroke-width="0.65"/>
<line x1="422.3" y1="263.56" x2="425.3" y2="263.56" stroke="#222222" stroke-width="0.65"/>
<line x1="422.3" y1="269.58" x2="425.3" y2="269.58" stroke="#222222" stroke-width="0.65"/>
<circle cx="411.9" cy="267.14" r="1.75" fill="#fff" stroke="#505050" stroke-width="0.88"/>
<circle cx="423.8" cy="266.57" r="1.75" fill="#fff" stroke="#505050" stroke-width="0.88"/>
<line x1="423.8" y1="266.57" x2="430.6" y2="263.83" stroke="#333" stroke-width="0.65"/>
<line x1="435.7" y1="261.78" x2="447.62" y2="256.98" stroke="#333" stroke-width="0.65"/>
<path d="M447.62 256.98 L456.56 263.19 L465.5 263.56 L478.31 256.61" fill="none" stroke="#333" stroke-width="0.65"/>
<line x1="447.62" y1="255.1" x2="447.62" y2="258.86" stroke="#222222" stroke-width="0.65"/>
<line x1="446.12" y1="255.1" x2="449.12" y2="255.1" stroke="#222222" stroke-width="0.65"/>
<line x1="446.12" y1="258.86" x2="449.12" y2="258.86" stroke="#222222" stroke-width="0.65"/>
<line x1="456.56" y1="259.43" x2="456.56" y2="266.95" stroke="#222222" stroke-width="0.65"/>
<line x1="455.06" y1="259.43" x2="458.06" y2="259.43" stroke="#222222" stroke-width="0.65"/>
<line x1="455.06" y1="266.95" x2="458.06" y2="266.95" stroke="#222222" stroke-width="0.65"/>
<line x1="465.5" y1="261.68" x2="465.5" y2="265.44" stroke="#222222" stroke-width="0.65"/>
<line x1="464" y1="261.68" x2="467" y2="261.68" stroke="#222222" stroke-width="0.65"/>
<line x1="464" y1="265.44" x2="467" y2="265.44" stroke="#222222" stroke-width="0.65"/>
<line x1="478.31" y1="253.98" x2="478.31" y2="259.24" stroke="#222222" stroke-width="0.65"/>
<line x1="476.81" y1="253.98" x2="479.81" y2="253.98" stroke="#222222" stroke-width="0.65"/>
<line x1="476.81" y1="259.24" x2="479.81" y2="259.24" stroke="#222222" stroke-width="0.65"/>
<circle cx="447.62" cy="256.98" r="1.75" fill="#fff" stroke="#505050" stroke-width="0.88"/>
<circle cx="456.56" cy="263.19" r="1.75" fill="#fff" stroke="#505050" stroke-width="0.88"/>
<circle cx="465.5" cy="263.56" r="1.75" fill="#fff" stroke="#505050" stroke-width="0.88"/>
<circle cx="478.31" cy="256.61" r="1.75" fill="#fff" stroke="#505050" stroke-width="0.88"/>
<circle cx="423.8" cy="266.57" r="1.75" fill="#fff" stroke="#505050" stroke-width="0.88"/>
</g>
<g>
<text transform="translate(506.8 239.1)" font-size="8.8" text-anchor="start" font-weight="bold" fill="#000" stroke="#000" stroke-width="0.55">p</text>
<line x1="539.5" y1="243.9" x2="539.5" y2="310.2" stroke="#222222" stroke-width="0.85"/>
<line x1="537.3" y1="310.2" x2="539.5" y2="310.2" stroke="#222222" stroke-width="0.85"/>
<text transform="translate(536 312.2) scale(1 1)" font-size="5.65" text-anchor="end" fill="#161616" stroke="#161616" stroke-width="0.17">0</text>
<line x1="537.3" y1="295.51" x2="539.5" y2="295.51" stroke="#222222" stroke-width="0.85"/>
<text transform="translate(536 297.51) scale(1 1)" font-size="5.65" text-anchor="end" fill="#161616" stroke="#161616" stroke-width="0.17">200</text>
<line x1="537.3" y1="280.82" x2="539.5" y2="280.82" stroke="#222222" stroke-width="0.85"/>
<text transform="translate(536 282.82) scale(1 1)" font-size="5.65" text-anchor="end" fill="#161616" stroke="#161616" stroke-width="0.17">400</text>
<line x1="537.3" y1="266.13" x2="539.5" y2="266.13" stroke="#222222" stroke-width="0.85"/>
<text transform="translate(536 268.13) scale(1 1)" font-size="5.65" text-anchor="end" fill="#161616" stroke="#161616" stroke-width="0.17">600</text>
<line x1="537.3" y1="251.44" x2="539.5" y2="251.44" stroke="#222222" stroke-width="0.85"/>
<text transform="translate(536 253.44) scale(1 1)" font-size="5.65" text-anchor="end" fill="#161616" stroke="#161616" stroke-width="0.17">800</text>
<line x1="539.5" y1="310.2" x2="584.2" y2="310.2" stroke="#222222" stroke-width="0.85"/>
<text transform="translate(520.6 280.4) rotate(-90) scale(1 1)" font-size="5.65" text-anchor="middle" fill="#161616" stroke="#161616" stroke-width="0.17">AUC</text>
<rect x="543.2" y="277.88" width="7" height="32.32" fill="#dcdcdc" stroke="#474747" stroke-width="0.55"/>
<line x1="546.7" y1="276.56" x2="546.7" y2="279.2" stroke="#333" stroke-width="0.45"/>
<line x1="545.2" y1="276.56" x2="548.2" y2="276.56" stroke="#333" stroke-width="0.45"/>
<line x1="545.2" y1="279.2" x2="548.2" y2="279.2" stroke="#333" stroke-width="0.45"/>
<circle cx="546.7" cy="269.07" r="0.92" fill="#fff" fill-opacity="0.7" stroke="#6a6a6a" stroke-width="0.55"/>
<circle cx="545.1" cy="274.21" r="0.92" fill="#fff" fill-opacity="0.7" stroke="#6a6a6a" stroke-width="0.55"/>
<circle cx="548.2" cy="275.68" r="0.92" fill="#fff" fill-opacity="0.7" stroke="#6a6a6a" stroke-width="0.55"/>
<circle cx="545.9" cy="276.78" r="0.92" fill="#fff" fill-opacity="0.7" stroke="#6a6a6a" stroke-width="0.55"/>
<circle cx="547.7" cy="277.88" r="0.92" fill="#fff" fill-opacity="0.7" stroke="#6a6a6a" stroke-width="0.55"/>
<circle cx="544.8" cy="278.98" r="0.92" fill="#fff" fill-opacity="0.7" stroke="#6a6a6a" stroke-width="0.55"/>
<circle cx="548.6" cy="280.45" r="0.92" fill="#fff" fill-opacity="0.7" stroke="#6a6a6a" stroke-width="0.55"/>
<circle cx="547" cy="282.29" r="0.92" fill="#fff" fill-opacity="0.7" stroke="#6a6a6a" stroke-width="0.55"/>
<rect x="553.6" y="280.23" width="7" height="29.97" fill="#a9bdd0" stroke="#474747" stroke-width="0.55"/>
<line x1="557.1" y1="278.91" x2="557.1" y2="281.55" stroke="#333" stroke-width="0.45"/>
<line x1="555.6" y1="278.91" x2="558.6" y2="278.91" stroke="#333" stroke-width="0.45"/>
<line x1="555.6" y1="281.55" x2="558.6" y2="281.55" stroke="#333" stroke-width="0.45"/>
<circle cx="557.1" cy="271.27" r="0.92" fill="#fff" fill-opacity="0.7" stroke="#5b6570" stroke-width="0.55"/>
<circle cx="555.5" cy="275.68" r="0.92" fill="#fff" fill-opacity="0.7" stroke="#5b6570" stroke-width="0.55"/>
<circle cx="558.6" cy="277.88" r="0.92" fill="#fff" fill-opacity="0.7" stroke="#5b6570" stroke-width="0.55"/>
<circle cx="556.3" cy="278.98" r="0.92" fill="#fff" fill-opacity="0.7" stroke="#5b6570" stroke-width="0.55"/>
<circle cx="558.1" cy="280.09" r="0.92" fill="#fff" fill-opacity="0.7" stroke="#5b6570" stroke-width="0.55"/>
<circle cx="555.2" cy="281.19" r="0.92" fill="#fff" fill-opacity="0.7" stroke="#5b6570" stroke-width="0.55"/>
<circle cx="559" cy="282.66" r="0.92" fill="#fff" fill-opacity="0.7" stroke="#5b6570" stroke-width="0.55"/>
<circle cx="557.4" cy="283.76" r="0.92" fill="#fff" fill-opacity="0.7" stroke="#5b6570" stroke-width="0.55"/>
<rect x="563.8" y="289.78" width="7.1" height="20.42" fill="#b1d9e0" stroke="#474747" stroke-width="0.55"/>
<line x1="567.35" y1="288.61" x2="567.35" y2="290.96" stroke="#333" stroke-width="0.45"/>
<line x1="565.85" y1="288.61" x2="568.85" y2="288.61" stroke="#333" stroke-width="0.45"/>
<line x1="565.85" y1="290.96" x2="568.85" y2="290.96" stroke="#333" stroke-width="0.45"/>
<circle cx="567.35" cy="284.49" r="0.92" fill="#fff" fill-opacity="0.7" stroke="#5b757b" stroke-width="0.55"/>
<circle cx="565.75" cy="286.7" r="0.92" fill="#fff" fill-opacity="0.7" stroke="#5b757b" stroke-width="0.55"/>
<circle cx="568.85" cy="288.16" r="0.92" fill="#fff" fill-opacity="0.7" stroke="#5b757b" stroke-width="0.55"/>
<circle cx="566.55" cy="289.27" r="0.92" fill="#fff" fill-opacity="0.7" stroke="#5b757b" stroke-width="0.55"/>
<circle cx="568.35" cy="290.37" r="0.92" fill="#fff" fill-opacity="0.7" stroke="#5b757b" stroke-width="0.55"/>
<circle cx="565.45" cy="291.84" r="0.92" fill="#fff" fill-opacity="0.7" stroke="#5b757b" stroke-width="0.55"/>
<circle cx="569.25" cy="293.31" r="0.92" fill="#fff" fill-opacity="0.7" stroke="#5b757b" stroke-width="0.55"/>
<circle cx="567.65" cy="296.98" r="0.92" fill="#fff" fill-opacity="0.7" stroke="#5b757b" stroke-width="0.55"/>
<rect x="574.1" y="288.02" width="7" height="22.18" fill="#f1bb8d" stroke="#474747" stroke-width="0.55"/>
<line x1="577.6" y1="286.99" x2="577.6" y2="289.05" stroke="#333" stroke-width="0.45"/>
<line x1="576.1" y1="286.99" x2="579.1" y2="286.99" stroke="#333" stroke-width="0.45"/>
<line x1="576.1" y1="289.05" x2="579.1" y2="289.05" stroke="#333" stroke-width="0.45"/>
<circle cx="577.6" cy="284.86" r="0.92" fill="#fff" fill-opacity="0.7" stroke="#866f58" stroke-width="0.55"/>
<circle cx="576" cy="285.96" r="0.92" fill="#fff" fill-opacity="0.7" stroke="#866f58" stroke-width="0.55"/>
<circle cx="579.1" cy="287.06" r="0.92" fill="#fff" fill-opacity="0.7" stroke="#866f58" stroke-width="0.55"/>
<circle cx="576.8" cy="288.16" r="0.92" fill="#fff" fill-opacity="0.7" stroke="#866f58" stroke-width="0.55"/>
<circle cx="578.6" cy="288.9" r="0.92" fill="#fff" fill-opacity="0.7" stroke="#866f58" stroke-width="0.55"/>
<circle cx="575.7" cy="290.37" r="0.92" fill="#fff" fill-opacity="0.7" stroke="#866f58" stroke-width="0.55"/>
<circle cx="579.5" cy="292.57" r="0.92" fill="#fff" fill-opacity="0.7" stroke="#866f58" stroke-width="0.55"/>
<circle cx="577.9" cy="294.78" r="0.92" fill="#fff" fill-opacity="0.7" stroke="#866f58" stroke-width="0.55"/>
<line x1="557.3" y1="260.3" x2="577.9" y2="260.3" stroke="#111" stroke-width="0.95"/>
<text transform="translate(566.1 261.03)" font-size="6.5" text-anchor="middle" fill="#111" stroke="#111" stroke-width="0.22">****</text>
<line x1="557.3" y1="266.5" x2="566.8" y2="266.5" stroke="#111" stroke-width="0.95"/>
<text transform="translate(562.05 267.23)" font-size="6.5" text-anchor="middle" fill="#111" stroke="#111" stroke-width="0.22">****</text>
<text transform="translate(566.5 281.23)" font-size="6.5" text-anchor="middle" fill="#111" stroke="#111" stroke-width="0.22">****</text>
<text transform="translate(577.1 284.83)" font-size="6.5" text-anchor="middle" fill="#111" stroke="#111" stroke-width="0.22">****</text>
</g>
<g>
<text transform="translate(0.2 348.5)" font-size="8.8" text-anchor="start" font-weight="bold" fill="#000" stroke="#000" stroke-width="0.55">q</text>
<g transform="translate(10.4 360.6) scale(0.98)">
<path d="M17.2 10.6 C16.6 5 20.5 0.8 27 0.6 C31.5 0.5 34.6 2.2 36 3.6 C36.2 2.8 37.2 2.5 37.7 3.1 C38.1 3.7 37.9 4.4 37.6 4.8 C39.4 6.4 41.2 8.6 41.6 10 C41.6 11 40.6 11.6 39 11.6 L35 11.8 C34 12.4 32 12.6 30 12.4 L20 12.2 C18.4 12 17.4 11.6 17.2 10.6 Z" fill="#b0d6db"/>
<path d="M17.6 10.6 C12 10 6 10.2 3.6 11 C1.6 11.8 0.8 13.4 0.6 14.6" fill="none" stroke="#b0d6db" stroke-width="0.95" stroke-linecap="round"/>
</g>
<g transform="translate(70.8 348.8) scale(0.98)">
<path d="M17.2 10.6 C16.6 5 20.5 0.8 27 0.6 C31.5 0.5 34.6 2.2 36 3.6 C36.2 2.8 37.2 2.5 37.7 3.1 C38.1 3.7 37.9 4.4 37.6 4.8 C39.4 6.4 41.2 8.6 41.6 10 C41.6 11 40.6 11.6 39 11.6 L35 11.8 C34 12.4 32 12.6 30 12.4 L20 12.2 C18.4 12 17.4 11.6 17.2 10.6 Z" fill="#b5c8e8"/>
<path d="M17.6 10.6 C12 10 6 10.2 3.6 11 C1.6 11.8 0.8 13.4 0.6 14.6" fill="none" stroke="#b5c8e8" stroke-width="0.95" stroke-linecap="round"/>
</g>
<g transform="translate(10.4 400.6) scale(0.98)">
<path d="M17.2 10.6 C16.6 5 20.5 0.8 27 0.6 C31.5 0.5 34.6 2.2 36 3.6 C36.2 2.8 37.2 2.5 37.7 3.1 C38.1 3.7 37.9 4.4 37.6 4.8 C39.4 6.4 41.2 8.6 41.6 10 C41.6 11 40.6 11.6 39 11.6 L35 11.8 C34 12.4 32 12.6 30 12.4 L20 12.2 C18.4 12 17.4 11.6 17.2 10.6 Z" fill="#d9d9d9"/>
<path d="M17.6 10.6 C12 10 6 10.2 3.6 11 C1.6 11.8 0.8 13.4 0.6 14.6" fill="none" stroke="#d9d9d9" stroke-width="0.95" stroke-linecap="round"/>
</g>
<g transform="translate(71.2 400.4) scale(0.98)">
<path d="M17.2 10.6 C16.6 5 20.5 0.8 27 0.6 C31.5 0.5 34.6 2.2 36 3.6 C36.2 2.8 37.2 2.5 37.7 3.1 C38.1 3.7 37.9 4.4 37.6 4.8 C39.4 6.4 41.2 8.6 41.6 10 C41.6 11 40.6 11.6 39 11.6 L35 11.8 C34 12.4 32 12.6 30 12.4 L20 12.2 C18.4 12 17.4 11.6 17.2 10.6 Z" fill="#7a97ce"/>
<path d="M17.6 10.6 C12 10 6 10.2 3.6 11 C1.6 11.8 0.8 13.4 0.6 14.6" fill="none" stroke="#7a97ce" stroke-width="0.95" stroke-linecap="round"/>
</g>
<rect x="10.1" y="374.5" width="42.3" height="12.5" fill="#b1d9e0"/>
<text transform="translate(31.25 382.45) scale(1 1)" font-size="6.05" text-anchor="middle" fill="#1c1c1c" stroke="#1c1c1c" stroke-width="0.07">Semaglutide</text>
<rect x="67.2" y="362.9" width="52.3" height="14.7" fill="#bdcde9"/>
<text transform="translate(94.9 369.4) scale(1 1)" font-size="6" text-anchor="middle" fill="#161616" stroke="#161616" stroke-width="0.17">Semaglutide +</text>
<text transform="translate(94.9 375.9) scale(1 1)" font-size="6" text-anchor="middle" fill="#161616" stroke="#161616" stroke-width="0.17">GLP-1</text>
<rect x="67.2" y="382.8" width="52.3" height="15.2" fill="#92a8d6"/>
<text transform="translate(94.9 389.6) scale(1 1)" font-size="6" text-anchor="middle" fill="#161616" stroke="#161616" stroke-width="0.17">Semaglutide +</text>
<text transform="translate(94.9 396.1) scale(1 1)" font-size="6" text-anchor="middle" fill="#161616" stroke="#161616" stroke-width="0.17">GLP-1&#8211;MK-801</text>
<rect x="10.1" y="416.4" width="109.4" height="12.3" fill="#dcdcdc"/>
<text transform="translate(64.8 424.25) scale(1 1)" font-size="6.05" text-anchor="middle" fill="#1c1c1c" stroke="#1c1c1c" stroke-width="0.07">Vehicle</text>
<path d="M52.4 380.75 L59.8 380.75 M59.8 370.3 L59.8 390.8 M59.8 370.3 L67.2 370.3 M59.8 390.8 L67.2 390.8" fill="none" stroke="#3a3a3a" stroke-width="0.8"/>
</g>
<g>
<text transform="translate(145.4 348.5)" font-size="8.8" text-anchor="start" font-weight="bold" fill="#000" stroke="#000" stroke-width="0.55">r</text>
<rect x="234.83" y="356.5" width="33.84" height="67.2" fill="#f1f1f1"/>
<line x1="167.75" y1="356.5" x2="167.75" y2="423.7" stroke="#222222" stroke-width="0.85"/>
<line x1="165.55" y1="365.2" x2="167.75" y2="365.2" stroke="#222222" stroke-width="0.85"/>
<text transform="translate(164.25 367.2) scale(1 1)" font-size="5.65" text-anchor="end" fill="#161616" stroke="#161616" stroke-width="0.17">0</text>
<line x1="165.55" y1="383.25" x2="167.75" y2="383.25" stroke="#222222" stroke-width="0.85"/>
<text transform="translate(164.25 385.25) scale(1 1)" font-size="5.65" text-anchor="end" fill="#161616" stroke="#161616" stroke-width="0.17">&#8722;10</text>
<line x1="165.55" y1="401.3" x2="167.75" y2="401.3" stroke="#222222" stroke-width="0.85"/>
<text transform="translate(164.25 403.3) scale(1 1)" font-size="5.65" text-anchor="end" fill="#161616" stroke="#161616" stroke-width="0.17">&#8722;20</text>
<line x1="165.55" y1="419.35" x2="167.75" y2="419.35" stroke="#222222" stroke-width="0.85"/>
<text transform="translate(164.25 421.35) scale(1 1)" font-size="5.65" text-anchor="end" fill="#161616" stroke="#161616" stroke-width="0.17">&#8722;30</text>
<line x1="167.75" y1="423.7" x2="268.47" y2="423.7" stroke="#222222" stroke-width="0.85"/>
<line x1="167.75" y1="423.7" x2="167.75" y2="425.9" stroke="#222222" stroke-width="0.85"/>
<text transform="translate(167.75 431.3) scale(1 1)" font-size="5.65" text-anchor="middle" fill="#161616" stroke="#161616" stroke-width="0.17">0</text>
<line x1="182.08" y1="423.7" x2="182.08" y2="425.9" stroke="#222222" stroke-width="0.85"/>
<text transform="translate(182.08 431.3) scale(1 1)" font-size="5.65" text-anchor="middle" fill="#161616" stroke="#161616" stroke-width="0.17">3</text>
<line x1="196.41" y1="423.7" x2="196.41" y2="425.9" stroke="#222222" stroke-width="0.85"/>
<text transform="translate(196.41 431.3) scale(1 1)" font-size="5.65" text-anchor="middle" fill="#161616" stroke="#161616" stroke-width="0.17">6</text>
<line x1="210.74" y1="423.7" x2="210.74" y2="425.9" stroke="#222222" stroke-width="0.85"/>
<text transform="translate(210.74 431.3) scale(1 1)" font-size="5.65" text-anchor="middle" fill="#161616" stroke="#161616" stroke-width="0.17">9</text>
<line x1="225.07" y1="423.7" x2="225.07" y2="425.9" stroke="#222222" stroke-width="0.85"/>
<text transform="translate(225.07 431.3) scale(1 1)" font-size="5.65" text-anchor="middle" fill="#161616" stroke="#161616" stroke-width="0.17">12</text>
<line x1="239.41" y1="423.7" x2="239.41" y2="425.9" stroke="#222222" stroke-width="0.85"/>
<text transform="translate(239.41 431.3) scale(1 1)" font-size="5.65" text-anchor="middle" fill="#161616" stroke="#161616" stroke-width="0.17">15</text>
<line x1="253.74" y1="423.7" x2="253.74" y2="425.9" stroke="#222222" stroke-width="0.85"/>
<text transform="translate(253.74 431.3) scale(1 1)" font-size="5.65" text-anchor="middle" fill="#161616" stroke="#161616" stroke-width="0.17">18</text>
<line x1="268.07" y1="423.7" x2="268.07" y2="425.9" stroke="#222222" stroke-width="0.85"/>
<text transform="translate(268.07 431.3) scale(1 1)" font-size="5.65" text-anchor="middle" fill="#161616" stroke="#161616" stroke-width="0.17">21</text>
<text transform="translate(220.1 439.3) scale(1 1)" font-size="5.65" text-anchor="middle" fill="#161616" stroke="#161616" stroke-width="0.17">Time (days)</text>
<text transform="translate(152 393) rotate(-90) scale(1 1)" font-size="5.65" text-anchor="middle" fill="#161616" stroke="#161616" stroke-width="0.17">&#916;Body weight (%)</text>
<path d="M167.75 365.2 L172.53 364.3 L177.3 363.94 L182.08 363.76 L186.86 364.3 L191.63 365.2 L196.41 367 L201.19 367.37 L205.97 366.1 L210.74 365.74 L215.52 365.56 L220.3 364.66 L225.07 365.2 L229.85 363.76 L234.63 364.3 L239.41 363.76 L244.18 364.3 L248.96 363.03 L253.74 363.03 L258.51 363.39 L263.29 363.03 L268.07 362.49" fill="none" stroke="#333" stroke-width="0.65"/>
<line x1="196.41" y1="366.11" x2="196.41" y2="367.9" stroke="#222222" stroke-width="0.65"/>
<line x1="194.91" y1="366.11" x2="197.91" y2="366.11" stroke="#222222" stroke-width="0.65"/>
<line x1="194.91" y1="367.9" x2="197.91" y2="367.9" stroke="#222222" stroke-width="0.65"/>
<line x1="201.19" y1="366.47" x2="201.19" y2="368.27" stroke="#222222" stroke-width="0.65"/>
<line x1="199.69" y1="366.47" x2="202.69" y2="366.47" stroke="#222222" stroke-width="0.65"/>
<line x1="199.69" y1="368.27" x2="202.69" y2="368.27" stroke="#222222" stroke-width="0.65"/>
<line x1="205.97" y1="365.2" x2="205.97" y2="367" stroke="#222222" stroke-width="0.65"/>
<line x1="204.47" y1="365.2" x2="207.47" y2="365.2" stroke="#222222" stroke-width="0.65"/>
<line x1="204.47" y1="367" x2="207.47" y2="367" stroke="#222222" stroke-width="0.65"/>
<line x1="210.74" y1="364.84" x2="210.74" y2="366.64" stroke="#222222" stroke-width="0.65"/>
<line x1="209.24" y1="364.84" x2="212.24" y2="364.84" stroke="#222222" stroke-width="0.65"/>
<line x1="209.24" y1="366.64" x2="212.24" y2="366.64" stroke="#222222" stroke-width="0.65"/>
<line x1="215.52" y1="364.66" x2="215.52" y2="366.46" stroke="#222222" stroke-width="0.65"/>
<line x1="214.02" y1="364.66" x2="217.02" y2="364.66" stroke="#222222" stroke-width="0.65"/>
<line x1="214.02" y1="366.46" x2="217.02" y2="366.46" stroke="#222222" stroke-width="0.65"/>
<line x1="220.3" y1="363.76" x2="220.3" y2="365.56" stroke="#222222" stroke-width="0.65"/>
<line x1="218.8" y1="363.76" x2="221.8" y2="363.76" stroke="#222222" stroke-width="0.65"/>
<line x1="218.8" y1="365.56" x2="221.8" y2="365.56" stroke="#222222" stroke-width="0.65"/>
<line x1="225.07" y1="364.3" x2="225.07" y2="366.1" stroke="#222222" stroke-width="0.65"/>
<line x1="223.57" y1="364.3" x2="226.57" y2="364.3" stroke="#222222" stroke-width="0.65"/>
<line x1="223.57" y1="366.1" x2="226.57" y2="366.1" stroke="#222222" stroke-width="0.65"/>
<line x1="229.85" y1="362.86" x2="229.85" y2="364.66" stroke="#222222" stroke-width="0.65"/>
<line x1="228.35" y1="362.86" x2="231.35" y2="362.86" stroke="#222222" stroke-width="0.65"/>
<line x1="228.35" y1="364.66" x2="231.35" y2="364.66" stroke="#222222" stroke-width="0.65"/>
<line x1="234.63" y1="363.4" x2="234.63" y2="365.2" stroke="#222222" stroke-width="0.65"/>
<line x1="233.13" y1="363.4" x2="236.13" y2="363.4" stroke="#222222" stroke-width="0.65"/>
<line x1="233.13" y1="365.2" x2="236.13" y2="365.2" stroke="#222222" stroke-width="0.65"/>
<line x1="239.41" y1="362.86" x2="239.41" y2="364.66" stroke="#222222" stroke-width="0.65"/>
<line x1="237.91" y1="362.86" x2="240.91" y2="362.86" stroke="#222222" stroke-width="0.65"/>
<line x1="237.91" y1="364.66" x2="240.91" y2="364.66" stroke="#222222" stroke-width="0.65"/>
<line x1="244.18" y1="363.4" x2="244.18" y2="365.2" stroke="#222222" stroke-width="0.65"/>
<line x1="242.68" y1="363.4" x2="245.68" y2="363.4" stroke="#222222" stroke-width="0.65"/>
<line x1="242.68" y1="365.2" x2="245.68" y2="365.2" stroke="#222222" stroke-width="0.65"/>
<line x1="248.96" y1="362.13" x2="248.96" y2="363.93" stroke="#222222" stroke-width="0.65"/>
<line x1="247.46" y1="362.13" x2="250.46" y2="362.13" stroke="#222222" stroke-width="0.65"/>
<line x1="247.46" y1="363.93" x2="250.46" y2="363.93" stroke="#222222" stroke-width="0.65"/>
<line x1="253.74" y1="362.13" x2="253.74" y2="363.93" stroke="#222222" stroke-width="0.65"/>
<line x1="252.24" y1="362.13" x2="255.24" y2="362.13" stroke="#222222" stroke-width="0.65"/>
<line x1="252.24" y1="363.93" x2="255.24" y2="363.93" stroke="#222222" stroke-width="0.65"/>
<line x1="258.51" y1="362.5" x2="258.51" y2="364.29" stroke="#222222" stroke-width="0.65"/>
<line x1="257.01" y1="362.5" x2="260.01" y2="362.5" stroke="#222222" stroke-width="0.65"/>
<line x1="257.01" y1="364.29" x2="260.01" y2="364.29" stroke="#222222" stroke-width="0.65"/>
<line x1="263.29" y1="362.13" x2="263.29" y2="363.93" stroke="#222222" stroke-width="0.65"/>
<line x1="261.79" y1="362.13" x2="264.79" y2="362.13" stroke="#222222" stroke-width="0.65"/>
<line x1="261.79" y1="363.93" x2="264.79" y2="363.93" stroke="#222222" stroke-width="0.65"/>
<line x1="268.07" y1="361.59" x2="268.07" y2="363.39" stroke="#222222" stroke-width="0.65"/>
<line x1="266.57" y1="361.59" x2="269.57" y2="361.59" stroke="#222222" stroke-width="0.65"/>
<line x1="266.57" y1="363.39" x2="269.57" y2="363.39" stroke="#222222" stroke-width="0.65"/>
<circle cx="167.75" cy="365.2" r="1.5" fill="#fff" stroke="#505050" stroke-width="0.88"/>
<circle cx="172.53" cy="364.3" r="1.5" fill="#fff" stroke="#505050" stroke-width="0.88"/>
<circle cx="177.3" cy="363.94" r="1.5" fill="#fff" stroke="#505050" stroke-width="0.88"/>
<circle cx="182.08" cy="363.76" r="1.5" fill="#fff" stroke="#505050" stroke-width="0.88"/>
<circle cx="186.86" cy="364.3" r="1.5" fill="#fff" stroke="#505050" stroke-width="0.88"/>
<circle cx="191.63" cy="365.2" r="1.5" fill="#fff" stroke="#505050" stroke-width="0.88"/>
<circle cx="196.41" cy="367" r="1.5" fill="#fff" stroke="#505050" stroke-width="0.88"/>
<circle cx="201.19" cy="367.37" r="1.5" fill="#fff" stroke="#505050" stroke-width="0.88"/>
<circle cx="205.97" cy="366.1" r="1.5" fill="#fff" stroke="#505050" stroke-width="0.88"/>
<circle cx="210.74" cy="365.74" r="1.5" fill="#fff" stroke="#505050" stroke-width="0.88"/>
<circle cx="215.52" cy="365.56" r="1.5" fill="#fff" stroke="#505050" stroke-width="0.88"/>
<circle cx="220.3" cy="364.66" r="1.5" fill="#fff" stroke="#505050" stroke-width="0.88"/>
<circle cx="225.07" cy="365.2" r="1.5" fill="#fff" stroke="#505050" stroke-width="0.88"/>
<circle cx="229.85" cy="363.76" r="1.5" fill="#fff" stroke="#505050" stroke-width="0.88"/>
<circle cx="234.63" cy="364.3" r="1.5" fill="#fff" stroke="#505050" stroke-width="0.88"/>
<circle cx="239.41" cy="363.76" r="1.5" fill="#fff" stroke="#505050" stroke-width="0.88"/>
<circle cx="244.18" cy="364.3" r="1.5" fill="#fff" stroke="#505050" stroke-width="0.88"/>
<circle cx="248.96" cy="363.03" r="1.5" fill="#fff" stroke="#505050" stroke-width="0.88"/>
<circle cx="253.74" cy="363.03" r="1.5" fill="#fff" stroke="#505050" stroke-width="0.88"/>
<circle cx="258.51" cy="363.39" r="1.5" fill="#fff" stroke="#505050" stroke-width="0.88"/>
<circle cx="263.29" cy="363.03" r="1.5" fill="#fff" stroke="#505050" stroke-width="0.88"/>
<circle cx="268.07" cy="362.49" r="1.5" fill="#fff" stroke="#505050" stroke-width="0.88"/>
<path d="M167.75 365.2 L172.53 376.93 L177.3 380.54 L182.08 382.35 L186.86 385.42 L191.63 388.12 L196.41 390.47 L201.19 392.64 L205.97 394.08 L210.74 395.34 L215.52 396.79 L220.3 398.23 L225.07 399.13 L229.85 400.58 L234.63 402.2" fill="none" stroke="#333" stroke-width="0.65"/>
<circle cx="167.75" cy="365.2" r="1.5" fill="#edf5f6" stroke="#46646b" stroke-width="0.88"/>
<circle cx="172.53" cy="376.93" r="1.5" fill="#edf5f6" stroke="#46646b" stroke-width="0.88"/>
<circle cx="177.3" cy="380.54" r="1.5" fill="#edf5f6" stroke="#46646b" stroke-width="0.88"/>
<circle cx="182.08" cy="382.35" r="1.5" fill="#edf5f6" stroke="#46646b" stroke-width="0.88"/>
<circle cx="186.86" cy="385.42" r="1.5" fill="#edf5f6" stroke="#46646b" stroke-width="0.88"/>
<circle cx="191.63" cy="388.12" r="1.5" fill="#edf5f6" stroke="#46646b" stroke-width="0.88"/>
<circle cx="196.41" cy="390.47" r="1.5" fill="#edf5f6" stroke="#46646b" stroke-width="0.88"/>
<circle cx="201.19" cy="392.64" r="1.5" fill="#edf5f6" stroke="#46646b" stroke-width="0.88"/>
<circle cx="205.97" cy="394.08" r="1.5" fill="#edf5f6" stroke="#46646b" stroke-width="0.88"/>
<circle cx="210.74" cy="395.34" r="1.5" fill="#edf5f6" stroke="#46646b" stroke-width="0.88"/>
<circle cx="215.52" cy="396.79" r="1.5" fill="#edf5f6" stroke="#46646b" stroke-width="0.88"/>
<circle cx="220.3" cy="398.23" r="1.5" fill="#edf5f6" stroke="#46646b" stroke-width="0.88"/>
<circle cx="225.07" cy="399.13" r="1.5" fill="#edf5f6" stroke="#46646b" stroke-width="0.88"/>
<circle cx="229.85" cy="400.58" r="1.5" fill="#edf5f6" stroke="#46646b" stroke-width="0.88"/>
<circle cx="234.63" cy="402.2" r="1.5" fill="#edf5f6" stroke="#46646b" stroke-width="0.88"/>
<path d="M234.63 402.2 L239.41 403.11 L244.18 403.11 L248.96 404.01 L253.74 404.19 L258.51 404.55 L263.29 404.73 L268.07 404.55" fill="none" stroke="#333" stroke-width="0.65"/>
<line x1="239.41" y1="402.11" x2="239.41" y2="404.11" stroke="#222222" stroke-width="0.65"/>
<line x1="237.91" y1="402.11" x2="240.91" y2="402.11" stroke="#222222" stroke-width="0.65"/>
<line x1="237.91" y1="404.11" x2="240.91" y2="404.11" stroke="#222222" stroke-width="0.65"/>
<line x1="244.18" y1="402.11" x2="244.18" y2="404.11" stroke="#222222" stroke-width="0.65"/>
<line x1="242.68" y1="402.11" x2="245.68" y2="402.11" stroke="#222222" stroke-width="0.65"/>
<line x1="242.68" y1="404.11" x2="245.68" y2="404.11" stroke="#222222" stroke-width="0.65"/>
<line x1="248.96" y1="403.01" x2="248.96" y2="405.01" stroke="#222222" stroke-width="0.65"/>
<line x1="247.46" y1="403.01" x2="250.46" y2="403.01" stroke="#222222" stroke-width="0.65"/>
<line x1="247.46" y1="405.01" x2="250.46" y2="405.01" stroke="#222222" stroke-width="0.65"/>
<line x1="253.74" y1="403.19" x2="253.74" y2="405.19" stroke="#222222" stroke-width="0.65"/>
<line x1="252.24" y1="403.19" x2="255.24" y2="403.19" stroke="#222222" stroke-width="0.65"/>
<line x1="252.24" y1="405.19" x2="255.24" y2="405.19" stroke="#222222" stroke-width="0.65"/>
<line x1="258.51" y1="403.55" x2="258.51" y2="405.55" stroke="#222222" stroke-width="0.65"/>
<line x1="257.01" y1="403.55" x2="260.01" y2="403.55" stroke="#222222" stroke-width="0.65"/>
<line x1="257.01" y1="405.55" x2="260.01" y2="405.55" stroke="#222222" stroke-width="0.65"/>
<line x1="263.29" y1="403.73" x2="263.29" y2="405.73" stroke="#222222" stroke-width="0.65"/>
<line x1="261.79" y1="403.73" x2="264.79" y2="403.73" stroke="#222222" stroke-width="0.65"/>
<line x1="261.79" y1="405.73" x2="264.79" y2="405.73" stroke="#222222" stroke-width="0.65"/>
<line x1="268.07" y1="403.55" x2="268.07" y2="405.55" stroke="#222222" stroke-width="0.65"/>
<line x1="266.57" y1="403.55" x2="269.57" y2="403.55" stroke="#222222" stroke-width="0.65"/>
<line x1="266.57" y1="405.55" x2="269.57" y2="405.55" stroke="#222222" stroke-width="0.65"/>
<circle cx="234.63" cy="402.2" r="1.5" fill="#dfe7f5" stroke="#4f6288" stroke-width="0.88"/>
<circle cx="239.41" cy="403.11" r="1.5" fill="#dfe7f5" stroke="#4f6288" stroke-width="0.88"/>
<circle cx="244.18" cy="403.11" r="1.5" fill="#dfe7f5" stroke="#4f6288" stroke-width="0.88"/>
<circle cx="248.96" cy="404.01" r="1.5" fill="#dfe7f5" stroke="#4f6288" stroke-width="0.88"/>
<circle cx="253.74" cy="404.19" r="1.5" fill="#dfe7f5" stroke="#4f6288" stroke-width="0.88"/>
<circle cx="258.51" cy="404.55" r="1.5" fill="#dfe7f5" stroke="#4f6288" stroke-width="0.88"/>
<circle cx="263.29" cy="404.73" r="1.5" fill="#dfe7f5" stroke="#4f6288" stroke-width="0.88"/>
<circle cx="268.07" cy="404.55" r="1.5" fill="#dfe7f5" stroke="#4f6288" stroke-width="0.88"/>
<path d="M239.41 407.62 L244.18 409.96 L248.96 411.23 L253.74 412.67 L258.51 413.94 L263.29 414.84 L268.07 416.28" fill="none" stroke="#333" stroke-width="0.65"/>
<line x1="239.41" y1="406.62" x2="239.41" y2="408.62" stroke="#222222" stroke-width="0.65"/>
<line x1="237.91" y1="406.62" x2="240.91" y2="406.62" stroke="#222222" stroke-width="0.65"/>
<line x1="237.91" y1="408.62" x2="240.91" y2="408.62" stroke="#222222" stroke-width="0.65"/>
<line x1="244.18" y1="408.96" x2="244.18" y2="410.96" stroke="#222222" stroke-width="0.65"/>
<line x1="242.68" y1="408.96" x2="245.68" y2="408.96" stroke="#222222" stroke-width="0.65"/>
<line x1="242.68" y1="410.96" x2="245.68" y2="410.96" stroke="#222222" stroke-width="0.65"/>
<line x1="248.96" y1="410.23" x2="248.96" y2="412.23" stroke="#222222" stroke-width="0.65"/>
<line x1="247.46" y1="410.23" x2="250.46" y2="410.23" stroke="#222222" stroke-width="0.65"/>
<line x1="247.46" y1="412.23" x2="250.46" y2="412.23" stroke="#222222" stroke-width="0.65"/>
<line x1="253.74" y1="411.67" x2="253.74" y2="413.67" stroke="#222222" stroke-width="0.65"/>
<line x1="252.24" y1="411.67" x2="255.24" y2="411.67" stroke="#222222" stroke-width="0.65"/>
<line x1="252.24" y1="413.67" x2="255.24" y2="413.67" stroke="#222222" stroke-width="0.65"/>
<line x1="258.51" y1="412.94" x2="258.51" y2="414.94" stroke="#222222" stroke-width="0.65"/>
<line x1="257.01" y1="412.94" x2="260.01" y2="412.94" stroke="#222222" stroke-width="0.65"/>
<line x1="257.01" y1="414.94" x2="260.01" y2="414.94" stroke="#222222" stroke-width="0.65"/>
<line x1="263.29" y1="413.84" x2="263.29" y2="415.84" stroke="#222222" stroke-width="0.65"/>
<line x1="261.79" y1="413.84" x2="264.79" y2="413.84" stroke="#222222" stroke-width="0.65"/>
<line x1="261.79" y1="415.84" x2="264.79" y2="415.84" stroke="#222222" stroke-width="0.65"/>
<line x1="268.07" y1="415.28" x2="268.07" y2="417.28" stroke="#222222" stroke-width="0.65"/>
<line x1="266.57" y1="415.28" x2="269.57" y2="415.28" stroke="#222222" stroke-width="0.65"/>
<line x1="266.57" y1="417.28" x2="269.57" y2="417.28" stroke="#222222" stroke-width="0.65"/>
<circle cx="239.41" cy="407.62" r="1.5" fill="#c9d3ec" stroke="#3d4f7c" stroke-width="0.88"/>
<circle cx="244.18" cy="409.96" r="1.5" fill="#c9d3ec" stroke="#3d4f7c" stroke-width="0.88"/>
<circle cx="248.96" cy="411.23" r="1.5" fill="#c9d3ec" stroke="#3d4f7c" stroke-width="0.88"/>
<circle cx="253.74" cy="412.67" r="1.5" fill="#c9d3ec" stroke="#3d4f7c" stroke-width="0.88"/>
<circle cx="258.51" cy="413.94" r="1.5" fill="#c9d3ec" stroke="#3d4f7c" stroke-width="0.88"/>
<circle cx="263.29" cy="414.84" r="1.5" fill="#c9d3ec" stroke="#3d4f7c" stroke-width="0.88"/>
<circle cx="268.07" cy="416.28" r="1.5" fill="#c9d3ec" stroke="#3d4f7c" stroke-width="0.88"/>
<circle cx="234.63" cy="402.2" r="1.5" fill="#edf5f6" stroke="#46646b" stroke-width="0.88"/>
<line x1="193.6" y1="448.6" x2="200.4" y2="448.6" stroke="#333" stroke-width="0.65"/>
<circle cx="197" cy="448.6" r="1.2" fill="#fff" stroke="#505050" stroke-width="0.8"/>
<text transform="translate(204 450.7) scale(1 1)" font-size="6" text-anchor="start" fill="#161616" stroke="#161616" stroke-width="0.17">Vehicle</text>
<line x1="234.7" y1="448.6" x2="241.5" y2="448.6" stroke="#333" stroke-width="0.65"/>
<circle cx="238.1" cy="448.6" r="1.2" fill="#edf5f6" stroke="#46646b" stroke-width="0.8"/>
<text transform="translate(245.2 450.7) scale(1 1)" font-size="6" text-anchor="start" fill="#161616" stroke="#161616" stroke-width="0.17">Semaglutide</text>
<line x1="291.7" y1="448.6" x2="298.5" y2="448.6" stroke="#333" stroke-width="0.65"/>
<circle cx="295.1" cy="448.6" r="1.2" fill="#dfe7f5" stroke="#4f6288" stroke-width="0.8"/>
<text transform="translate(302.2 450.7) scale(1 1)" font-size="6" text-anchor="start" fill="#161616" stroke="#161616" stroke-width="0.17">Semaglutide + GLP-1</text>
<line x1="372.4" y1="448.6" x2="379.2" y2="448.6" stroke="#333" stroke-width="0.65"/>
<circle cx="375.8" cy="448.6" r="1.2" fill="#c9d3ec" stroke="#3d4f7c" stroke-width="0.8"/>
<text transform="translate(382.8 450.7) scale(1 1)" font-size="6" text-anchor="start" fill="#161616" stroke="#161616" stroke-width="0.17">Semaglutide + GLP-1&#8211;MK-801</text>
</g>
<g>
<text transform="translate(288 348.5)" font-size="8.8" text-anchor="start" font-weight="bold" fill="#000" stroke="#000" stroke-width="0.55">s</text>
<line x1="313.3" y1="356.15" x2="313.3" y2="422.38" stroke="#222222" stroke-width="0.85"/>
<line x1="311.1" y1="356.15" x2="313.3" y2="356.15" stroke="#222222" stroke-width="0.85"/>
<text transform="translate(309.8 358.15) scale(1 1)" font-size="5.65" text-anchor="end" fill="#161616" stroke="#161616" stroke-width="0.17">10</text>
<line x1="311.1" y1="369.4" x2="313.3" y2="369.4" stroke="#222222" stroke-width="0.85"/>
<text transform="translate(309.8 371.4) scale(1 1)" font-size="5.65" text-anchor="end" fill="#161616" stroke="#161616" stroke-width="0.17">0</text>
<line x1="311.1" y1="382.64" x2="313.3" y2="382.64" stroke="#222222" stroke-width="0.85"/>
<text transform="translate(309.8 384.64) scale(1 1)" font-size="5.65" text-anchor="end" fill="#161616" stroke="#161616" stroke-width="0.17">&#8722;10</text>
<line x1="311.1" y1="395.89" x2="313.3" y2="395.89" stroke="#222222" stroke-width="0.85"/>
<text transform="translate(309.8 397.89) scale(1 1)" font-size="5.65" text-anchor="end" fill="#161616" stroke="#161616" stroke-width="0.17">&#8722;20</text>
<line x1="311.1" y1="409.13" x2="313.3" y2="409.13" stroke="#222222" stroke-width="0.85"/>
<text transform="translate(309.8 411.13) scale(1 1)" font-size="5.65" text-anchor="end" fill="#161616" stroke="#161616" stroke-width="0.17">&#8722;30</text>
<line x1="311.1" y1="422.38" x2="313.3" y2="422.38" stroke="#222222" stroke-width="0.85"/>
<text transform="translate(309.8 424.38) scale(1 1)" font-size="5.65" text-anchor="end" fill="#161616" stroke="#161616" stroke-width="0.17">&#8722;40</text>
<text transform="translate(297.4 389.7) rotate(-90) scale(1 1)" font-size="5.65" text-anchor="middle" fill="#161616" stroke="#161616" stroke-width="0.17">&#916;Body weight (%)</text>
<rect x="319" y="366.49" width="5.6" height="2.91" fill="#f2f2f2" stroke="#474747" stroke-width="0.55"/>
<line x1="321.8" y1="364.9" x2="321.8" y2="368.08" stroke="#333" stroke-width="0.45"/>
<line x1="320.3" y1="364.9" x2="323.3" y2="364.9" stroke="#333" stroke-width="0.45"/>
<line x1="320.3" y1="368.08" x2="323.3" y2="368.08" stroke="#333" stroke-width="0.45"/>
<circle cx="321.8" cy="362.12" r="0.92" fill="#fff" fill-opacity="0.7" stroke="#6a6a6a" stroke-width="0.55"/>
<circle cx="320.2" cy="368.08" r="0.92" fill="#fff" fill-opacity="0.7" stroke="#6a6a6a" stroke-width="0.55"/>
<circle cx="323.3" cy="362.12" r="0.92" fill="#fff" fill-opacity="0.7" stroke="#6a6a6a" stroke-width="0.55"/>
<circle cx="321" cy="364.1" r="0.92" fill="#fff" fill-opacity="0.7" stroke="#6a6a6a" stroke-width="0.55"/>
<circle cx="322.8" cy="368.08" r="0.92" fill="#fff" fill-opacity="0.7" stroke="#6a6a6a" stroke-width="0.55"/>
<circle cx="319.9" cy="372.05" r="0.92" fill="#fff" fill-opacity="0.7" stroke="#6a6a6a" stroke-width="0.55"/>
<circle cx="323.7" cy="374.04" r="0.92" fill="#fff" fill-opacity="0.7" stroke="#6a6a6a" stroke-width="0.55"/>
<rect x="328.2" y="369.4" width="7" height="28.87" fill="#bdcde9" stroke="#474747" stroke-width="0.55"/>
<line x1="331.7" y1="396.68" x2="331.7" y2="399.86" stroke="#333" stroke-width="0.45"/>
<line x1="330.2" y1="396.68" x2="333.2" y2="396.68" stroke="#333" stroke-width="0.45"/>
<line x1="330.2" y1="399.86" x2="333.2" y2="399.86" stroke="#333" stroke-width="0.45"/>
<circle cx="331.7" cy="390.33" r="0.92" fill="#fff" fill-opacity="0.7" stroke="#4f6288" stroke-width="0.55"/>
<circle cx="330.1" cy="395.36" r="0.92" fill="#fff" fill-opacity="0.7" stroke="#4f6288" stroke-width="0.55"/>
<circle cx="333.2" cy="396.15" r="0.92" fill="#fff" fill-opacity="0.7" stroke="#4f6288" stroke-width="0.55"/>
<circle cx="330.9" cy="392.84" r="0.92" fill="#fff" fill-opacity="0.7" stroke="#4f6288" stroke-width="0.55"/>
<circle cx="332.7" cy="400.92" r="0.92" fill="#fff" fill-opacity="0.7" stroke="#4f6288" stroke-width="0.55"/>
<circle cx="329.8" cy="399.86" r="0.92" fill="#fff" fill-opacity="0.7" stroke="#4f6288" stroke-width="0.55"/>
<circle cx="333.6" cy="402.91" r="0.92" fill="#fff" fill-opacity="0.7" stroke="#4f6288" stroke-width="0.55"/>
<circle cx="332" cy="402.51" r="0.92" fill="#fff" fill-opacity="0.7" stroke="#4f6288" stroke-width="0.55"/>
<rect x="338.1" y="369.4" width="6.9" height="36.82" fill="#92a8d6" stroke="#474747" stroke-width="0.55"/>
<line x1="341.55" y1="404.37" x2="341.55" y2="408.08" stroke="#333" stroke-width="0.45"/>
<line x1="340.05" y1="404.37" x2="343.05" y2="404.37" stroke="#333" stroke-width="0.45"/>
<line x1="340.05" y1="408.08" x2="343.05" y2="408.08" stroke="#333" stroke-width="0.45"/>
<circle cx="341.55" cy="399.33" r="0.92" fill="#fff" fill-opacity="0.7" stroke="#3d4f7c" stroke-width="0.55"/>
<circle cx="339.95" cy="405.69" r="0.92" fill="#fff" fill-opacity="0.7" stroke="#3d4f7c" stroke-width="0.55"/>
<circle cx="343.05" cy="406.09" r="0.92" fill="#fff" fill-opacity="0.7" stroke="#3d4f7c" stroke-width="0.55"/>
<circle cx="340.75" cy="401.85" r="0.92" fill="#fff" fill-opacity="0.7" stroke="#3d4f7c" stroke-width="0.55"/>
<circle cx="342.55" cy="403.57" r="0.92" fill="#fff" fill-opacity="0.7" stroke="#3d4f7c" stroke-width="0.55"/>
<circle cx="339.65" cy="409.4" r="0.92" fill="#fff" fill-opacity="0.7" stroke="#3d4f7c" stroke-width="0.55"/>
<circle cx="343.45" cy="410.19" r="0.92" fill="#fff" fill-opacity="0.7" stroke="#3d4f7c" stroke-width="0.55"/>
<circle cx="341.85" cy="411.92" r="0.92" fill="#fff" fill-opacity="0.7" stroke="#3d4f7c" stroke-width="0.55"/>
<circle cx="340.45" cy="411.92" r="0.92" fill="#fff" fill-opacity="0.7" stroke="#3d4f7c" stroke-width="0.55"/>
<line x1="313.3" y1="369.4" x2="348.7" y2="369.4" stroke="#111" stroke-width="0.8"/>
<text transform="translate(331.4 411.63)" font-size="6.5" text-anchor="middle" fill="#111" stroke="#111" stroke-width="0.22">****</text>
<text transform="translate(341.5 420.13)" font-size="6.5" text-anchor="middle" fill="#111" stroke="#111" stroke-width="0.22">****</text>
<line x1="333" y1="420.4" x2="341.5" y2="420.4" stroke="#111" stroke-width="0.95"/>
<text transform="translate(337.25 426.23)" font-size="6.5" text-anchor="middle" fill="#111" stroke="#111" stroke-width="0.22">***</text>
</g>
<g>
<text transform="translate(366.2 348.5)" font-size="8.8" text-anchor="start" font-weight="bold" fill="#000" stroke="#000" stroke-width="0.55">t</text>
<rect x="460.34" y="356.5" width="33.87" height="66.1" fill="#f1f1f1"/>
<line x1="393.4" y1="356.5" x2="393.4" y2="422.6" stroke="#222222" stroke-width="0.85"/>
<line x1="391.2" y1="422.6" x2="393.4" y2="422.6" stroke="#222222" stroke-width="0.85"/>
<text transform="translate(389.9 424.6) scale(1 1)" font-size="5.65" text-anchor="end" fill="#161616" stroke="#161616" stroke-width="0.17">0</text>
<line x1="391.2" y1="408.35" x2="393.4" y2="408.35" stroke="#222222" stroke-width="0.85"/>
<text transform="translate(389.9 410.35) scale(1 1)" font-size="5.65" text-anchor="end" fill="#161616" stroke="#161616" stroke-width="0.17">15</text>
<line x1="391.2" y1="394.1" x2="393.4" y2="394.1" stroke="#222222" stroke-width="0.85"/>
<text transform="translate(389.9 396.1) scale(1 1)" font-size="5.65" text-anchor="end" fill="#161616" stroke="#161616" stroke-width="0.17">30</text>
<line x1="391.2" y1="379.85" x2="393.4" y2="379.85" stroke="#222222" stroke-width="0.85"/>
<text transform="translate(389.9 381.85) scale(1 1)" font-size="5.65" text-anchor="end" fill="#161616" stroke="#161616" stroke-width="0.17">45</text>
<line x1="391.2" y1="365.6" x2="393.4" y2="365.6" stroke="#222222" stroke-width="0.85"/>
<text transform="translate(389.9 367.6) scale(1 1)" font-size="5.65" text-anchor="end" fill="#161616" stroke="#161616" stroke-width="0.17">60</text>
<line x1="393.4" y1="422.6" x2="493.91" y2="422.6" stroke="#222222" stroke-width="0.85"/>
<line x1="393.4" y1="422.6" x2="393.4" y2="424.8" stroke="#222222" stroke-width="0.85"/>
<text transform="translate(393.4 430.6) scale(1 1)" font-size="5.65" text-anchor="middle" fill="#161616" stroke="#161616" stroke-width="0.17">0</text>
<line x1="407.7" y1="422.6" x2="407.7" y2="424.8" stroke="#222222" stroke-width="0.85"/>
<text transform="translate(407.7 430.6) scale(1 1)" font-size="5.65" text-anchor="middle" fill="#161616" stroke="#161616" stroke-width="0.17">3</text>
<line x1="422" y1="422.6" x2="422" y2="424.8" stroke="#222222" stroke-width="0.85"/>
<text transform="translate(422 430.6) scale(1 1)" font-size="5.65" text-anchor="middle" fill="#161616" stroke="#161616" stroke-width="0.17">6</text>
<line x1="436.3" y1="422.6" x2="436.3" y2="424.8" stroke="#222222" stroke-width="0.85"/>
<text transform="translate(436.3 430.6) scale(1 1)" font-size="5.65" text-anchor="middle" fill="#161616" stroke="#161616" stroke-width="0.17">9</text>
<line x1="450.6" y1="422.6" x2="450.6" y2="424.8" stroke="#222222" stroke-width="0.85"/>
<text transform="translate(450.6 430.6) scale(1 1)" font-size="5.65" text-anchor="middle" fill="#161616" stroke="#161616" stroke-width="0.17">12</text>
<line x1="464.9" y1="422.6" x2="464.9" y2="424.8" stroke="#222222" stroke-width="0.85"/>
<text transform="translate(464.9 430.6) scale(1 1)" font-size="5.65" text-anchor="middle" fill="#161616" stroke="#161616" stroke-width="0.17">15</text>
<line x1="479.21" y1="422.6" x2="479.21" y2="424.8" stroke="#222222" stroke-width="0.85"/>
<text transform="translate(479.21 430.6) scale(1 1)" font-size="5.65" text-anchor="middle" fill="#161616" stroke="#161616" stroke-width="0.17">18</text>
<line x1="493.51" y1="422.6" x2="493.51" y2="424.8" stroke="#222222" stroke-width="0.85"/>
<text transform="translate(493.51 430.6) scale(1 1)" font-size="5.65" text-anchor="middle" fill="#161616" stroke="#161616" stroke-width="0.17">21</text>
<text transform="translate(444.8 439.8) scale(1 1)" font-size="5.65" text-anchor="middle" fill="#161616" stroke="#161616" stroke-width="0.17">Time (days)</text>
<text transform="translate(377.5 390.6) rotate(-90) scale(1 1)" font-size="5.65" text-anchor="middle" fill="#161616" stroke="#161616" stroke-width="0.17">Cumulative food intake (g)</text>
<path d="M393.4 422.6 L398.17 419.94 L402.93 417.28 L407.7 414.62 L412.47 412.34 L417.23 410.25 L422 408.06 L426.77 405.5 L431.54 402.84 L436.3 400.28 L441.07 397.9 L445.84 395.62 L450.6 393.34 L455.37 390.78 L460.14 388.21 L464.9 385.74 L469.67 383.08 L474.44 380.42 L479.21 377.76 L483.97 375.1 L488.74 372.25 L493.51 369.5" fill="none" stroke="#333" stroke-width="0.65"/>
<circle cx="393.4" cy="422.6" r="1.5" fill="#fff" stroke="#505050" stroke-width="0.88"/>
<circle cx="398.17" cy="419.94" r="1.5" fill="#fff" stroke="#505050" stroke-width="0.88"/>
<circle cx="402.93" cy="417.28" r="1.5" fill="#fff" stroke="#505050" stroke-width="0.88"/>
<circle cx="407.7" cy="414.62" r="1.5" fill="#fff" stroke="#505050" stroke-width="0.88"/>
<circle cx="412.47" cy="412.34" r="1.5" fill="#fff" stroke="#505050" stroke-width="0.88"/>
<circle cx="417.23" cy="410.25" r="1.5" fill="#fff" stroke="#505050" stroke-width="0.88"/>
<circle cx="422" cy="408.06" r="1.5" fill="#fff" stroke="#505050" stroke-width="0.88"/>
<circle cx="426.77" cy="405.5" r="1.5" fill="#fff" stroke="#505050" stroke-width="0.88"/>
<circle cx="431.54" cy="402.84" r="1.5" fill="#fff" stroke="#505050" stroke-width="0.88"/>
<circle cx="436.3" cy="400.28" r="1.5" fill="#fff" stroke="#505050" stroke-width="0.88"/>
<circle cx="441.07" cy="397.9" r="1.5" fill="#fff" stroke="#505050" stroke-width="0.88"/>
<circle cx="445.84" cy="395.62" r="1.5" fill="#fff" stroke="#505050" stroke-width="0.88"/>
<circle cx="450.6" cy="393.34" r="1.5" fill="#fff" stroke="#505050" stroke-width="0.88"/>
<circle cx="455.37" cy="390.78" r="1.5" fill="#fff" stroke="#505050" stroke-width="0.88"/>
<circle cx="460.14" cy="388.21" r="1.5" fill="#fff" stroke="#505050" stroke-width="0.88"/>
<circle cx="464.9" cy="385.74" r="1.5" fill="#fff" stroke="#505050" stroke-width="0.88"/>
<circle cx="469.67" cy="383.08" r="1.5" fill="#fff" stroke="#505050" stroke-width="0.88"/>
<circle cx="474.44" cy="380.42" r="1.5" fill="#fff" stroke="#505050" stroke-width="0.88"/>
<circle cx="479.21" cy="377.76" r="1.5" fill="#fff" stroke="#505050" stroke-width="0.88"/>
<circle cx="483.97" cy="375.1" r="1.5" fill="#fff" stroke="#505050" stroke-width="0.88"/>
<circle cx="488.74" cy="372.25" r="1.5" fill="#fff" stroke="#505050" stroke-width="0.88"/>
<circle cx="493.51" cy="369.5" r="1.5" fill="#fff" stroke="#505050" stroke-width="0.88"/>
<path d="M393.4 422.6 L398.17 422.22 L402.93 421.27 L407.7 419.75 L412.47 418.04 L417.23 416.33 L422 414.62 L426.77 413.1 L431.54 411.68 L436.3 410.25 L441.07 408.83 L445.84 407.4 L450.6 405.88 L455.37 404.55 L460.14 403.12" fill="none" stroke="#333" stroke-width="0.65"/>
<circle cx="393.4" cy="422.6" r="1.5" fill="#edf5f6" stroke="#46646b" stroke-width="0.88"/>
<circle cx="398.17" cy="422.22" r="1.5" fill="#edf5f6" stroke="#46646b" stroke-width="0.88"/>
<circle cx="402.93" cy="421.27" r="1.5" fill="#edf5f6" stroke="#46646b" stroke-width="0.88"/>
<circle cx="407.7" cy="419.75" r="1.5" fill="#edf5f6" stroke="#46646b" stroke-width="0.88"/>
<circle cx="412.47" cy="418.04" r="1.5" fill="#edf5f6" stroke="#46646b" stroke-width="0.88"/>
<circle cx="417.23" cy="416.33" r="1.5" fill="#edf5f6" stroke="#46646b" stroke-width="0.88"/>
<circle cx="422" cy="414.62" r="1.5" fill="#edf5f6" stroke="#46646b" stroke-width="0.88"/>
<circle cx="426.77" cy="413.1" r="1.5" fill="#edf5f6" stroke="#46646b" stroke-width="0.88"/>
<circle cx="431.54" cy="411.68" r="1.5" fill="#edf5f6" stroke="#46646b" stroke-width="0.88"/>
<circle cx="436.3" cy="410.25" r="1.5" fill="#edf5f6" stroke="#46646b" stroke-width="0.88"/>
<circle cx="441.07" cy="408.83" r="1.5" fill="#edf5f6" stroke="#46646b" stroke-width="0.88"/>
<circle cx="445.84" cy="407.4" r="1.5" fill="#edf5f6" stroke="#46646b" stroke-width="0.88"/>
<circle cx="450.6" cy="405.88" r="1.5" fill="#edf5f6" stroke="#46646b" stroke-width="0.88"/>
<circle cx="455.37" cy="404.55" r="1.5" fill="#edf5f6" stroke="#46646b" stroke-width="0.88"/>
<circle cx="460.14" cy="403.12" r="1.5" fill="#edf5f6" stroke="#46646b" stroke-width="0.88"/>
<path d="M460.14 403.12 L464.9 401.42 L469.67 399.23 L474.44 396.95 L479.21 394.77 L483.97 392.58 L488.74 390.3 L493.51 387.93" fill="none" stroke="#333" stroke-width="0.65"/>
<circle cx="460.14" cy="403.12" r="1.5" fill="#dfe7f5" stroke="#4f6288" stroke-width="0.88"/>
<circle cx="464.9" cy="401.42" r="1.5" fill="#dfe7f5" stroke="#4f6288" stroke-width="0.88"/>
<circle cx="469.67" cy="399.23" r="1.5" fill="#dfe7f5" stroke="#4f6288" stroke-width="0.88"/>
<circle cx="474.44" cy="396.95" r="1.5" fill="#dfe7f5" stroke="#4f6288" stroke-width="0.88"/>
<circle cx="479.21" cy="394.77" r="1.5" fill="#dfe7f5" stroke="#4f6288" stroke-width="0.88"/>
<circle cx="483.97" cy="392.58" r="1.5" fill="#dfe7f5" stroke="#4f6288" stroke-width="0.88"/>
<circle cx="488.74" cy="390.3" r="1.5" fill="#dfe7f5" stroke="#4f6288" stroke-width="0.88"/>
<circle cx="493.51" cy="387.93" r="1.5" fill="#dfe7f5" stroke="#4f6288" stroke-width="0.88"/>
<path d="M464.9 401.7 L469.67 400.18 L474.44 398.56 L479.21 396.95 L483.97 395.43 L488.74 393.81 L493.51 392.3" fill="none" stroke="#333" stroke-width="0.65"/>
<circle cx="464.9" cy="401.7" r="1.5" fill="#c9d3ec" stroke="#3d4f7c" stroke-width="0.88"/>
<circle cx="469.67" cy="400.18" r="1.5" fill="#c9d3ec" stroke="#3d4f7c" stroke-width="0.88"/>
<circle cx="474.44" cy="398.56" r="1.5" fill="#c9d3ec" stroke="#3d4f7c" stroke-width="0.88"/>
<circle cx="479.21" cy="396.95" r="1.5" fill="#c9d3ec" stroke="#3d4f7c" stroke-width="0.88"/>
<circle cx="483.97" cy="395.43" r="1.5" fill="#c9d3ec" stroke="#3d4f7c" stroke-width="0.88"/>
<circle cx="488.74" cy="393.81" r="1.5" fill="#c9d3ec" stroke="#3d4f7c" stroke-width="0.88"/>
<circle cx="493.51" cy="392.3" r="1.5" fill="#c9d3ec" stroke="#3d4f7c" stroke-width="0.88"/>
<circle cx="460.14" cy="403.12" r="1.5" fill="#edf5f6" stroke="#46646b" stroke-width="0.88"/>
</g>
<g>
<text transform="translate(511.2 348.5)" font-size="8.8" text-anchor="start" font-weight="bold" fill="#000" stroke="#000" stroke-width="0.55">u</text>
<line x1="539.7" y1="357" x2="539.7" y2="422.8" stroke="#222222" stroke-width="0.85"/>
<line x1="537.5" y1="422.8" x2="539.7" y2="422.8" stroke="#222222" stroke-width="0.85"/>
<text transform="translate(536.2 424.8) scale(1 1)" font-size="5.65" text-anchor="end" fill="#161616" stroke="#161616" stroke-width="0.17">0</text>
<line x1="537.5" y1="408.58" x2="539.7" y2="408.58" stroke="#222222" stroke-width="0.85"/>
<text transform="translate(536.2 410.58) scale(1 1)" font-size="5.65" text-anchor="end" fill="#161616" stroke="#161616" stroke-width="0.17">15</text>
<line x1="537.5" y1="394.36" x2="539.7" y2="394.36" stroke="#222222" stroke-width="0.85"/>
<text transform="translate(536.2 396.36) scale(1 1)" font-size="5.65" text-anchor="end" fill="#161616" stroke="#161616" stroke-width="0.17">30</text>
<line x1="537.5" y1="380.14" x2="539.7" y2="380.14" stroke="#222222" stroke-width="0.85"/>
<text transform="translate(536.2 382.14) scale(1 1)" font-size="5.65" text-anchor="end" fill="#161616" stroke="#161616" stroke-width="0.17">45</text>
<line x1="537.5" y1="365.92" x2="539.7" y2="365.92" stroke="#222222" stroke-width="0.85"/>
<text transform="translate(536.2 367.92) scale(1 1)" font-size="5.65" text-anchor="end" fill="#161616" stroke="#161616" stroke-width="0.17">60</text>
<line x1="539.7" y1="422.8" x2="573.7" y2="422.8" stroke="#222222" stroke-width="0.85"/>
<text transform="translate(526.2 391.5) rotate(-90) scale(1 1)" font-size="5.65" text-anchor="middle" fill="#161616" stroke="#161616" stroke-width="0.17">Total food intake (g)</text>
<rect x="543.6" y="372.56" width="7" height="50.24" fill="#e3e3e3" stroke="#474747" stroke-width="0.55"/>
<line x1="547.1" y1="371.23" x2="547.1" y2="373.88" stroke="#333" stroke-width="0.45"/>
<line x1="545.6" y1="371.23" x2="548.6" y2="371.23" stroke="#333" stroke-width="0.45"/>
<line x1="545.6" y1="373.88" x2="548.6" y2="373.88" stroke="#333" stroke-width="0.45"/>
<circle cx="547.1" cy="367.34" r="0.92" fill="#fff" fill-opacity="0.7" stroke="#6a6a6a" stroke-width="0.55"/>
<circle cx="545.5" cy="367.82" r="0.92" fill="#fff" fill-opacity="0.7" stroke="#6a6a6a" stroke-width="0.55"/>
<circle cx="548.6" cy="370.66" r="0.92" fill="#fff" fill-opacity="0.7" stroke="#6a6a6a" stroke-width="0.55"/>
<circle cx="546.3" cy="372.56" r="0.92" fill="#fff" fill-opacity="0.7" stroke="#6a6a6a" stroke-width="0.55"/>
<circle cx="548.1" cy="374.45" r="0.92" fill="#fff" fill-opacity="0.7" stroke="#6a6a6a" stroke-width="0.55"/>
<circle cx="545.2" cy="375.87" r="0.92" fill="#fff" fill-opacity="0.7" stroke="#6a6a6a" stroke-width="0.55"/>
<rect x="553.6" y="389.24" width="7.1" height="33.56" fill="#bdcde9" stroke="#474747" stroke-width="0.55"/>
<line x1="557.15" y1="387.72" x2="557.15" y2="390.76" stroke="#333" stroke-width="0.45"/>
<line x1="555.65" y1="387.72" x2="558.65" y2="387.72" stroke="#333" stroke-width="0.45"/>
<line x1="555.65" y1="390.76" x2="558.65" y2="390.76" stroke="#333" stroke-width="0.45"/>
<circle cx="557.15" cy="379.19" r="0.92" fill="#fff" fill-opacity="0.7" stroke="#4f6288" stroke-width="0.55"/>
<circle cx="555.55" cy="386.78" r="0.92" fill="#fff" fill-opacity="0.7" stroke="#4f6288" stroke-width="0.55"/>
<circle cx="558.65" cy="388.67" r="0.92" fill="#fff" fill-opacity="0.7" stroke="#4f6288" stroke-width="0.55"/>
<circle cx="556.35" cy="390.09" r="0.92" fill="#fff" fill-opacity="0.7" stroke="#4f6288" stroke-width="0.55"/>
<circle cx="558.15" cy="391.04" r="0.92" fill="#fff" fill-opacity="0.7" stroke="#4f6288" stroke-width="0.55"/>
<circle cx="555.25" cy="391.99" r="0.92" fill="#fff" fill-opacity="0.7" stroke="#4f6288" stroke-width="0.55"/>
<rect x="563.5" y="393.32" width="6.9" height="29.48" fill="#92a8d6" stroke="#474747" stroke-width="0.55"/>
<line x1="566.95" y1="392.18" x2="566.95" y2="394.45" stroke="#333" stroke-width="0.45"/>
<line x1="565.45" y1="392.18" x2="568.45" y2="392.18" stroke="#333" stroke-width="0.45"/>
<line x1="565.45" y1="394.45" x2="568.45" y2="394.45" stroke="#333" stroke-width="0.45"/>
<circle cx="566.95" cy="387.72" r="0.92" fill="#fff" fill-opacity="0.7" stroke="#3d4f7c" stroke-width="0.55"/>
<circle cx="565.35" cy="391.52" r="0.92" fill="#fff" fill-opacity="0.7" stroke="#3d4f7c" stroke-width="0.55"/>
<circle cx="568.45" cy="392.46" r="0.92" fill="#fff" fill-opacity="0.7" stroke="#3d4f7c" stroke-width="0.55"/>
<circle cx="566.15" cy="393.41" r="0.92" fill="#fff" fill-opacity="0.7" stroke="#3d4f7c" stroke-width="0.55"/>
<circle cx="567.95" cy="394.36" r="0.92" fill="#fff" fill-opacity="0.7" stroke="#3d4f7c" stroke-width="0.55"/>
<circle cx="565.05" cy="395.78" r="0.92" fill="#fff" fill-opacity="0.7" stroke="#3d4f7c" stroke-width="0.55"/>
<text transform="translate(556.8 376.33)" font-size="6.5" text-anchor="middle" fill="#111" stroke="#111" stroke-width="0.22">***</text>
<text transform="translate(566.9 386.03)" font-size="6.5" text-anchor="middle" fill="#111" stroke="#111" stroke-width="0.22">****</text>
</g>
</g>
</svg>
</body></html>
